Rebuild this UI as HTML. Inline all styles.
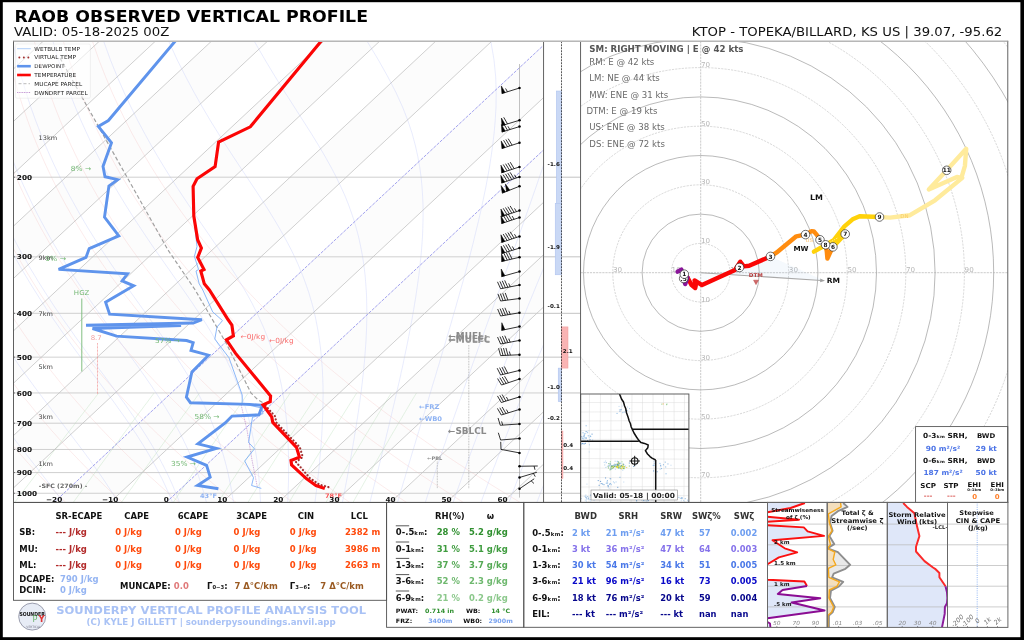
<!DOCTYPE html>
<html><head><meta charset="utf-8"><title>RAOB OBSERVED VERTICAL PROFILE</title>
<style>
html,body{margin:0;padding:0;background:#fff;}
body{width:1024px;height:640px;overflow:hidden;font-family:"DejaVu Sans","Liberation Sans",sans-serif;}
svg{display:block;font-family:"DejaVu Sans","Liberation Sans",sans-serif;will-change:transform;}
</style></head><body>
<svg width="1024" height="640" viewBox="0 0 1024 640">
<rect x="0" y="0" width="1024" height="640" fill="#000"/>
<rect x="2.8" y="2.2" width="1017.6" height="635" fill="#fff"/>
<text transform="translate(14.50,22.00) scale(1.06,1)" font-size="16.38" font-weight="bold" font-style="normal" fill="#000" >RAOB OBSERVED VERTICAL PROFILE</text>
<text transform="translate(14.00,36.20) scale(1.06,1)" font-size="12.57" font-weight="normal" font-style="normal" fill="#111" >VALID: 05-18-2025 00Z</text>
<text transform="translate(691.80,36.20) scale(1.06,1)" font-size="12.50" font-weight="normal" font-style="normal" fill="#111" >KTOP - TOPEKA/BILLARD, KS US | 39.07, -95.62</text>
<defs><clipPath id="skc"><rect x="13.5" y="41.25" width="530.1" height="461.15"/></clipPath></defs>
<g clip-path="url(#skc)">
<polygon points="-730.9,502.4 -674.9,502.4 -181.1,41.2 -237.2,41.2" fill="#fcfcfc"/>
<polygon points="-618.8,502.4 -562.7,502.4 -69.0,41.2 -125.0,41.2" fill="#fcfcfc"/>
<polygon points="-506.6,502.4 -450.6,502.4 43.2,41.2 -12.9,41.2" fill="#fcfcfc"/>
<polygon points="-394.5,502.4 -338.4,502.4 155.3,41.2 99.3,41.2" fill="#fcfcfc"/>
<polygon points="-282.4,502.4 -226.3,502.4 267.5,41.2 211.4,41.2" fill="#fcfcfc"/>
<polygon points="-170.2,502.4 -114.2,502.4 379.6,41.2 323.5,41.2" fill="#fcfcfc"/>
<polygon points="-58.1,502.4 -2.0,502.4 491.7,41.2 435.7,41.2" fill="#fcfcfc"/>
<polygon points="54.1,502.4 110.1,502.4 603.9,41.2 547.8,41.2" fill="#fcfcfc"/>
<polygon points="166.2,502.4 222.3,502.4 716.0,41.2 660.0,41.2" fill="#fcfcfc"/>
<polygon points="278.3,502.4 334.4,502.4 828.2,41.2 772.1,41.2" fill="#fcfcfc"/>
<polygon points="390.5,502.4 446.6,502.4 940.3,41.2 884.2,41.2" fill="#fcfcfc"/>
<polygon points="502.6,502.4 558.7,502.4 1052.4,41.2 996.4,41.2" fill="#fcfcfc"/>
<polyline points="-47.6,502.9 -49.2,501.0 -50.8,499.1 -52.4,497.2 -54.0,495.2 -55.6,493.3 -57.2,491.3 -58.8,489.3 -60.5,487.3 -62.1,485.3 -63.7,483.2 -65.4,481.1 -67.0,479.0 -68.7,476.9 -70.3,474.8 -72.0,472.6 -73.7,470.4 -75.3,468.2 -77.0,465.9 -78.7,463.7 -80.4,461.4 -82.1,459.0 -83.8,456.7 -85.5,454.3 -87.2,451.9 -89.0,449.5 -90.7,447.0 -92.4,444.5 -94.2,442.0 -95.9,439.4 -97.7,436.8 -99.4,434.1 -101.2,431.5 -103.0,428.8 -104.8,426.0 -106.5,423.2 -108.3,420.4 -110.1,417.5 -111.9,414.6 -113.7,411.7 -115.6,408.7 -117.4,405.6 -119.2,402.5 -121.0,399.4 -122.9,396.2 -124.7,393.0 -126.6,389.7 -128.4,386.3 -130.3,382.9 -132.1,379.4 -134.0,375.9 -135.9,372.3 -137.8,368.6 -139.6,364.9 -141.5,361.0 -143.4,357.1 -145.3,353.2 -147.2,349.1 -149.1,345.0 -151.0,340.8 -152.9,336.5 -154.8,332.0 -156.7,327.5 -158.6,322.9 -160.4,318.2 -162.3,313.3 -164.2,308.4 -166.1,303.2 -168.0,298.0 -169.9,292.6 -171.7,287.1 -173.6,281.4 -175.4,275.5 -177.2,269.5 -179.0,263.3 -180.8,256.8 -182.5,250.2 -184.3,243.3 -186.0,236.1 -187.6,228.7 -189.2,221.0 -190.8,213.0 -192.3,204.6 -193.7,195.9 -195.1,186.8 -196.3,177.2 -197.5,167.1 -198.5,156.5 -199.4,145.3 -200.1,133.4 -200.6,120.7 -200.9,107.1 -200.8,92.6 -200.4,76.9 -199.5,59.8 -198.0,41.1" fill="none" stroke="#f3b6b6" stroke-width="0.45" opacity="0.6"/>
<polyline points="9.2,502.9 7.5,501.0 5.7,499.1 4.0,497.2 2.2,495.2 0.5,493.3 -1.3,491.3 -3.1,489.3 -4.9,487.3 -6.7,485.3 -8.5,483.2 -10.3,481.1 -12.1,479.0 -13.9,476.9 -15.8,474.8 -17.6,472.6 -19.4,470.4 -21.3,468.2 -23.1,465.9 -25.0,463.7 -26.9,461.4 -28.8,459.0 -30.7,456.7 -32.6,454.3 -34.5,451.9 -36.4,449.5 -38.3,447.0 -40.2,444.5 -42.1,442.0 -44.1,439.4 -46.0,436.8 -48.0,434.1 -50.0,431.5 -51.9,428.8 -53.9,426.0 -55.9,423.2 -57.9,420.4 -59.9,417.5 -61.9,414.6 -64.0,411.7 -66.0,408.7 -68.0,405.6 -70.1,402.5 -72.1,399.4 -74.2,396.2 -76.3,393.0 -78.3,389.7 -80.4,386.3 -82.5,382.9 -84.6,379.4 -86.7,375.9 -88.9,372.3 -91.0,368.6 -93.1,364.9 -95.3,361.0 -97.4,357.1 -99.6,353.2 -101.7,349.1 -103.9,345.0 -106.1,340.8 -108.2,336.5 -110.4,332.0 -112.6,327.5 -114.8,322.9 -117.0,318.2 -119.2,313.3 -121.4,308.4 -123.6,303.2 -125.8,298.0 -128.0,292.6 -130.2,287.1 -132.4,281.4 -134.5,275.5 -136.7,269.5 -138.9,263.3 -141.0,256.8 -143.2,250.2 -145.3,243.3 -147.4,236.1 -149.5,228.7 -151.5,221.0 -153.5,213.0 -155.4,204.6 -157.3,195.9 -159.2,186.8 -160.9,177.2 -162.6,167.1 -164.2,156.5 -165.6,145.3 -166.9,133.4 -168.0,120.7 -168.9,107.1 -169.5,92.6 -169.8,76.9 -169.7,59.8 -169.0,41.1" fill="none" stroke="#f3b6b6" stroke-width="0.45" opacity="0.6"/>
<polyline points="66.1,502.9 64.2,501.0 62.3,499.1 60.4,497.2 58.5,495.2 56.5,493.3 54.6,491.3 52.7,489.3 50.7,487.3 48.7,485.3 46.8,483.2 44.8,481.1 42.8,479.0 40.8,476.9 38.8,474.8 36.8,472.6 34.8,470.4 32.8,468.2 30.7,465.9 28.7,463.7 26.6,461.4 24.6,459.0 22.5,456.7 20.4,454.3 18.3,451.9 16.2,449.5 14.1,447.0 12.0,444.5 9.9,442.0 7.8,439.4 5.6,436.8 3.4,434.1 1.3,431.5 -0.9,428.8 -3.1,426.0 -5.3,423.2 -7.5,420.4 -9.7,417.5 -11.9,414.6 -14.2,411.7 -16.4,408.7 -18.7,405.6 -20.9,402.5 -23.2,399.4 -25.5,396.2 -27.8,393.0 -30.1,389.7 -32.4,386.3 -34.8,382.9 -37.1,379.4 -39.5,375.9 -41.8,372.3 -44.2,368.6 -46.6,364.9 -49.0,361.0 -51.4,357.1 -53.8,353.2 -56.3,349.1 -58.7,345.0 -61.1,340.8 -63.6,336.5 -66.1,332.0 -68.5,327.5 -71.0,322.9 -73.5,318.2 -76.0,313.3 -78.5,308.4 -81.1,303.2 -83.6,298.0 -86.1,292.6 -88.6,287.1 -91.2,281.4 -93.7,275.5 -96.2,269.5 -98.8,263.3 -101.3,256.8 -103.8,250.2 -106.3,243.3 -108.8,236.1 -111.3,228.7 -113.8,221.0 -116.2,213.0 -118.6,204.6 -121.0,195.9 -123.3,186.8 -125.5,177.2 -127.7,167.1 -129.8,156.5 -131.8,145.3 -133.7,133.4 -135.4,120.7 -136.9,107.1 -138.2,92.6 -139.2,76.9 -139.8,59.8 -140.0,41.1" fill="none" stroke="#f3b6b6" stroke-width="0.45" opacity="0.6"/>
<polyline points="123.0,502.9 120.9,501.0 118.8,499.1 116.8,497.2 114.7,495.2 112.6,493.3 110.5,491.3 108.4,489.3 106.3,487.3 104.2,485.3 102.0,483.2 99.9,481.1 97.7,479.0 95.6,476.9 93.4,474.8 91.2,472.6 89.0,470.4 86.8,468.2 84.6,465.9 82.4,463.7 80.2,461.4 77.9,459.0 75.7,456.7 73.4,454.3 71.1,451.9 68.8,449.5 66.6,447.0 64.2,444.5 61.9,442.0 59.6,439.4 57.3,436.8 54.9,434.1 52.5,431.5 50.2,428.8 47.8,426.0 45.4,423.2 43.0,420.4 40.5,417.5 38.1,414.6 35.6,411.7 33.2,408.7 30.7,405.6 28.2,402.5 25.7,399.4 23.2,396.2 20.7,393.0 18.1,389.7 15.6,386.3 13.0,382.9 10.4,379.4 7.8,375.9 5.2,372.3 2.6,368.6 -0.1,364.9 -2.7,361.0 -5.4,357.1 -8.1,353.2 -10.8,349.1 -13.5,345.0 -16.2,340.8 -19.0,336.5 -21.7,332.0 -24.5,327.5 -27.3,322.9 -30.1,318.2 -32.9,313.3 -35.7,308.4 -38.5,303.2 -41.4,298.0 -44.2,292.6 -47.1,287.1 -50.0,281.4 -52.9,275.5 -55.7,269.5 -58.6,263.3 -61.5,256.8 -64.4,250.2 -67.3,243.3 -70.3,236.1 -73.1,228.7 -76.0,221.0 -78.9,213.0 -81.8,204.6 -84.6,195.9 -87.4,186.8 -90.1,177.2 -92.8,167.1 -95.5,156.5 -98.0,145.3 -100.5,133.4 -102.8,120.7 -104.9,107.1 -106.9,92.6 -108.6,76.9 -110.0,59.8 -110.9,41.1" fill="none" stroke="#f3b6b6" stroke-width="0.45" opacity="0.6"/>
<polyline points="179.8,502.9 177.6,501.0 175.4,499.1 173.2,497.2 170.9,495.2 168.7,493.3 166.4,491.3 164.1,489.3 161.9,487.3 159.6,485.3 157.3,483.2 155.0,481.1 152.7,479.0 150.3,476.9 148.0,474.8 145.6,472.6 143.3,470.4 140.9,468.2 138.5,465.9 136.1,463.7 133.7,461.4 131.3,459.0 128.8,456.7 126.4,454.3 123.9,451.9 121.5,449.5 119.0,447.0 116.5,444.5 114.0,442.0 111.4,439.4 108.9,436.8 106.3,434.1 103.8,431.5 101.2,428.8 98.6,426.0 96.0,423.2 93.4,420.4 90.7,417.5 88.1,414.6 85.4,411.7 82.7,408.7 80.1,405.6 77.3,402.5 74.6,399.4 71.9,396.2 69.1,393.0 66.3,389.7 63.5,386.3 60.7,382.9 57.9,379.4 55.1,375.9 52.2,372.3 49.3,368.6 46.4,364.9 43.5,361.0 40.6,357.1 37.6,353.2 34.7,349.1 31.7,345.0 28.7,340.8 25.7,336.5 22.6,332.0 19.6,327.5 16.5,322.9 13.4,318.2 10.3,313.3 7.2,308.4 4.0,303.2 0.8,298.0 -2.4,292.6 -5.6,287.1 -8.8,281.4 -12.0,275.5 -15.3,269.5 -18.5,263.3 -21.8,256.8 -25.1,250.2 -28.4,243.3 -31.7,236.1 -35.0,228.7 -38.3,221.0 -41.6,213.0 -44.9,204.6 -48.2,195.9 -51.5,186.8 -54.7,177.2 -57.9,167.1 -61.1,156.5 -64.2,145.3 -67.2,133.4 -70.2,120.7 -73.0,107.1 -75.6,92.6 -78.0,76.9 -80.1,59.8 -81.9,41.1" fill="none" stroke="#f3b6b6" stroke-width="0.45" opacity="0.6"/>
<polyline points="236.7,502.9 234.3,501.0 231.9,499.1 229.5,497.2 227.1,495.2 224.7,493.3 222.3,491.3 219.9,489.3 217.5,487.3 215.0,485.3 212.5,483.2 210.1,481.1 207.6,479.0 205.1,476.9 202.6,474.8 200.0,472.6 197.5,470.4 194.9,468.2 192.4,465.9 189.8,463.7 187.2,461.4 184.6,459.0 182.0,456.7 179.4,454.3 176.7,451.9 174.1,449.5 171.4,447.0 168.7,444.5 166.0,442.0 163.3,439.4 160.5,436.8 157.8,434.1 155.0,431.5 152.2,428.8 149.5,426.0 146.6,423.2 143.8,420.4 141.0,417.5 138.1,414.6 135.2,411.7 132.3,408.7 129.4,405.6 126.5,402.5 123.5,399.4 120.6,396.2 117.6,393.0 114.6,389.7 111.5,386.3 108.5,382.9 105.4,379.4 102.3,375.9 99.2,372.3 96.1,368.6 92.9,364.9 89.8,361.0 86.6,357.1 83.4,353.2 80.1,349.1 76.9,345.0 73.6,340.8 70.3,336.5 67.0,332.0 63.6,327.5 60.3,322.9 56.9,318.2 53.4,313.3 50.0,308.4 46.5,303.2 43.0,298.0 39.5,292.6 36.0,287.1 32.4,281.4 28.8,275.5 25.2,269.5 21.6,263.3 18.0,256.8 14.3,250.2 10.6,243.3 6.9,236.1 3.2,228.7 -0.6,221.0 -4.3,213.0 -8.1,204.6 -11.8,195.9 -15.6,186.8 -19.3,177.2 -23.1,167.1 -26.8,156.5 -30.4,145.3 -34.0,133.4 -37.6,120.7 -41.0,107.1 -44.3,92.6 -47.4,76.9 -50.3,59.8 -52.8,41.1" fill="none" stroke="#f3b6b6" stroke-width="0.45" opacity="0.6"/>
<polyline points="293.5,502.9 291.0,501.0 288.5,499.1 285.9,497.2 283.4,495.2 280.8,493.3 278.2,491.3 275.6,489.3 273.0,487.3 270.4,485.3 267.8,483.2 265.2,481.1 262.5,479.0 259.8,476.9 257.1,474.8 254.4,472.6 251.7,470.4 249.0,468.2 246.3,465.9 243.5,463.7 240.7,461.4 238.0,459.0 235.2,456.7 232.3,454.3 229.5,451.9 226.7,449.5 223.8,447.0 220.9,444.5 218.0,442.0 215.1,439.4 212.2,436.8 209.2,434.1 206.3,431.5 203.3,428.8 200.3,426.0 197.3,423.2 194.2,420.4 191.2,417.5 188.1,414.6 185.0,411.7 181.9,408.7 178.8,405.6 175.6,402.5 172.4,399.4 169.2,396.2 166.0,393.0 162.8,389.7 159.5,386.3 156.2,382.9 152.9,379.4 149.6,375.9 146.2,372.3 142.9,368.6 139.5,364.9 136.0,361.0 132.6,357.1 129.1,353.2 125.6,349.1 122.1,345.0 118.5,340.8 114.9,336.5 111.3,332.0 107.7,327.5 104.0,322.9 100.3,318.2 96.6,313.3 92.8,308.4 89.1,303.2 85.2,298.0 81.4,292.6 77.5,287.1 73.6,281.4 69.7,275.5 65.7,269.5 61.7,263.3 57.7,256.8 53.7,250.2 49.6,243.3 45.5,236.1 41.3,228.7 37.2,221.0 33.0,213.0 28.8,204.6 24.6,195.9 20.3,186.8 16.1,177.2 11.8,167.1 7.6,156.5 3.4,145.3 -0.8,133.4 -5.0,120.7 -9.0,107.1 -13.0,92.6 -16.8,76.9 -20.4,59.8 -23.8,41.1" fill="none" stroke="#f3b6b6" stroke-width="0.45" opacity="0.6"/>
<polyline points="350.4,502.9 347.7,501.0 345.0,499.1 342.3,497.2 339.6,495.2 336.9,493.3 334.1,491.3 331.4,489.3 328.6,487.3 325.8,485.3 323.0,483.2 320.2,481.1 317.4,479.0 314.6,476.9 311.7,474.8 308.9,472.6 306.0,470.4 303.1,468.2 300.2,465.9 297.2,463.7 294.3,461.4 291.3,459.0 288.3,456.7 285.3,454.3 282.3,451.9 279.3,449.5 276.2,447.0 273.2,444.5 270.1,442.0 267.0,439.4 263.8,436.8 260.7,434.1 257.5,431.5 254.3,428.8 251.1,426.0 247.9,423.2 244.7,420.4 241.4,417.5 238.1,414.6 234.8,411.7 231.5,408.7 228.1,405.6 224.7,402.5 221.3,399.4 217.9,396.2 214.5,393.0 211.0,389.7 207.5,386.3 204.0,382.9 200.4,379.4 196.9,375.9 193.3,372.3 189.6,368.6 186.0,364.9 182.3,361.0 178.6,357.1 174.8,353.2 171.1,349.1 167.3,345.0 163.4,340.8 159.6,336.5 155.7,332.0 151.7,327.5 147.8,322.9 143.8,318.2 139.7,313.3 135.7,308.4 131.6,303.2 127.4,298.0 123.3,292.6 119.1,287.1 114.8,281.4 110.5,275.5 106.2,269.5 101.9,263.3 97.5,256.8 93.0,250.2 88.5,243.3 84.0,236.1 79.5,228.7 74.9,221.0 70.3,213.0 65.6,204.6 60.9,195.9 56.2,186.8 51.5,177.2 46.7,167.1 41.9,156.5 37.2,145.3 32.4,133.4 27.7,120.7 23.0,107.1 18.3,92.6 13.8,76.9 9.4,59.8 5.3,41.1" fill="none" stroke="#f3b6b6" stroke-width="0.45" opacity="0.6"/>
<polyline points="407.2,502.9 404.4,501.0 401.6,499.1 398.7,497.2 395.8,495.2 393.0,493.3 390.1,491.3 387.1,489.3 384.2,487.3 381.3,485.3 378.3,483.2 375.3,481.1 372.3,479.0 369.3,476.9 366.3,474.8 363.3,472.6 360.2,470.4 357.1,468.2 354.0,465.9 350.9,463.7 347.8,461.4 344.7,459.0 341.5,456.7 338.3,454.3 335.1,451.9 331.9,449.5 328.6,447.0 325.4,444.5 322.1,442.0 318.8,439.4 315.5,436.8 312.1,434.1 308.8,431.5 305.4,428.8 302.0,426.0 298.6,423.2 295.1,420.4 291.6,417.5 288.1,414.6 284.6,411.7 281.1,408.7 277.5,405.6 273.9,402.5 270.3,399.4 266.6,396.2 262.9,393.0 259.2,389.7 255.5,386.3 251.7,382.9 247.9,379.4 244.1,375.9 240.3,372.3 236.4,368.6 232.5,364.9 228.5,361.0 224.6,357.1 220.6,353.2 216.5,349.1 212.5,345.0 208.3,340.8 204.2,336.5 200.0,332.0 195.8,327.5 191.5,322.9 187.2,318.2 182.9,313.3 178.5,308.4 174.1,303.2 169.7,298.0 165.2,292.6 160.6,287.1 156.0,281.4 151.4,275.5 146.7,269.5 142.0,263.3 137.2,256.8 132.4,250.2 127.5,243.3 122.6,236.1 117.6,228.7 112.6,221.0 107.6,213.0 102.5,204.6 97.3,195.9 92.1,186.8 86.9,177.2 81.6,167.1 76.3,156.5 71.0,145.3 65.6,133.4 60.3,120.7 54.9,107.1 49.6,92.6 44.4,76.9 39.3,59.8 34.3,41.1" fill="none" stroke="#f3b6b6" stroke-width="0.45" opacity="0.6"/>
<polyline points="464.1,502.9 461.1,501.0 458.1,499.1 455.1,497.2 452.1,495.2 449.0,493.3 446.0,491.3 442.9,489.3 439.8,487.3 436.7,485.3 433.6,483.2 430.4,481.1 427.3,479.0 424.1,476.9 420.9,474.8 417.7,472.6 414.4,470.4 411.2,468.2 407.9,465.9 404.6,463.7 401.3,461.4 398.0,459.0 394.6,456.7 391.3,454.3 387.9,451.9 384.5,449.5 381.1,447.0 377.6,444.5 374.1,442.0 370.6,439.4 367.1,436.8 363.6,434.1 360.0,431.5 356.4,428.8 352.8,426.0 349.2,423.2 345.5,420.4 341.8,417.5 338.1,414.6 334.4,411.7 330.6,408.7 326.8,405.6 323.0,402.5 319.2,399.4 315.3,396.2 311.4,393.0 307.5,389.7 303.5,386.3 299.5,382.9 295.5,379.4 291.4,375.9 287.3,372.3 283.2,368.6 279.0,364.9 274.8,361.0 270.6,357.1 266.3,353.2 262.0,349.1 257.6,345.0 253.3,340.8 248.8,336.5 244.4,332.0 239.9,327.5 235.3,322.9 230.7,318.2 226.1,313.3 221.4,308.4 216.6,303.2 211.9,298.0 207.0,292.6 202.1,287.1 197.2,281.4 192.2,275.5 187.2,269.5 182.1,263.3 177.0,256.8 171.8,250.2 166.5,243.3 161.2,236.1 155.8,228.7 150.4,221.0 144.9,213.0 139.3,204.6 133.7,195.9 128.0,186.8 122.3,177.2 116.5,167.1 110.7,156.5 104.8,145.3 98.8,133.4 92.9,120.7 86.9,107.1 80.9,92.6 75.0,76.9 69.1,59.8 63.3,41.1" fill="none" stroke="#f3b6b6" stroke-width="0.45" opacity="0.6"/>
<polyline points="521.0,502.9 517.8,501.0 514.7,499.1 511.5,497.2 508.3,495.2 505.1,493.3 501.9,491.3 498.6,489.3 495.4,487.3 492.1,485.3 488.8,483.2 485.5,481.1 482.2,479.0 478.8,476.9 475.5,474.8 472.1,472.6 468.7,470.4 465.2,468.2 461.8,465.9 458.3,463.7 454.8,461.4 451.3,459.0 447.8,456.7 444.3,454.3 440.7,451.9 437.1,449.5 433.5,447.0 429.8,444.5 426.2,442.0 422.5,439.4 418.8,436.8 415.0,434.1 411.3,431.5 407.5,428.8 403.7,426.0 399.8,423.2 396.0,420.4 392.1,417.5 388.1,414.6 384.2,411.7 380.2,408.7 376.2,405.6 372.2,402.5 368.1,399.4 364.0,396.2 359.8,393.0 355.7,389.7 351.5,386.3 347.2,382.9 343.0,379.4 338.7,375.9 334.3,372.3 329.9,368.6 325.5,364.9 321.1,361.0 316.6,357.1 312.0,353.2 307.5,349.1 302.8,345.0 298.2,340.8 293.5,336.5 288.7,332.0 283.9,327.5 279.1,322.9 274.2,318.2 269.2,313.3 264.2,308.4 259.2,303.2 254.1,298.0 248.9,292.6 243.7,287.1 238.4,281.4 233.1,275.5 227.7,269.5 222.2,263.3 216.7,256.8 211.1,250.2 205.5,243.3 199.8,236.1 194.0,228.7 188.1,221.0 182.2,213.0 176.2,204.6 170.1,195.9 163.9,186.8 157.7,177.2 151.4,167.1 145.0,156.5 138.6,145.3 132.0,133.4 125.5,120.7 118.9,107.1 112.2,92.6 105.6,76.9 98.9,59.8 92.4,41.1" fill="none" stroke="#f3b6b6" stroke-width="0.45" opacity="0.6"/>
<polyline points="-48.1,502.9 -55.6,493.3 -57.1,491.3 -58.7,489.3 -60.2,487.3 -61.8,485.3 -63.4,483.2 -64.9,481.1 -66.5,479.0 -68.1,476.9 -69.7,474.8 -71.3,472.6 -73.0,470.4 -74.6,468.2 -76.2,465.9 -77.9,463.7 -79.5,461.4 -81.2,459.0 -82.9,456.7 -84.5,454.3 -86.2,451.9 -87.9,449.5 -89.6,447.0 -91.3,444.5 -93.1,442.0 -94.8,439.4 -96.5,436.8 -98.3,434.1 -100.0,431.5 -101.8,428.8 -103.5,426.0 -105.3,423.2 -107.1,420.4 -108.9,417.5 -110.7,414.6 -112.5,411.7 -114.3,408.7 -116.1,405.6 -117.9,402.5 -119.7,399.4 -121.5,396.2 -123.4,393.0 -125.2,389.7 -127.1,386.3 -128.9,382.9 -130.8,379.4 -132.7,375.9 -134.5,372.3 -136.4,368.6 -138.3,364.9 -140.2,361.0 -142.0,357.1 -143.9,353.2 -145.8,349.1 -147.7,345.0 -149.6,340.8 -151.5,336.5 -153.4,332.0 -155.3,327.5 -157.2,322.9 -159.1,318.2 -161.0,313.3 -162.9,308.4 -164.8,303.2 -166.6,298.0 -168.5,292.6 -170.4,287.1 -172.2,281.4 -174.1,275.5 -175.9,269.5 -177.7,263.3 -179.5,256.8 -181.2,250.2 -183.0,243.3 -184.7,236.1 -186.3,228.7 -187.9,221.0 -189.5,213.0 -191.0,204.6 -192.4,195.9 -193.8,186.8 -195.1,177.2 -196.2,167.1 -197.3,156.5 -198.2,145.3 -198.9,133.4 -199.4,120.7 -199.6,107.1 -199.6,92.6 -199.2,76.9 -198.3,59.8 -196.9,41.1" fill="none" stroke="#c2cbf8" stroke-width="0.45" opacity="0.8"/>
<polyline points="8.1,502.9 0.5,493.3 -1.1,491.3 -2.7,489.3 -4.3,487.3 -5.9,485.3 -7.6,483.2 -9.2,481.1 -10.9,479.0 -12.5,476.9 -14.2,474.8 -15.9,472.6 -17.7,470.4 -19.4,468.2 -21.1,465.9 -22.9,463.7 -24.7,461.4 -26.4,459.0 -28.2,456.7 -30.0,454.3 -31.9,451.9 -33.7,449.5 -35.6,447.0 -37.4,444.5 -39.3,442.0 -41.2,439.4 -43.1,436.8 -45.0,434.1 -46.9,431.5 -48.8,428.8 -50.8,426.0 -52.7,423.2 -54.7,420.4 -56.7,417.5 -58.7,414.6 -60.7,411.7 -62.7,408.7 -64.7,405.6 -66.7,402.5 -68.8,399.4 -70.8,396.2 -72.9,393.0 -75.0,389.7 -77.0,386.3 -79.1,382.9 -81.2,379.4 -83.3,375.9 -85.5,372.3 -87.6,368.6 -89.7,364.9 -91.9,361.0 -94.0,357.1 -96.2,353.2 -98.4,349.1 -100.5,345.0 -102.7,340.8 -104.9,336.5 -107.1,332.0 -109.3,327.5 -111.5,322.9 -113.7,318.2 -115.9,313.3 -118.1,308.4 -120.3,303.2 -122.6,298.0 -124.8,292.6 -127.0,287.1 -129.2,281.4 -131.4,275.5 -133.6,269.5 -135.8,263.3 -137.9,256.8 -140.1,250.2 -142.2,243.3 -144.4,236.1 -146.5,228.7 -148.5,221.0 -150.5,213.0 -152.5,204.6 -154.4,195.9 -156.3,186.8 -158.1,177.2 -159.8,167.1 -161.4,156.5 -162.8,145.3 -164.2,133.4 -165.3,120.7 -166.2,107.1 -166.9,92.6 -167.2,76.9 -167.1,59.8 -166.5,41.1" fill="none" stroke="#c2cbf8" stroke-width="0.45" opacity="0.8"/>
<polyline points="63.7,502.9 56.5,493.3 55.0,491.3 53.5,489.3 52.0,487.3 50.4,485.3 48.8,483.2 47.2,481.1 45.6,479.0 43.9,476.9 42.3,474.8 40.6,472.6 38.8,470.4 37.1,468.2 35.4,465.9 33.6,463.7 31.8,461.4 30.0,459.0 28.1,456.7 26.3,454.3 24.4,451.9 22.5,449.5 20.5,447.0 18.6,444.5 16.6,442.0 14.7,439.4 12.7,436.8 10.6,434.1 8.6,431.5 6.5,428.8 4.4,426.0 2.3,423.2 0.2,420.4 -1.9,417.5 -4.1,414.6 -6.2,411.7 -8.4,408.7 -10.6,405.6 -12.9,402.5 -15.1,399.4 -17.4,396.2 -19.6,393.0 -21.9,389.7 -24.2,386.3 -26.5,382.9 -28.9,379.4 -31.2,375.9 -33.6,372.3 -36.0,368.6 -38.4,364.9 -40.8,361.0 -43.2,357.1 -45.7,353.2 -48.1,349.1 -50.6,345.0 -53.1,340.8 -55.5,336.5 -58.0,332.0 -60.6,327.5 -63.1,322.9 -65.6,318.2 -68.2,313.3 -70.7,308.4 -73.3,303.2 -75.8,298.0 -78.4,292.6 -81.0,287.1 -83.6,281.4 -86.2,275.5 -88.8,269.5 -91.3,263.3 -93.9,256.8 -96.5,250.2 -99.1,243.3 -101.7,236.1 -104.2,228.7 -106.7,221.0 -109.2,213.0 -111.7,204.6 -114.1,195.9 -116.5,186.8 -118.9,177.2 -121.1,167.1 -123.3,156.5 -125.4,145.3 -127.4,133.4 -129.2,120.7 -130.8,107.1 -132.2,92.6 -133.3,76.9 -134.1,59.8 -134.4,41.1" fill="none" stroke="#c2cbf8" stroke-width="0.45" opacity="0.8"/>
<polyline points="118.5,502.9 112.6,493.3 111.3,491.3 110.1,489.3 108.7,487.3 107.4,485.3 106.0,483.2 104.6,481.1 103.2,479.0 101.8,476.9 100.3,474.8 98.8,472.6 97.2,470.4 95.6,468.2 94.0,465.9 92.4,463.7 90.8,461.4 89.1,459.0 87.3,456.7 85.6,454.3 83.8,451.9 82.0,449.5 80.1,447.0 78.3,444.5 76.3,442.0 74.4,439.4 72.4,436.8 70.4,434.1 68.4,431.5 66.3,428.8 64.2,426.0 62.1,423.2 59.9,420.4 57.7,417.5 55.5,414.6 53.2,411.7 50.9,408.7 48.6,405.6 46.3,402.5 43.9,399.4 41.5,396.2 39.1,393.0 36.6,389.7 34.1,386.3 31.6,382.9 29.1,379.4 26.5,375.9 23.9,372.3 21.3,368.6 18.7,364.9 16.0,361.0 13.3,357.1 10.6,353.2 7.9,349.1 5.1,345.0 2.3,340.8 -0.5,336.5 -3.3,332.0 -6.2,327.5 -9.0,322.9 -11.9,318.2 -14.8,313.3 -17.7,308.4 -20.7,303.2 -23.6,298.0 -26.6,292.6 -29.6,287.1 -32.6,281.4 -35.6,275.5 -38.6,269.5 -41.7,263.3 -44.7,256.8 -47.8,250.2 -50.8,243.3 -53.9,236.1 -56.9,228.7 -60.0,221.0 -63.0,213.0 -66.1,204.6 -69.1,195.9 -72.1,186.8 -75.0,177.2 -77.9,167.1 -80.8,156.5 -83.6,145.3 -86.2,133.4 -88.8,120.7 -91.2,107.1 -93.4,92.6 -95.4,76.9 -97.1,59.8 -98.4,41.1" fill="none" stroke="#c2cbf8" stroke-width="0.45" opacity="0.8"/>
<polyline points="172.7,502.9 168.7,493.3 167.8,491.3 166.9,489.3 166.0,487.3 165.1,485.3 164.1,483.2 163.1,481.1 162.1,479.0 161.0,476.9 159.9,474.8 158.8,472.6 157.7,470.4 156.5,468.2 155.3,465.9 154.0,463.7 152.8,461.4 151.4,459.0 150.1,456.7 148.7,454.3 147.3,451.9 145.8,449.5 144.3,447.0 142.8,444.5 141.2,442.0 139.5,439.4 137.9,436.8 136.2,434.1 134.4,431.5 132.6,428.8 130.7,426.0 128.8,423.2 126.9,420.4 124.9,417.5 122.8,414.6 120.7,411.7 118.6,408.7 116.4,405.6 114.2,402.5 111.9,399.4 109.5,396.2 107.1,393.0 104.7,389.7 102.2,386.3 99.6,382.9 97.1,379.4 94.4,375.9 91.7,372.3 89.0,368.6 86.2,364.9 83.4,361.0 80.5,357.1 77.6,353.2 74.6,349.1 71.6,345.0 68.6,340.8 65.5,336.5 62.3,332.0 59.2,327.5 56.0,322.9 52.7,318.2 49.4,313.3 46.1,308.4 42.8,303.2 39.4,298.0 36.0,292.6 32.5,287.1 29.0,281.4 25.5,275.5 22.0,269.5 18.4,263.3 14.8,256.8 11.2,250.2 7.6,243.3 3.9,236.1 0.2,228.7 -3.4,221.0 -7.1,213.0 -10.8,204.6 -14.6,195.9 -18.3,186.8 -21.9,177.2 -25.6,167.1 -29.3,156.5 -32.9,145.3 -36.4,133.4 -39.9,120.7 -43.3,107.1 -46.5,92.6 -49.5,76.9 -52.3,59.8 -54.8,41.1" fill="none" stroke="#c2cbf8" stroke-width="0.45" opacity="0.8"/>
<polyline points="179.7,502.9 176.0,493.3 175.2,491.3 174.3,489.3 173.5,487.3 172.6,485.3 171.7,483.2 170.7,481.1 169.8,479.0 168.8,476.9 167.8,474.8 166.7,472.6 165.6,470.4 164.5,468.2 163.4,465.9 162.2,463.7 161.0,461.4 159.8,459.0 158.5,456.7 157.2,454.3 155.8,451.9 154.4,449.5 153.0,447.0 151.5,444.5 150.0,442.0 148.4,439.4 146.8,436.8 145.1,434.1 143.4,431.5 141.7,428.8 139.9,426.0 138.1,423.2 136.2,420.4 134.2,417.5 132.2,414.6 130.2,411.7 128.1,408.7 126.0,405.6 123.8,402.5 121.5,399.4 119.2,396.2 116.8,393.0 114.4,389.7 112.0,386.3 109.4,382.9 106.9,379.4 104.3,375.9 101.6,372.3 98.8,368.6 96.1,364.9 93.2,361.0 90.4,357.1 87.4,353.2 84.4,349.1 81.4,345.0 78.3,340.8 75.2,336.5 72.1,332.0 68.9,327.5 65.6,322.9 62.3,318.2 59.0,313.3 55.6,308.4 52.2,303.2 48.8,298.0 45.3,292.6 41.8,287.1 38.2,281.4 34.7,275.5 31.0,269.5 27.4,263.3 23.7,256.8 20.0,250.2 16.3,243.3 12.6,236.1 8.8,228.7 5.0,221.0 1.2,213.0 -2.6,204.6 -6.4,195.9 -10.2,186.8 -14.0,177.2 -17.8,167.1 -21.5,156.5 -25.3,145.3 -29.0,133.4 -32.6,120.7 -36.1,107.1 -39.5,92.6 -42.7,76.9 -45.6,59.8 -48.3,41.1" fill="none" stroke="#c2cbf8" stroke-width="0.45" opacity="0.8"/>
<polyline points="206.6,502.9 204.0,493.3 203.4,491.3 202.8,489.3 202.2,487.3 201.6,485.3 200.9,483.2 200.2,481.1 199.5,479.0 198.8,476.9 198.1,474.8 197.3,472.6 196.5,470.4 195.6,468.2 194.8,465.9 193.9,463.7 193.0,461.4 192.0,459.0 191.0,456.7 190.0,454.3 189.0,451.9 187.9,449.5 186.7,447.0 185.6,444.5 184.3,442.0 183.1,439.4 181.8,436.8 180.5,434.1 179.1,431.5 177.6,428.8 176.1,426.0 174.6,423.2 173.0,420.4 171.4,417.5 169.7,414.6 167.9,411.7 166.1,408.7 164.2,405.6 162.3,402.5 160.3,399.4 158.2,396.2 156.1,393.0 153.9,389.7 151.7,386.3 149.3,382.9 146.9,379.4 144.5,375.9 141.9,372.3 139.3,368.6 136.7,364.9 133.9,361.0 131.1,357.1 128.2,353.2 125.3,349.1 122.2,345.0 119.2,340.8 116.0,336.5 112.8,332.0 109.5,327.5 106.1,322.9 102.7,318.2 99.2,313.3 95.7,308.4 92.1,303.2 88.5,298.0 84.8,292.6 81.0,287.1 77.2,281.4 73.4,275.5 69.5,269.5 65.5,263.3 61.5,256.8 57.5,250.2 53.4,243.3 49.3,236.1 45.2,228.7 41.0,221.0 36.8,213.0 32.6,204.6 28.4,195.9 24.1,186.8 19.8,177.2 15.5,167.1 11.3,156.5 7.0,145.3 2.8,133.4 -1.4,120.7 -5.5,107.1 -9.6,92.6 -13.4,76.9 -17.1,59.8 -20.6,41.1" fill="none" stroke="#c2cbf8" stroke-width="0.45" opacity="0.8"/>
<polyline points="233.6,502.9 232.0,493.3 231.7,491.3 231.3,489.3 231.0,487.3 230.6,485.3 230.2,483.2 229.7,481.1 229.3,479.0 228.8,476.9 228.4,474.8 227.9,472.6 227.4,470.4 226.8,468.2 226.3,465.9 225.7,463.7 225.1,461.4 224.4,459.0 223.8,456.7 223.1,454.3 222.4,451.9 221.6,449.5 220.8,447.0 220.0,444.5 219.2,442.0 218.3,439.4 217.4,436.8 216.4,434.1 215.4,431.5 214.4,428.8 213.3,426.0 212.2,423.2 211.0,420.4 209.8,417.5 208.5,414.6 207.1,411.7 205.8,408.7 204.3,405.6 202.8,402.5 201.2,399.4 199.6,396.2 197.8,393.0 196.1,389.7 194.2,386.3 192.3,382.9 190.3,379.4 188.2,375.9 186.0,372.3 183.7,368.6 181.4,364.9 178.9,361.0 176.4,357.1 173.8,353.2 171.0,349.1 168.2,345.0 165.3,340.8 162.3,336.5 159.2,332.0 156.0,327.5 152.7,322.9 149.3,318.2 145.9,313.3 142.3,308.4 138.6,303.2 134.9,298.0 131.0,292.6 127.1,287.1 123.1,281.4 119.0,275.5 114.8,269.5 110.6,263.3 106.3,256.8 101.9,250.2 97.5,243.3 93.0,236.1 88.4,228.7 83.8,221.0 79.2,213.0 74.5,204.6 69.7,195.9 64.9,186.8 60.1,177.2 55.2,167.1 50.3,156.5 45.4,145.3 40.6,133.4 35.7,120.7 30.8,107.1 26.1,92.6 21.4,76.9 16.8,59.8 12.5,41.1" fill="none" stroke="#c2cbf8" stroke-width="0.45" opacity="0.8"/>
<polyline points="260.6,502.9 260.1,493.3 259.9,491.3 259.8,489.3 259.7,487.3 259.5,485.3 259.3,483.2 259.2,481.1 259.0,479.0 258.8,476.9 258.6,474.8 258.4,472.6 258.1,470.4 257.9,468.2 257.6,465.9 257.3,463.7 257.0,461.4 256.7,459.0 256.4,456.7 256.0,454.3 255.6,451.9 255.2,449.5 254.8,447.0 254.4,444.5 253.9,442.0 253.4,439.4 252.9,436.8 252.3,434.1 251.8,431.5 251.2,428.8 250.5,426.0 249.8,423.2 249.1,420.4 248.4,417.5 247.6,414.6 246.7,411.7 245.8,408.7 244.9,405.6 243.9,402.5 242.9,399.4 241.8,396.2 240.6,393.0 239.4,389.7 238.1,386.3 236.8,382.9 235.4,379.4 233.9,375.9 232.3,372.3 230.6,368.6 228.8,364.9 227.0,361.0 225.0,357.1 223.0,353.2 220.8,349.1 218.5,345.0 216.1,340.8 213.6,336.5 211.0,332.0 208.2,327.5 205.4,322.9 202.3,318.2 199.2,313.3 195.9,308.4 192.5,303.2 188.9,298.0 185.2,292.6 181.3,287.1 177.3,281.4 173.2,275.5 169.0,269.5 164.6,263.3 160.1,256.8 155.4,250.2 150.7,243.3 145.8,236.1 140.9,228.7 135.8,221.0 130.7,213.0 125.4,204.6 120.1,195.9 114.7,186.8 109.2,177.2 103.7,167.1 98.1,156.5 92.4,145.3 86.8,133.4 81.0,120.7 75.3,107.1 69.6,92.6 63.9,76.9 58.4,59.8 52.9,41.1" fill="none" stroke="#c2cbf8" stroke-width="0.45" opacity="0.8"/>
<polyline points="287.7,502.9 288.1,493.3 288.2,491.3 288.2,489.3 288.3,487.3 288.4,485.3 288.4,483.2 288.5,481.1 288.5,479.0 288.5,476.9 288.6,474.8 288.6,472.6 288.6,470.4 288.6,468.2 288.6,465.9 288.6,463.7 288.6,461.4 288.5,459.0 288.5,456.7 288.5,454.3 288.4,451.9 288.3,449.5 288.2,447.0 288.1,444.5 288.0,442.0 287.9,439.4 287.7,436.8 287.6,434.1 287.4,431.5 287.2,428.8 287.0,426.0 286.7,423.2 286.5,420.4 286.2,417.5 285.9,414.6 285.5,411.7 285.2,408.7 284.8,405.6 284.3,402.5 283.9,399.4 283.3,396.2 282.8,393.0 282.2,389.7 281.6,386.3 280.9,382.9 280.1,379.4 279.3,375.9 278.5,372.3 277.5,368.6 276.5,364.9 275.5,361.0 274.3,357.1 273.1,353.2 271.8,349.1 270.3,345.0 268.8,340.8 267.2,336.5 265.4,332.0 263.6,327.5 261.5,322.9 259.4,318.2 257.1,313.3 254.6,308.4 252.0,303.2 249.2,298.0 246.2,292.6 243.0,287.1 239.6,281.4 236.0,275.5 232.2,269.5 228.2,263.3 223.9,256.8 219.5,250.2 214.8,243.3 209.9,236.1 204.8,228.7 199.5,221.0 194.1,213.0 188.4,204.6 182.6,195.9 176.6,186.8 170.4,177.2 164.1,167.1 157.7,156.5 151.2,145.3 144.6,133.4 137.8,120.7 131.0,107.1 124.2,92.6 117.3,76.9 110.4,59.8 103.6,41.1" fill="none" stroke="#c2cbf8" stroke-width="0.45" opacity="0.8"/>
<polyline points="314.9,502.9 316.1,493.3 316.4,491.3 316.6,489.3 316.9,487.3 317.1,485.3 317.3,483.2 317.6,481.1 317.8,479.0 318.0,476.9 318.3,474.8 318.5,472.6 318.7,470.4 319.0,468.2 319.2,465.9 319.4,463.7 319.6,461.4 319.8,459.0 320.1,456.7 320.3,454.3 320.5,451.9 320.7,449.5 320.9,447.0 321.1,444.5 321.3,442.0 321.4,439.4 321.6,436.8 321.8,434.1 321.9,431.5 322.1,428.8 322.2,426.0 322.4,423.2 322.5,420.4 322.6,417.5 322.7,414.6 322.8,411.7 322.9,408.7 323.0,405.6 323.0,402.5 323.0,399.4 323.1,396.2 323.1,393.0 323.0,389.7 323.0,386.3 322.9,382.9 322.8,379.4 322.6,375.9 322.5,372.3 322.3,368.6 322.0,364.9 321.7,361.0 321.4,357.1 321.0,353.2 320.6,349.1 320.1,345.0 319.5,340.8 318.9,336.5 318.2,332.0 317.4,327.5 316.5,322.9 315.6,318.2 314.5,313.3 313.3,308.4 311.9,303.2 310.4,298.0 308.8,292.6 306.9,287.1 304.9,281.4 302.7,275.5 300.2,269.5 297.6,263.3 294.6,256.8 291.4,250.2 287.8,243.3 283.9,236.1 279.7,228.7 275.2,221.0 270.3,213.0 265.0,204.6 259.3,195.9 253.3,186.8 246.9,177.2 240.2,167.1 233.2,156.5 225.9,145.3 218.3,133.4 210.4,120.7 202.4,107.1 194.2,92.6 185.8,76.9 177.2,59.8 168.6,41.1" fill="none" stroke="#c2cbf8" stroke-width="0.45" opacity="0.8"/>
<polyline points="342.3,502.9 344.2,493.3 344.6,491.3 344.9,489.3 345.3,487.3 345.7,485.3 346.1,483.2 346.5,481.1 346.9,479.0 347.3,476.9 347.7,474.8 348.1,472.6 348.5,470.4 348.9,468.2 349.3,465.9 349.7,463.7 350.1,461.4 350.6,459.0 351.0,456.7 351.4,454.3 351.8,451.9 352.3,449.5 352.7,447.0 353.1,444.5 353.5,442.0 354.0,439.4 354.4,436.8 354.8,434.1 355.3,431.5 355.7,428.8 356.2,426.0 356.6,423.2 357.0,420.4 357.5,417.5 357.9,414.6 358.4,411.7 358.8,408.7 359.2,405.6 359.7,402.5 360.1,399.4 360.5,396.2 361.0,393.0 361.4,389.7 361.8,386.3 362.2,382.9 362.6,379.4 363.0,375.9 363.4,372.3 363.8,368.6 364.1,364.9 364.5,361.0 364.8,357.1 365.1,353.2 365.4,349.1 365.7,345.0 366.0,340.8 366.2,336.5 366.4,332.0 366.6,327.5 366.7,322.9 366.8,318.2 366.8,313.3 366.8,308.4 366.7,303.2 366.6,298.0 366.4,292.6 366.0,287.1 365.6,281.4 365.1,275.5 364.4,269.5 363.6,263.3 362.6,256.8 361.4,250.2 360.0,243.3 358.4,236.1 356.4,228.7 354.2,221.0 351.5,213.0 348.5,204.6 345.0,195.9 340.9,186.8 336.3,177.2 331.0,167.1 325.1,156.5 318.5,145.3 311.2,133.4 303.1,120.7 294.4,107.1 285.1,92.6 275.3,76.9 265.0,59.8 254.2,41.1" fill="none" stroke="#c2cbf8" stroke-width="0.45" opacity="0.8"/>
<polyline points="369.8,502.9 372.2,493.3 372.7,491.3 373.2,489.3 373.7,487.3 374.2,485.3 374.7,483.2 375.2,481.1 375.8,479.0 376.3,476.9 376.8,474.8 377.4,472.6 377.9,470.4 378.5,468.2 379.0,465.9 379.6,463.7 380.2,461.4 380.7,459.0 381.3,456.7 381.9,454.3 382.5,451.9 383.1,449.5 383.7,447.0 384.3,444.5 384.9,442.0 385.6,439.4 386.2,436.8 386.8,434.1 387.5,431.5 388.1,428.8 388.8,426.0 389.5,423.2 390.1,420.4 390.8,417.5 391.5,414.6 392.2,411.7 392.9,408.7 393.6,405.6 394.4,402.5 395.1,399.4 395.8,396.2 396.6,393.0 397.3,389.7 398.1,386.3 398.9,382.9 399.7,379.4 400.5,375.9 401.2,372.3 402.1,368.6 402.9,364.9 403.7,361.0 404.5,357.1 405.3,353.2 406.2,349.1 407.0,345.0 407.9,340.8 408.7,336.5 409.6,332.0 410.4,327.5 411.3,322.9 412.2,318.2 413.0,313.3 413.9,308.4 414.7,303.2 415.6,298.0 416.4,292.6 417.2,287.1 418.0,281.4 418.8,275.5 419.5,269.5 420.2,263.3 420.9,256.8 421.5,250.2 422.0,243.3 422.5,236.1 422.8,228.7 423.0,221.0 423.1,213.0 423.0,204.6 422.6,195.9 422.0,186.8 421.1,177.2 419.7,167.1 417.8,156.5 415.3,145.3 412.1,133.4 407.9,120.7 402.6,107.1 396.0,92.6 387.9,76.9 378.3,59.8 367.0,41.1" fill="none" stroke="#c2cbf8" stroke-width="0.45" opacity="0.8"/>
<polyline points="397.4,502.9 400.2,493.3 400.8,491.3 401.4,489.3 402.0,487.3 402.6,485.3 403.2,483.2 403.8,481.1 404.5,479.0 405.1,476.9 405.7,474.8 406.4,472.6 407.0,470.4 407.7,468.2 408.3,465.9 409.0,463.7 409.7,461.4 410.4,459.0 411.1,456.7 411.8,454.3 412.5,451.9 413.3,449.5 414.0,447.0 414.8,444.5 415.5,442.0 416.3,439.4 417.1,436.8 417.9,434.1 418.7,431.5 419.5,428.8 420.3,426.0 421.2,423.2 422.0,420.4 422.9,417.5 423.8,414.6 424.7,411.7 425.6,408.7 426.5,405.6 427.4,402.5 428.4,399.4 429.3,396.2 430.3,393.0 431.3,389.7 432.3,386.3 433.3,382.9 434.4,379.4 435.5,375.9 436.5,372.3 437.6,368.6 438.8,364.9 439.9,361.0 441.1,357.1 442.2,353.2 443.4,349.1 444.7,345.0 445.9,340.8 447.2,336.5 448.5,332.0 449.8,327.5 451.2,322.9 452.5,318.2 453.9,313.3 455.4,308.4 456.8,303.2 458.3,298.0 459.8,292.6 461.4,287.1 463.0,281.4 464.6,275.5 466.2,269.5 467.9,263.3 469.6,256.8 471.3,250.2 473.1,243.3 474.8,236.1 476.6,228.7 478.5,221.0 480.3,213.0 482.2,204.6 484.0,195.9 485.9,186.8 487.7,177.2 489.5,167.1 491.1,156.5 492.7,145.3 494.1,133.4 495.2,120.7 496.0,107.1 496.2,92.6 495.7,76.9 494.0,59.8 490.8,41.1" fill="none" stroke="#c2cbf8" stroke-width="0.45" opacity="0.8"/>
<polyline points="425.2,502.9 428.3,493.3 428.9,491.3 429.6,489.3 430.2,487.3 430.9,485.3 431.6,483.2 432.3,481.1 433.0,479.0 433.7,476.9 434.4,474.8 435.1,472.6 435.9,470.4 436.6,468.2 437.3,465.9 438.1,463.7 438.9,461.4 439.7,459.0 440.5,456.7 441.3,454.3 442.1,451.9 442.9,449.5 443.7,447.0 444.6,444.5 445.5,442.0 446.3,439.4 447.2,436.8 448.1,434.1 449.1,431.5 450.0,428.8 450.9,426.0 451.9,423.2 452.9,420.4 453.9,417.5 454.9,414.6 455.9,411.7 457.0,408.7 458.0,405.6 459.1,402.5 460.2,399.4 461.3,396.2 462.5,393.0 463.6,389.7 464.8,386.3 466.0,382.9 467.2,379.4 468.5,375.9 469.8,372.3 471.1,368.6 472.4,364.9 473.8,361.0 475.2,357.1 476.6,353.2 478.0,349.1 479.5,345.0 481.0,340.8 482.6,336.5 484.2,332.0 485.8,327.5 487.5,322.9 489.2,318.2 490.9,313.3 492.7,308.4 494.5,303.2 496.4,298.0 498.4,292.6 500.4,287.1 502.4,281.4 504.6,275.5 506.7,269.5 509.0,263.3 511.3,256.8 513.7,250.2 516.2,243.3 518.7,236.1 521.4,228.7 524.1,221.0 526.9,213.0 529.9,204.6 532.9,195.9 536.1,186.8 539.4,177.2 542.9,167.1 546.4,156.5 550.2,145.3 554.0,133.4 558.1,120.7 562.3,107.1 566.6,92.6 571.1,76.9 575.6,59.8 580.2,41.1" fill="none" stroke="#c2cbf8" stroke-width="0.45" opacity="0.8"/>
<polyline points="453.0,502.9 456.3,493.3 457.0,491.3 457.7,489.3 458.4,487.3 459.1,485.3 459.9,483.2 460.6,481.1 461.4,479.0 462.1,476.9 462.9,474.8 463.7,472.6 464.5,470.4 465.3,468.2 466.1,465.9 466.9,463.7 467.7,461.4 468.6,459.0 469.4,456.7 470.3,454.3 471.2,451.9 472.1,449.5 473.0,447.0 473.9,444.5 474.9,442.0 475.8,439.4 476.8,436.8 477.8,434.1 478.8,431.5 479.8,428.8 480.8,426.0 481.9,423.2 482.9,420.4 484.0,417.5 485.1,414.6 486.2,411.7 487.4,408.7 488.5,405.6 489.7,402.5 490.9,399.4 492.2,396.2 493.4,393.0 494.7,389.7 496.0,386.3 497.3,382.9 498.7,379.4 500.0,375.9 501.5,372.3 502.9,368.6 504.4,364.9 505.9,361.0 507.4,357.1 509.0,353.2 510.6,349.1 512.2,345.0 513.9,340.8 515.7,336.5 517.4,332.0 519.3,327.5 521.1,322.9 523.0,318.2 525.0,313.3 527.0,308.4 529.1,303.2 531.3,298.0 533.5,292.6 535.7,287.1 538.1,281.4 540.5,275.5 543.0,269.5 545.6,263.3 548.3,256.8 551.1,250.2 554.0,243.3 557.0,236.1 560.1,228.7 563.4,221.0 566.8,213.0 570.3,204.6 574.0,195.9 577.9,186.8 582.0,177.2 586.3,167.1 590.8,156.5 595.6,145.3 600.7,133.4 606.1,120.7 611.9,107.1 618.1,92.6 624.8,76.9 632.0,59.8 639.8,41.1" fill="none" stroke="#c2cbf8" stroke-width="0.45" opacity="0.8"/>
<polyline points="480.8,502.9 484.3,493.3 485.1,491.3 485.8,489.3 486.6,487.3 487.3,485.3 488.1,483.2 488.9,481.1 489.6,479.0 490.4,476.9 491.3,474.8 492.1,472.6 492.9,470.4 493.7,468.2 494.6,465.9 495.5,463.7 496.3,461.4 497.2,459.0 498.1,456.7 499.0,454.3 500.0,451.9 500.9,449.5 501.9,447.0 502.8,444.5 503.8,442.0 504.8,439.4 505.9,436.8 506.9,434.1 507.9,431.5 509.0,428.8 510.1,426.0 511.2,423.2 512.3,420.4 513.5,417.5 514.6,414.6 515.8,411.7 517.0,408.7 518.2,405.6 519.5,402.5 520.8,399.4 522.1,396.2 523.4,393.0 524.7,389.7 526.1,386.3 527.5,382.9 529.0,379.4 530.4,375.9 531.9,372.3 533.4,368.6 535.0,364.9 536.6,361.0 538.2,357.1 539.9,353.2 541.6,349.1 543.4,345.0 545.2,340.8 547.0,336.5 548.9,332.0 550.9,327.5 552.9,322.9 554.9,318.2 557.0,313.3 559.2,308.4 561.4,303.2 563.7,298.0 566.1,292.6 568.5,287.1 571.1,281.4 573.7,275.5 576.4,269.5 579.2,263.3 582.1,256.8 585.1,250.2 588.2,243.3 591.5,236.1 594.9,228.7 598.4,221.0 602.1,213.0 606.0,204.6 610.1,195.9 614.4,186.8 618.9,177.2 623.7,167.1 628.7,156.5 634.1,145.3 639.8,133.4 645.9,120.7 652.5,107.1 659.6,92.6 667.2,76.9 675.7,59.8 684.9,41.1" fill="none" stroke="#c2cbf8" stroke-width="0.45" opacity="0.8"/>
<polyline points="508.8,502.9 512.4,493.3 513.1,491.3 513.9,489.3 514.7,487.3 515.4,485.3 516.2,483.2 517.0,481.1 517.8,479.0 518.7,476.9 519.5,474.8 520.3,472.6 521.2,470.4 522.1,468.2 522.9,465.9 523.8,463.7 524.7,461.4 525.6,459.0 526.6,456.7 527.5,454.3 528.5,451.9 529.4,449.5 530.4,447.0 531.4,444.5 532.4,442.0 533.5,439.4 534.5,436.8 535.6,434.1 536.7,431.5 537.8,428.8 538.9,426.0 540.0,423.2 541.2,420.4 542.4,417.5 543.6,414.6 544.8,411.7 546.1,408.7 547.3,405.6 548.6,402.5 549.9,399.4 551.3,396.2 552.6,393.0 554.0,389.7 555.5,386.3 556.9,382.9 558.4,379.4 559.9,375.9 561.5,372.3 563.0,368.6 564.7,364.9 566.3,361.0 568.0,357.1 569.7,353.2 571.5,349.1 573.3,345.0 575.2,340.8 577.1,336.5 579.1,332.0 581.1,327.5 583.2,322.9 585.3,318.2 587.5,313.3 589.7,308.4 592.0,303.2 594.4,298.0 596.9,292.6 599.5,287.1 602.1,281.4 604.8,275.5 607.6,269.5 610.5,263.3 613.6,256.8 616.7,250.2 620.0,243.3 623.4,236.1 627.0,228.7 630.7,221.0 634.6,213.0 638.6,204.6 642.9,195.9 647.4,186.8 652.1,177.2 657.2,167.1 662.5,156.5 668.1,145.3 674.2,133.4 680.7,120.7 687.6,107.1 695.2,92.6 703.4,76.9 712.3,59.8 722.3,41.1" fill="none" stroke="#c2cbf8" stroke-width="0.45" opacity="0.8"/>
<polyline points="536.7,502.9 540.4,493.3 541.2,491.3 541.9,489.3 542.7,487.3 543.5,485.3 544.3,483.2 545.1,481.1 546.0,479.0 546.8,476.9 547.6,474.8 548.5,472.6 549.3,470.4 550.2,468.2 551.1,465.9 552.0,463.7 552.9,461.4 553.9,459.0 554.8,456.7 555.8,454.3 556.7,451.9 557.7,449.5 558.7,447.0 559.8,444.5 560.8,442.0 561.8,439.4 562.9,436.8 564.0,434.1 565.1,431.5 566.2,428.8 567.3,426.0 568.5,423.2 569.7,420.4 570.9,417.5 572.1,414.6 573.3,411.7 574.6,408.7 575.9,405.6 577.2,402.5 578.6,399.4 579.9,396.2 581.3,393.0 582.7,389.7 584.2,386.3 585.7,382.9 587.2,379.4 588.7,375.9 590.3,372.3 591.9,368.6 593.5,364.9 595.2,361.0 596.9,357.1 598.7,353.2 600.5,349.1 602.4,345.0 604.3,340.8 606.2,336.5 608.2,332.0 610.3,327.5 612.4,322.9 614.6,318.2 616.8,313.3 619.1,308.4 621.4,303.2 623.9,298.0 626.4,292.6 629.0,287.1 631.7,281.4 634.5,275.5 637.3,269.5 640.3,263.3 643.4,256.8 646.6,250.2 650.0,243.3 653.5,236.1 657.1,228.7 660.9,221.0 664.9,213.0 669.1,204.6 673.4,195.9 678.0,186.8 682.9,177.2 688.0,167.1 693.5,156.5 699.3,145.3 705.5,133.4 712.2,120.7 719.3,107.1 727.1,92.6 735.5,76.9 744.8,59.8 755.1,41.1" fill="none" stroke="#c2cbf8" stroke-width="0.45" opacity="0.8"/>
<polyline points="14.3,502.9 15.7,501.0 17.2,499.1 18.6,497.2 20.1,495.2 21.6,493.3 23.1,491.3 24.6,489.3 26.2,487.3 27.7,485.3 29.3,483.2 30.9,481.1 32.5,479.0 34.1,476.9 35.7,474.8 37.4,472.6 39.1,470.4 40.8,468.2 42.5,465.9 44.2,463.7 46.0,461.4 47.8,459.0 49.6,456.7 51.4,454.3 53.2,451.9 55.1,449.5 57.0,447.0 58.9,444.5 60.9,442.0 62.9,439.4 64.9,436.8 66.9,434.1 69.0,431.5 71.0,428.8 73.2,426.0 75.3,423.2 77.5,420.4 79.7,417.5 82.0,414.6 84.2,411.7 86.6,408.7 88.9,405.6 91.3,402.5 93.8,399.4 96.2,396.2 98.7,393.0" fill="none" stroke="#b5dcb5" stroke-width="0.45" opacity="0.8"/>
<polyline points="72.9,502.9 74.3,501.0 75.7,499.1 77.1,497.2 78.5,495.2 79.9,493.3 81.4,491.3 82.8,489.3 84.3,487.3 85.8,485.3 87.3,483.2 88.8,481.1 90.4,479.0 91.9,476.9 93.5,474.8 95.1,472.6 96.7,470.4 98.3,468.2 100.0,465.9 101.6,463.7 103.3,461.4 105.0,459.0 106.8,456.7 108.5,454.3 110.3,451.9 112.1,449.5 113.9,447.0 115.8,444.5 117.7,442.0 119.6,439.4 121.5,436.8 123.4,434.1 125.4,431.5 127.4,428.8 129.5,426.0 131.5,423.2 133.6,420.4 135.8,417.5 137.9,414.6 140.1,411.7 142.4,408.7 144.6,405.6 147.0,402.5 149.3,399.4 151.7,396.2 154.1,393.0" fill="none" stroke="#b5dcb5" stroke-width="0.45" opacity="0.8"/>
<polyline points="121.1,502.9 122.4,501.0 123.8,499.1 125.1,497.2 126.5,495.2 127.8,493.3 129.2,491.3 130.6,489.3 132.1,487.3 133.5,485.3 135.0,483.2 136.4,481.1 137.9,479.0 139.4,476.9 140.9,474.8 142.5,472.6 144.0,470.4 145.6,468.2 147.2,465.9 148.8,463.7 150.4,461.4 152.1,459.0 153.8,456.7 155.5,454.3 157.2,451.9 158.9,449.5 160.7,447.0 162.5,444.5 164.3,442.0 166.1,439.4 168.0,436.8 169.9,434.1 171.8,431.5 173.7,428.8 175.7,426.0 177.7,423.2 179.7,420.4 181.8,417.5 183.9,414.6 186.0,411.7 188.2,408.7 190.4,405.6 192.6,402.5 194.9,399.4 197.2,396.2 199.5,393.0" fill="none" stroke="#b5dcb5" stroke-width="0.45" opacity="0.8"/>
<polyline points="172.9,502.9 174.2,501.0 175.5,499.1 176.8,497.2 178.1,495.2 179.4,493.3 180.7,491.3 182.1,489.3 183.4,487.3 184.8,485.3 186.2,483.2 187.6,481.1 189.1,479.0 190.5,476.9 192.0,474.8 193.4,472.6 194.9,470.4 196.4,468.2 198.0,465.9 199.5,463.7 201.1,461.4 202.7,459.0 204.3,456.7 205.9,454.3 207.5,451.9 209.2,449.5 210.9,447.0 212.6,444.5 214.4,442.0 216.1,439.4 217.9,436.8 219.7,434.1 221.6,431.5 223.4,428.8 225.3,426.0 227.3,423.2 229.2,420.4 231.2,417.5 233.2,414.6 235.3,411.7 237.3,408.7 239.5,405.6 241.6,402.5 243.8,399.4 246.0,396.2 248.3,393.0" fill="none" stroke="#b5dcb5" stroke-width="0.45" opacity="0.8"/>
<polyline points="217.7,502.9 218.9,501.0 220.1,499.1 221.4,497.2 222.6,495.2 223.9,493.3 225.2,491.3 226.5,489.3 227.8,487.3 229.1,485.3 230.4,483.2 231.8,481.1 233.2,479.0 234.6,476.9 236.0,474.8 237.4,472.6 238.8,470.4 240.3,468.2 241.7,465.9 243.2,463.7 244.7,461.4 246.3,459.0 247.8,456.7 249.4,454.3 251.0,451.9 252.6,449.5 254.2,447.0 255.9,444.5 257.5,442.0 259.2,439.4 261.0,436.8 262.7,434.1 264.5,431.5 266.3,428.8 268.1,426.0 270.0,423.2 271.9,420.4 273.8,417.5 275.7,414.6 277.7,411.7 279.7,408.7 281.7,405.6 283.8,402.5 285.9,399.4 288.1,396.2 290.2,393.0" fill="none" stroke="#b5dcb5" stroke-width="0.45" opacity="0.8"/>
<polyline points="247.6,502.9 248.8,501.0 250.0,499.1 251.2,497.2 252.4,495.2 253.6,493.3 254.9,491.3 256.1,489.3 257.4,487.3 258.7,485.3 260.0,483.2 261.3,481.1 262.7,479.0 264.0,476.9 265.4,474.8 266.8,472.6 268.2,470.4 269.6,468.2 271.0,465.9 272.5,463.7 273.9,461.4 275.4,459.0 276.9,456.7 278.4,454.3 280.0,451.9 281.6,449.5 283.1,447.0 284.8,444.5 286.4,442.0 288.0,439.4 289.7,436.8 291.4,434.1 293.2,431.5 294.9,428.8 296.7,426.0 298.5,423.2 300.3,420.4 302.2,417.5 304.1,414.6 306.0,411.7 308.0,408.7 310.0,405.6 312.0,402.5 314.1,399.4 316.1,396.2 318.3,393.0" fill="none" stroke="#b5dcb5" stroke-width="0.45" opacity="0.8"/>
<polyline points="288.7,502.9 289.9,501.0 291.0,499.1 292.2,497.2 293.3,495.2 294.5,493.3 295.7,491.3 296.9,489.3 298.1,487.3 299.4,485.3 300.6,483.2 301.9,481.1 303.2,479.0 304.5,476.9 305.8,474.8 307.1,472.6 308.5,470.4 309.8,468.2 311.2,465.9 312.6,463.7 314.0,461.4 315.4,459.0 316.9,456.7 318.4,454.3 319.8,451.9 321.3,449.5 322.9,447.0 324.4,444.5 326.0,442.0 327.6,439.4 329.2,436.8 330.9,434.1 332.5,431.5 334.2,428.8 335.9,426.0 337.7,423.2 339.4,420.4 341.2,417.5 343.1,414.6 344.9,411.7 346.8,408.7 348.7,405.6 350.7,402.5 352.7,399.4 354.7,396.2 356.7,393.0" fill="none" stroke="#b5dcb5" stroke-width="0.45" opacity="0.8"/>
<polyline points="325.7,502.9 326.8,501.0 327.9,499.1 329.0,497.2 330.1,495.2 331.3,493.3 332.4,491.3 333.6,489.3 334.8,487.3 336.0,485.3 337.2,483.2 338.4,481.1 339.6,479.0 340.9,476.9 342.1,474.8 343.4,472.6 344.7,470.4 346.0,468.2 347.3,465.9 348.7,463.7 350.0,461.4 351.4,459.0 352.8,456.7 354.2,454.3 355.7,451.9 357.1,449.5 358.6,447.0 360.1,444.5 361.6,442.0 363.1,439.4 364.7,436.8 366.3,434.1 367.9,431.5 369.5,428.8 371.2,426.0 372.8,423.2 374.5,420.4 376.3,417.5 378.0,414.6 379.8,411.7 381.7,408.7 383.5,405.6 385.4,402.5 387.3,399.4 389.3,396.2 391.3,393.0" fill="none" stroke="#b5dcb5" stroke-width="0.45" opacity="0.8"/>
<polyline points="352.7,502.9 353.8,501.0 354.9,499.1 355.9,497.2 357.0,495.2 358.1,493.3 359.2,491.3 360.4,489.3 361.5,487.3 362.7,485.3 363.8,483.2 365.0,481.1 366.2,479.0 367.4,476.9 368.7,474.8 369.9,472.6 371.2,470.4 372.4,468.2 373.7,465.9 375.0,463.7 376.3,461.4 377.7,459.0 379.0,456.7 380.4,454.3 381.8,451.9 383.2,449.5 384.7,447.0 386.1,444.5 387.6,442.0 389.1,439.4 390.6,436.8 392.1,434.1 393.7,431.5 395.3,428.8 396.9,426.0 398.5,423.2 400.2,420.4 401.9,417.5 403.6,414.6 405.3,411.7 407.1,408.7 408.9,405.6 410.7,402.5 412.6,399.4 414.5,396.2 416.5,393.0" fill="none" stroke="#b5dcb5" stroke-width="0.45" opacity="0.8"/>
<line x1="-786.99" y1="502.40" x2="-293.24" y2="41.25" stroke="#b0b0b0" stroke-width="0.6" />
<line x1="-730.92" y1="502.40" x2="-237.17" y2="41.25" stroke="#b0b0b0" stroke-width="0.6" />
<line x1="-674.85" y1="502.40" x2="-181.10" y2="41.25" stroke="#b0b0b0" stroke-width="0.6" />
<line x1="-618.78" y1="502.40" x2="-125.03" y2="41.25" stroke="#b0b0b0" stroke-width="0.6" />
<line x1="-562.71" y1="502.40" x2="-68.96" y2="41.25" stroke="#b0b0b0" stroke-width="0.6" />
<line x1="-506.64" y1="502.40" x2="-12.89" y2="41.25" stroke="#b0b0b0" stroke-width="0.6" />
<line x1="-450.57" y1="502.40" x2="43.18" y2="41.25" stroke="#b0b0b0" stroke-width="0.6" />
<line x1="-394.50" y1="502.40" x2="99.25" y2="41.25" stroke="#b0b0b0" stroke-width="0.6" />
<line x1="-338.43" y1="502.40" x2="155.32" y2="41.25" stroke="#b0b0b0" stroke-width="0.6" />
<line x1="-282.36" y1="502.40" x2="211.39" y2="41.25" stroke="#b0b0b0" stroke-width="0.6" />
<line x1="-226.29" y1="502.40" x2="267.46" y2="41.25" stroke="#b0b0b0" stroke-width="0.6" />
<line x1="-170.22" y1="502.40" x2="323.53" y2="41.25" stroke="#b0b0b0" stroke-width="0.6" />
<line x1="-114.15" y1="502.40" x2="379.60" y2="41.25" stroke="#b0b0b0" stroke-width="0.6" />
<line x1="-58.08" y1="502.40" x2="435.67" y2="41.25" stroke="#b0b0b0" stroke-width="0.6" />
<line x1="-2.01" y1="502.40" x2="491.74" y2="41.25" stroke="#b0b0b0" stroke-width="0.6" />
<line x1="54.06" y1="502.40" x2="547.81" y2="41.25" stroke="#7b7be6" stroke-width="0.7" stroke-dasharray="3.2,1.2"/>
<line x1="110.13" y1="502.40" x2="603.88" y2="41.25" stroke="#b0b0b0" stroke-width="0.6" />
<line x1="166.20" y1="502.40" x2="659.95" y2="41.25" stroke="#7b7be6" stroke-width="0.7" stroke-dasharray="3.2,1.2"/>
<line x1="222.27" y1="502.40" x2="716.02" y2="41.25" stroke="#b0b0b0" stroke-width="0.6" />
<line x1="278.34" y1="502.40" x2="772.09" y2="41.25" stroke="#b0b0b0" stroke-width="0.6" />
<line x1="334.41" y1="502.40" x2="828.16" y2="41.25" stroke="#b0b0b0" stroke-width="0.6" />
<line x1="390.48" y1="502.40" x2="884.23" y2="41.25" stroke="#b0b0b0" stroke-width="0.6" />
<line x1="446.55" y1="502.40" x2="940.30" y2="41.25" stroke="#b0b0b0" stroke-width="0.6" />
<line x1="502.62" y1="502.40" x2="996.37" y2="41.25" stroke="#b0b0b0" stroke-width="0.6" />
<line x1="558.69" y1="502.40" x2="1052.44" y2="41.25" stroke="#b0b0b0" stroke-width="0.6" />
<line x1="614.76" y1="502.40" x2="1108.51" y2="41.25" stroke="#b0b0b0" stroke-width="0.6" />
<line x1="13.50" y1="177.19" x2="543.60" y2="177.19" stroke="#c4c4c4" stroke-width="0.8" />
<line x1="13.50" y1="256.82" x2="543.60" y2="256.82" stroke="#c4c4c4" stroke-width="0.8" />
<line x1="13.50" y1="313.32" x2="543.60" y2="313.32" stroke="#c4c4c4" stroke-width="0.8" />
<line x1="13.50" y1="357.15" x2="543.60" y2="357.15" stroke="#c4c4c4" stroke-width="0.8" />
<line x1="13.50" y1="392.96" x2="543.60" y2="392.96" stroke="#c4c4c4" stroke-width="0.8" />
<line x1="13.50" y1="423.23" x2="543.60" y2="423.23" stroke="#c4c4c4" stroke-width="0.8" />
<line x1="13.50" y1="449.46" x2="543.60" y2="449.46" stroke="#c4c4c4" stroke-width="0.8" />
<line x1="13.50" y1="472.59" x2="543.60" y2="472.59" stroke="#c4c4c4" stroke-width="0.8" />
<line x1="13.50" y1="493.28" x2="543.60" y2="493.28" stroke="#c4c4c4" stroke-width="0.8" />
<polyline points="60.0,58.0 89.2,110.0 168.0,250.0 195.2,290.0 225.8,342.5 250.9,392.8 257.5,399.4 266.3,404.9" fill="none" stroke="#a0a0a0" stroke-width="1.2" stroke-dasharray="4,2.3"/>
<polyline points="240.8,403.4 247.0,430.0 252.0,460.0 257.4,487.4" fill="none" stroke="#9a4fb5" stroke-width="0.5" stroke-dasharray="1,0.8"/>
<polyline points="193.0,200.0 193.6,216.0 197.0,246.6 194.4,256.4 198.6,269.5 196.0,271.0 199.2,283.8 202.8,290.0 212.7,311.9 222.5,320.6 217.0,327.0 214.8,339.0 229.0,357.8 242.2,395.0 242.2,403.8 261.9,408.0 263.0,413.6 254.2,416.9 252.5,417.1 248.6,442.5 254.5,448.8 244.7,461.0 253.5,477.7 251.6,485.5 261.3,488.4" fill="none" stroke="#7fb0f7" stroke-width="0.9" />
<polyline points="175.3,41.0 108.4,120.5 98.3,126.4 111.5,142.8 103.0,166.4 105.0,176.7 117.7,179.6 108.9,186.1 104.5,217.2 118.8,235.8 89.2,248.6 86.0,257.4 58.6,269.4 127.5,273.8 122.1,280.8 133.7,285.8 105.6,302.2 109.6,314.2 201.9,319.7 193.2,323.0 86.0,325.2 181.1,325.6 92.5,328.5 116.6,336.1 186.6,340.5 193.2,342.7 191.0,350.4 208.5,355.2 191.9,372.0 186.4,397.2 190.4,402.7 249.6,404.4 262.3,405.4 259.0,414.8 232.0,416.1 225.2,423.0 197.9,443.9 216.4,448.4 187.1,457.1 206.6,465.4 210.2,477.1 197.5,485.5 218.4,488.8" fill="none" stroke="#5f94ec" stroke-width="2.9" stroke-linejoin="miter" stroke-linecap="butt"/>
<polyline points="265.5,405.6 275.2,416.5 276.3,422.5 299.8,447.2 302.8,457.0 296.0,462.0 309.8,478.0 319.5,484.6 329.3,487.4" fill="none" stroke="#a03030" stroke-width="2.2" stroke-dasharray="0.1,3.4" stroke-linecap="round"/>
<polyline points="321.3,41.0 250.3,126.8 218.6,142.0 215.1,166.6 197.0,178.8 193.1,186.4 193.8,216.0 197.7,240.0 201.4,248.1 197.7,257.5 204.0,269.5 200.8,271.0 204.3,283.8 209.4,290.0 228.0,319.5 231.9,325.0 233.4,336.0 226.4,339.9 235.6,353.4 270.6,396.1 270.2,401.6 263.0,404.9 271.7,416.9 272.8,422.4 296.5,447.4 299.4,457.1 291.0,460.5 291.6,465.0 306.3,478.6 316.0,485.5 324.8,488.4" fill="none" stroke="#fb0505" stroke-width="3.15" stroke-linejoin="miter" stroke-miterlimit="3"/>
<line x1="81.80" y1="298.50" x2="81.80" y2="371.50" stroke="#74b874" stroke-width="0.9" />
<text transform="translate(81.60,295.40) scale(1.06,1)" font-size="6.60" text-anchor="middle" font-weight="normal" font-style="normal" fill="#74b874" >HGZ</text>
<line x1="97.50" y1="343.00" x2="97.50" y2="394.00" stroke="#f08a8a" stroke-width="0.8" stroke-dasharray="0.8,0.6"/>
<text transform="translate(96.20,340.30) scale(1.06,1)" font-size="6.60" text-anchor="middle" font-weight="normal" font-style="normal" fill="#f4a0a0" >8.7</text>
<text transform="translate(81.00,171.00) scale(1.06,1)" font-size="7.00" text-anchor="middle" font-weight="normal" font-style="normal" fill="#74b874" >8% →</text>
<text transform="translate(55.70,260.90) scale(1.06,1)" font-size="7.20" text-anchor="middle" font-weight="normal" font-style="normal" fill="#74b874" >9% →</text>
<text transform="translate(167.50,343.40) scale(1.06,1)" font-size="7.00" text-anchor="middle" font-weight="normal" font-style="normal" fill="#74b874" >57% →</text>
<text transform="translate(207.00,418.60) scale(1.06,1)" font-size="7.00" text-anchor="middle" font-weight="normal" font-style="normal" fill="#74b874" >58% →</text>
<text transform="translate(183.50,465.60) scale(1.06,1)" font-size="7.00" text-anchor="middle" font-weight="normal" font-style="normal" fill="#74b874" >35% →</text>
<text transform="translate(38.60,140.40) scale(1.06,1)" font-size="6.20" text-anchor="start" font-weight="normal" font-style="normal" fill="#444" >13km</text>
<text transform="translate(38.60,260.40) scale(1.06,1)" font-size="6.20" text-anchor="start" font-weight="normal" font-style="normal" fill="#444" >9km</text>
<text transform="translate(38.60,316.40) scale(1.06,1)" font-size="6.20" text-anchor="start" font-weight="normal" font-style="normal" fill="#444" >7km</text>
<text transform="translate(38.60,368.80) scale(1.06,1)" font-size="6.20" text-anchor="start" font-weight="normal" font-style="normal" fill="#444" >5km</text>
<text transform="translate(38.60,418.80) scale(1.06,1)" font-size="6.20" text-anchor="start" font-weight="normal" font-style="normal" fill="#444" >3km</text>
<text transform="translate(38.60,465.80) scale(1.06,1)" font-size="6.20" text-anchor="start" font-weight="normal" font-style="normal" fill="#444" >1km</text>
<text transform="translate(38.80,487.80) scale(1.06,1)" font-size="5.96" font-weight="bold" font-style="normal" fill="#666" >-SFC (270m) -</text>
<text transform="translate(240.50,338.60) scale(1.06,1)" font-size="7.00" text-anchor="start" font-weight="normal" font-style="normal" fill="#fa6e6e" >←0J/kg</text>
<text transform="translate(269.00,343.40) scale(1.06,1)" font-size="7.00" text-anchor="start" font-weight="normal" font-style="normal" fill="#fa6e6e" >←0J/kg</text>
<text transform="translate(200.00,497.60) scale(1.06,1)" font-size="6.20" text-anchor="start" font-weight="bold" font-style="normal" fill="#8fb3f3" >43°F</text>
<text transform="translate(325.00,497.60) scale(1.06,1)" font-size="6.20" text-anchor="start" font-weight="bold" font-style="normal" fill="#fa5a5a" >78°F</text>
<text transform="translate(448.40,339.40) scale(1.06,1)" font-size="8.40" text-anchor="start" font-weight="bold" font-style="normal" fill="#8a8a8a" >←MUEL</text>
<text transform="translate(448.40,343.00) scale(1.06,1)" font-size="8.40" text-anchor="start" font-weight="bold" font-style="normal" fill="#8a8a8a" opacity="0.8">←MULFC</text>
<text transform="translate(448.40,342.40) scale(1.06,1)" font-size="8.40" text-anchor="start" font-weight="bold" font-style="normal" fill="#8a8a8a" opacity="0.8">←MULCL</text>
<line x1="468.80" y1="345.00" x2="468.80" y2="488.80" stroke="#999" stroke-width="0.7" stroke-dasharray="0.8,0.8"/>
<text transform="translate(419.00,409.40) scale(1.06,1)" font-size="6.40" text-anchor="start" font-weight="bold" font-style="normal" fill="#8fb3f3" >←FRZ</text>
<text transform="translate(419.00,421.40) scale(1.06,1)" font-size="6.40" text-anchor="start" font-weight="bold" font-style="normal" fill="#8fb3f3" >←WB0</text>
<text transform="translate(448.00,433.90) scale(1.06,1)" font-size="8.40" text-anchor="start" font-weight="bold" font-style="normal" fill="#8a8a8a" >←SBLCL</text>
<text transform="translate(427.20,460.40) scale(1.06,1)" font-size="4.80" text-anchor="start" font-weight="bold" font-style="normal" fill="#8a8a8a" >←PBL</text>
<line x1="437.30" y1="461.70" x2="437.30" y2="488.80" stroke="#999" stroke-width="0.7" stroke-dasharray="0.8,0.8"/>
<text transform="translate(16.80,179.79) scale(1.06,1)" font-size="6.90" text-anchor="start" font-weight="bold" font-style="normal" fill="#111" >200</text>
<line x1="13.50" y1="177.19" x2="15.00" y2="177.19" stroke="#333" stroke-width="0.6" />
<text transform="translate(16.80,259.42) scale(1.06,1)" font-size="6.90" text-anchor="start" font-weight="bold" font-style="normal" fill="#111" >300</text>
<line x1="13.50" y1="256.82" x2="15.00" y2="256.82" stroke="#333" stroke-width="0.6" />
<text transform="translate(16.80,315.92) scale(1.06,1)" font-size="6.90" text-anchor="start" font-weight="bold" font-style="normal" fill="#111" >400</text>
<line x1="13.50" y1="313.32" x2="15.00" y2="313.32" stroke="#333" stroke-width="0.6" />
<text transform="translate(16.80,359.75) scale(1.06,1)" font-size="6.90" text-anchor="start" font-weight="bold" font-style="normal" fill="#111" >500</text>
<line x1="13.50" y1="357.15" x2="15.00" y2="357.15" stroke="#333" stroke-width="0.6" />
<text transform="translate(16.80,395.56) scale(1.06,1)" font-size="6.90" text-anchor="start" font-weight="bold" font-style="normal" fill="#111" >600</text>
<line x1="13.50" y1="392.96" x2="15.00" y2="392.96" stroke="#333" stroke-width="0.6" />
<text transform="translate(16.80,425.83) scale(1.06,1)" font-size="6.90" text-anchor="start" font-weight="bold" font-style="normal" fill="#111" >700</text>
<line x1="13.50" y1="423.23" x2="15.00" y2="423.23" stroke="#333" stroke-width="0.6" />
<text transform="translate(16.80,452.06) scale(1.06,1)" font-size="6.90" text-anchor="start" font-weight="bold" font-style="normal" fill="#111" >800</text>
<line x1="13.50" y1="449.46" x2="15.00" y2="449.46" stroke="#333" stroke-width="0.6" />
<text transform="translate(16.80,475.19) scale(1.06,1)" font-size="6.90" text-anchor="start" font-weight="bold" font-style="normal" fill="#111" >900</text>
<line x1="13.50" y1="472.59" x2="15.00" y2="472.59" stroke="#333" stroke-width="0.6" />
<text transform="translate(16.80,495.88) scale(1.06,1)" font-size="6.90" text-anchor="start" font-weight="bold" font-style="normal" fill="#111" >1000</text>
<line x1="13.50" y1="493.28" x2="15.00" y2="493.28" stroke="#333" stroke-width="0.6" />
<text transform="translate(54.06,501.60) scale(1.06,1)" font-size="6.90" text-anchor="middle" font-weight="bold" font-style="normal" fill="#111" >−20</text>
<text transform="translate(110.13,501.60) scale(1.06,1)" font-size="6.90" text-anchor="middle" font-weight="bold" font-style="normal" fill="#111" >−10</text>
<text transform="translate(166.20,501.60) scale(1.06,1)" font-size="6.90" text-anchor="middle" font-weight="bold" font-style="normal" fill="#111" >0</text>
<text transform="translate(222.27,501.60) scale(1.06,1)" font-size="6.90" text-anchor="middle" font-weight="bold" font-style="normal" fill="#111" >10</text>
<text transform="translate(278.34,501.60) scale(1.06,1)" font-size="6.90" text-anchor="middle" font-weight="bold" font-style="normal" fill="#111" >20</text>
<text transform="translate(334.41,501.60) scale(1.06,1)" font-size="6.90" text-anchor="middle" font-weight="bold" font-style="normal" fill="#111" >30</text>
<text transform="translate(390.48,501.60) scale(1.06,1)" font-size="6.90" text-anchor="middle" font-weight="bold" font-style="normal" fill="#111" >40</text>
<text transform="translate(446.55,501.60) scale(1.06,1)" font-size="6.90" text-anchor="middle" font-weight="bold" font-style="normal" fill="#111" >50</text>
<text transform="translate(502.62,501.60) scale(1.06,1)" font-size="6.90" text-anchor="middle" font-weight="bold" font-style="normal" fill="#111" >60</text>
<line x1="519.50" y1="64.00" x2="519.50" y2="497.60" stroke="#999" stroke-width="0.6" />
<circle cx="519.5" cy="88.00" r="1.25" fill="#000"/><line x1="519.50" y1="88.00" x2="501.90" y2="93.50" stroke="#000" stroke-width="0.8" /><polygon points="501.9,93.5 501.3,85.9 505.1,92.5" fill="#000" stroke="#000" stroke-width="0.5"/><line x1="507.48" y1="91.76" x2="505.57" y2="88.48" stroke="#000" stroke-width="0.8" />
<circle cx="519.5" cy="120.25" r="1.25" fill="#000"/><line x1="519.50" y1="120.25" x2="501.90" y2="125.60" stroke="#000" stroke-width="0.8" /><polygon points="501.9,125.6 501.4,118.0 505.2,124.6" fill="#000" stroke="#000" stroke-width="0.5"/><line x1="507.50" y1="123.90" x2="503.72" y2="117.31" stroke="#000" stroke-width="0.8" />
<circle cx="519.5" cy="126.60" r="1.25" fill="#000"/><line x1="519.50" y1="126.60" x2="501.90" y2="132.00" stroke="#000" stroke-width="0.8" /><polygon points="501.9,132.0 501.4,124.4 505.2,131.0" fill="#000" stroke="#000" stroke-width="0.5"/><line x1="507.49" y1="130.28" x2="503.70" y2="123.71" stroke="#000" stroke-width="0.8" /><line x1="509.83" y1="129.57" x2="507.94" y2="126.28" stroke="#000" stroke-width="0.8" />
<circle cx="519.5" cy="142.75" r="1.25" fill="#000"/><line x1="519.50" y1="142.75" x2="501.90" y2="148.50" stroke="#000" stroke-width="0.8" /><polygon points="501.9,148.5 501.2,140.9 505.1,147.4" fill="#000" stroke="#000" stroke-width="0.5"/><line x1="507.46" y1="146.68" x2="503.55" y2="140.18" stroke="#000" stroke-width="0.8" /><line x1="509.79" y1="145.92" x2="505.88" y2="139.42" stroke="#000" stroke-width="0.8" /><line x1="512.12" y1="145.16" x2="508.20" y2="138.66" stroke="#000" stroke-width="0.8" />
<circle cx="519.5" cy="166.90" r="1.25" fill="#000"/><line x1="519.50" y1="166.90" x2="501.60" y2="172.80" stroke="#000" stroke-width="0.8" /><polygon points="501.6,172.8 500.9,165.2 504.8,171.7" fill="#000" stroke="#000" stroke-width="0.5"/><line x1="507.16" y1="170.97" x2="503.22" y2="164.47" stroke="#000" stroke-width="0.8" /><line x1="509.48" y1="170.20" x2="505.55" y2="163.71" stroke="#000" stroke-width="0.8" /><line x1="511.81" y1="169.43" x2="507.88" y2="162.94" stroke="#000" stroke-width="0.8" /><line x1="514.14" y1="168.67" x2="510.21" y2="162.17" stroke="#000" stroke-width="0.8" />
<circle cx="519.5" cy="176.90" r="1.25" fill="#000"/><line x1="519.50" y1="176.90" x2="501.60" y2="183.00" stroke="#000" stroke-width="0.8" /><polygon points="501.6,183.0 500.8,175.4 504.8,181.9" fill="#000" stroke="#000" stroke-width="0.5"/><line x1="507.14" y1="181.11" x2="503.14" y2="174.66" stroke="#000" stroke-width="0.8" /><line x1="509.46" y1="180.32" x2="505.46" y2="173.87" stroke="#000" stroke-width="0.8" /><line x1="511.78" y1="179.53" x2="507.78" y2="173.08" stroke="#000" stroke-width="0.8" /><line x1="514.09" y1="178.74" x2="510.10" y2="172.29" stroke="#000" stroke-width="0.8" /><line x1="516.41" y1="177.95" x2="514.42" y2="174.72" stroke="#000" stroke-width="0.8" />
<circle cx="519.5" cy="186.25" r="1.25" fill="#000"/><line x1="519.50" y1="186.25" x2="502.25" y2="193.10" stroke="#000" stroke-width="0.8" /><polygon points="502.2,193.1 501.1,185.6 505.4,191.8" fill="#000" stroke="#000" stroke-width="0.5"/><polygon points="506.5,191.4 505.4,183.9 509.7,190.1" fill="#000" stroke="#000" stroke-width="0.5"/>
<circle cx="519.5" cy="210.60" r="1.25" fill="#000"/><line x1="519.50" y1="210.60" x2="501.60" y2="216.60" stroke="#000" stroke-width="0.8" /><polygon points="501.6,216.6 500.9,209.0 504.8,215.5" fill="#000" stroke="#000" stroke-width="0.5"/><line x1="507.15" y1="214.74" x2="503.18" y2="208.26" stroke="#000" stroke-width="0.8" /><line x1="509.47" y1="213.96" x2="505.51" y2="207.49" stroke="#000" stroke-width="0.8" /><line x1="511.79" y1="213.18" x2="507.83" y2="206.71" stroke="#000" stroke-width="0.8" /><line x1="514.12" y1="212.40" x2="510.15" y2="205.93" stroke="#000" stroke-width="0.8" /><line x1="516.44" y1="211.63" x2="514.46" y2="208.39" stroke="#000" stroke-width="0.8" />
<circle cx="519.5" cy="217.50" r="1.25" fill="#000"/><line x1="519.50" y1="217.50" x2="501.60" y2="223.50" stroke="#000" stroke-width="0.8" /><polygon points="501.6,223.5 500.9,215.9 504.8,222.4" fill="#000" stroke="#000" stroke-width="0.5"/><line x1="507.15" y1="221.64" x2="503.18" y2="215.16" stroke="#000" stroke-width="0.8" /><line x1="509.47" y1="220.86" x2="505.51" y2="214.39" stroke="#000" stroke-width="0.8" /><line x1="511.79" y1="220.08" x2="507.83" y2="213.61" stroke="#000" stroke-width="0.8" /><line x1="514.12" y1="219.30" x2="512.13" y2="216.07" stroke="#000" stroke-width="0.8" />
<circle cx="519.5" cy="236.40" r="1.25" fill="#000"/><line x1="519.50" y1="236.40" x2="501.60" y2="242.40" stroke="#000" stroke-width="0.8" /><polygon points="501.6,242.4 500.9,234.8 504.8,241.3" fill="#000" stroke="#000" stroke-width="0.5"/><line x1="507.15" y1="240.54" x2="503.18" y2="234.06" stroke="#000" stroke-width="0.8" /><line x1="509.47" y1="239.76" x2="505.51" y2="233.29" stroke="#000" stroke-width="0.8" /><line x1="511.79" y1="238.98" x2="507.83" y2="232.51" stroke="#000" stroke-width="0.8" /><line x1="514.12" y1="238.20" x2="510.15" y2="231.73" stroke="#000" stroke-width="0.8" /><line x1="516.44" y1="237.43" x2="514.46" y2="234.19" stroke="#000" stroke-width="0.8" />
<circle cx="519.5" cy="248.10" r="1.25" fill="#000"/><line x1="519.50" y1="248.10" x2="501.60" y2="253.60" stroke="#000" stroke-width="0.8" /><polygon points="501.6,253.6 501.1,246.0 504.9,252.6" fill="#000" stroke="#000" stroke-width="0.5"/><line x1="507.19" y1="251.88" x2="503.39" y2="245.31" stroke="#000" stroke-width="0.8" /><line x1="509.53" y1="251.16" x2="505.74" y2="244.59" stroke="#000" stroke-width="0.8" /><line x1="511.88" y1="250.44" x2="508.08" y2="243.87" stroke="#000" stroke-width="0.8" /><line x1="514.22" y1="249.72" x2="512.32" y2="246.44" stroke="#000" stroke-width="0.8" />
<circle cx="519.5" cy="257.25" r="1.25" fill="#000"/><line x1="519.50" y1="257.25" x2="501.60" y2="261.50" stroke="#000" stroke-width="0.8" /><polygon points="501.6,261.5 501.5,253.9 504.9,260.7" fill="#000" stroke="#000" stroke-width="0.5"/><line x1="507.29" y1="260.15" x2="503.93" y2="253.34" stroke="#000" stroke-width="0.8" /><line x1="509.68" y1="259.58" x2="506.31" y2="252.78" stroke="#000" stroke-width="0.8" /><line x1="512.06" y1="259.02" x2="508.70" y2="252.21" stroke="#000" stroke-width="0.8" />
<circle cx="519.5" cy="271.60" r="1.25" fill="#000"/><line x1="519.50" y1="271.60" x2="501.60" y2="276.60" stroke="#000" stroke-width="0.8" /><polygon points="501.6,276.6 501.2,269.0 504.9,275.7" fill="#000" stroke="#000" stroke-width="0.5"/>
<circle cx="519.5" cy="285.00" r="1.25" fill="#000"/><line x1="519.50" y1="285.00" x2="500.60" y2="288.75" stroke="#000" stroke-width="0.8" /><line x1="500.60" y1="288.75" x2="497.49" y2="281.82" stroke="#000" stroke-width="0.8" /><line x1="503.00" y1="288.27" x2="499.90" y2="281.35" stroke="#000" stroke-width="0.8" /><line x1="505.41" y1="287.80" x2="502.30" y2="280.87" stroke="#000" stroke-width="0.8" /><line x1="507.81" y1="287.32" x2="504.70" y2="280.39" stroke="#000" stroke-width="0.8" /><line x1="510.21" y1="286.84" x2="508.66" y2="283.38" stroke="#000" stroke-width="0.8" />
<circle cx="519.5" cy="298.50" r="1.25" fill="#000"/><line x1="519.50" y1="298.50" x2="500.60" y2="301.00" stroke="#000" stroke-width="0.8" /><line x1="500.60" y1="301.00" x2="497.94" y2="293.89" stroke="#000" stroke-width="0.8" /><line x1="503.03" y1="300.68" x2="500.37" y2="293.57" stroke="#000" stroke-width="0.8" /><line x1="505.46" y1="300.36" x2="502.80" y2="293.24" stroke="#000" stroke-width="0.8" /><line x1="507.89" y1="300.04" x2="505.23" y2="292.92" stroke="#000" stroke-width="0.8" />
<circle cx="519.5" cy="312.75" r="1.25" fill="#000"/><line x1="519.50" y1="312.75" x2="500.60" y2="316.00" stroke="#000" stroke-width="0.8" /><line x1="500.60" y1="316.00" x2="497.67" y2="309.00" stroke="#000" stroke-width="0.8" /><line x1="503.01" y1="315.58" x2="500.09" y2="308.58" stroke="#000" stroke-width="0.8" /><line x1="505.43" y1="315.17" x2="502.50" y2="308.16" stroke="#000" stroke-width="0.8" /><line x1="507.84" y1="314.75" x2="504.91" y2="307.75" stroke="#000" stroke-width="0.8" /><line x1="510.26" y1="314.34" x2="508.79" y2="310.84" stroke="#000" stroke-width="0.8" />
<circle cx="519.5" cy="326.60" r="1.25" fill="#000"/><line x1="519.50" y1="326.60" x2="501.60" y2="330.30" stroke="#000" stroke-width="0.8" /><polygon points="501.6,330.3 501.8,322.7 504.9,329.6" fill="#000" stroke="#000" stroke-width="0.5"/>
<circle cx="519.5" cy="340.40" r="1.25" fill="#000"/><line x1="519.50" y1="340.40" x2="500.60" y2="344.00" stroke="#000" stroke-width="0.8" /><line x1="500.60" y1="344.00" x2="497.55" y2="337.05" stroke="#000" stroke-width="0.8" /><line x1="503.01" y1="343.54" x2="499.95" y2="336.59" stroke="#000" stroke-width="0.8" /><line x1="505.41" y1="343.08" x2="502.36" y2="336.13" stroke="#000" stroke-width="0.8" /><line x1="507.82" y1="342.62" x2="504.77" y2="335.67" stroke="#000" stroke-width="0.8" /><line x1="510.23" y1="342.17" x2="508.70" y2="338.69" stroke="#000" stroke-width="0.8" />
<circle cx="519.5" cy="354.75" r="1.25" fill="#000"/><line x1="519.50" y1="354.75" x2="500.60" y2="355.60" stroke="#000" stroke-width="0.8" /><line x1="500.60" y1="355.60" x2="498.57" y2="348.28" stroke="#000" stroke-width="0.8" /><line x1="503.05" y1="355.49" x2="501.02" y2="348.17" stroke="#000" stroke-width="0.8" /><line x1="505.50" y1="355.38" x2="503.46" y2="348.06" stroke="#000" stroke-width="0.8" /><line x1="507.94" y1="355.27" x2="505.91" y2="347.95" stroke="#000" stroke-width="0.8" /><line x1="510.39" y1="355.16" x2="509.37" y2="351.50" stroke="#000" stroke-width="0.8" />
<circle cx="519.5" cy="370.40" r="1.25" fill="#000"/><line x1="519.50" y1="370.40" x2="500.60" y2="375.00" stroke="#000" stroke-width="0.8" /><line x1="500.60" y1="375.00" x2="497.20" y2="368.21" stroke="#000" stroke-width="0.8" /><line x1="502.98" y1="374.42" x2="499.58" y2="367.63" stroke="#000" stroke-width="0.8" /><line x1="505.36" y1="373.84" x2="501.96" y2="367.05" stroke="#000" stroke-width="0.8" /><line x1="507.74" y1="373.26" x2="504.34" y2="366.47" stroke="#000" stroke-width="0.8" />
<circle cx="519.5" cy="379.00" r="1.25" fill="#000"/><line x1="519.50" y1="379.00" x2="501.50" y2="385.00" stroke="#000" stroke-width="0.8" /><line x1="501.50" y1="385.00" x2="497.55" y2="378.52" stroke="#000" stroke-width="0.8" /><line x1="503.82" y1="384.23" x2="499.87" y2="377.74" stroke="#000" stroke-width="0.8" /><line x1="506.15" y1="383.45" x2="502.20" y2="376.97" stroke="#000" stroke-width="0.8" /><line x1="508.47" y1="382.68" x2="504.52" y2="376.19" stroke="#000" stroke-width="0.8" />
<circle cx="519.5" cy="396.90" r="1.25" fill="#000"/><line x1="519.50" y1="396.90" x2="501.25" y2="402.50" stroke="#000" stroke-width="0.8" /><line x1="501.25" y1="402.50" x2="497.45" y2="395.92" stroke="#000" stroke-width="0.8" /><line x1="503.59" y1="401.78" x2="499.80" y2="395.21" stroke="#000" stroke-width="0.8" /><line x1="505.93" y1="401.06" x2="502.14" y2="394.49" stroke="#000" stroke-width="0.8" /><line x1="508.28" y1="400.34" x2="506.38" y2="397.06" stroke="#000" stroke-width="0.8" />
<circle cx="519.5" cy="409.40" r="1.25" fill="#000"/><line x1="519.50" y1="409.40" x2="501.25" y2="415.00" stroke="#000" stroke-width="0.8" /><line x1="501.25" y1="415.00" x2="497.45" y2="408.42" stroke="#000" stroke-width="0.8" /><line x1="503.59" y1="414.28" x2="499.80" y2="407.71" stroke="#000" stroke-width="0.8" /><line x1="505.93" y1="413.56" x2="502.14" y2="406.99" stroke="#000" stroke-width="0.8" /><line x1="508.28" y1="412.84" x2="506.38" y2="409.56" stroke="#000" stroke-width="0.8" />
<circle cx="519.5" cy="424.00" r="1.25" fill="#000"/><line x1="519.50" y1="424.00" x2="500.25" y2="425.25" stroke="#000" stroke-width="0.8" /><line x1="500.25" y1="425.25" x2="498.07" y2="417.98" stroke="#000" stroke-width="0.8" /><line x1="502.69" y1="425.09" x2="501.61" y2="421.45" stroke="#000" stroke-width="0.8" />
<circle cx="519.5" cy="438.50" r="1.25" fill="#000"/><line x1="519.50" y1="438.50" x2="500.60" y2="440.00" stroke="#000" stroke-width="0.8" /><line x1="500.60" y1="440.00" x2="498.32" y2="432.76" stroke="#000" stroke-width="0.8" />
<circle cx="519.5" cy="452.90" r="1.25" fill="#000"/><line x1="519.50" y1="452.90" x2="501.00" y2="449.40" stroke="#000" stroke-width="0.8" /><line x1="501.00" y1="449.40" x2="500.71" y2="441.81" stroke="#000" stroke-width="0.8" />
<circle cx="519.5" cy="466.25" r="1.25" fill="#000"/><line x1="519.50" y1="466.25" x2="537.75" y2="466.00" stroke="#000" stroke-width="0.8" /><line x1="534.08" y1="466.05" x2="534.98" y2="469.74" stroke="#000" stroke-width="0.8" />
<circle cx="519.5" cy="477.50" r="1.25" fill="#000"/><line x1="519.50" y1="477.50" x2="536.90" y2="472.25" stroke="#000" stroke-width="0.8" /><line x1="533.38" y1="473.31" x2="535.26" y2="476.61" stroke="#000" stroke-width="0.8" />
<circle cx="519.5" cy="488.75" r="1.25" fill="#000"/><line x1="519.50" y1="488.75" x2="534.20" y2="478.80" stroke="#000" stroke-width="0.8" /><line x1="531.16" y1="480.86" x2="533.93" y2="483.45" stroke="#000" stroke-width="0.8" />
</g>
<rect x="15.5" y="44" width="74.9" height="54.2" rx="1.5" fill="#fff" fill-opacity="0.55" stroke="#ddd" stroke-width="0.4"/>
<text transform="translate(34.30,50.70) scale(1.06,1)" font-size="5.44" font-weight="normal" font-style="normal" fill="#222" >WETBULB TEMP</text>
<text transform="translate(34.30,59.46) scale(1.06,1)" font-size="5.48" font-weight="normal" font-style="normal" fill="#222" >VIRTUAL TEMP</text>
<text transform="translate(34.30,68.22) scale(1.06,1)" font-size="5.28" font-weight="normal" font-style="normal" fill="#222" >DEWPOINT</text>
<text transform="translate(34.30,76.98) scale(1.06,1)" font-size="5.44" font-weight="normal" font-style="normal" fill="#222" >TEMPERATURE</text>
<text transform="translate(34.30,85.74) scale(1.06,1)" font-size="5.45" font-weight="normal" font-style="normal" fill="#222" >MUCAPE PARCEL</text>
<text transform="translate(34.30,94.50) scale(1.06,1)" font-size="5.47" font-weight="normal" font-style="normal" fill="#222" >DWNDRFT PARCEL</text>
<line x1="17.10" y1="48.70" x2="30.80" y2="48.70" stroke="#7fb0f7" stroke-width="0.6" />
<line x1="19.30" y1="57.50" x2="30.80" y2="57.50" stroke="#a03030" stroke-width="1.9" stroke-dasharray="0.1,4.4" stroke-linecap="round"/>
<line x1="17.10" y1="66.20" x2="30.80" y2="66.20" stroke="#5f94ec" stroke-width="2.6" />
<line x1="17.10" y1="75.00" x2="30.80" y2="75.00" stroke="#fb0505" stroke-width="2.6" />
<line x1="18.50" y1="83.70" x2="30.00" y2="83.70" stroke="#a8a8a8" stroke-width="0.8" stroke-dasharray="3,2"/>
<line x1="17.10" y1="92.50" x2="30.80" y2="92.50" stroke="#9a4fb5" stroke-width="0.6" stroke-dasharray="1,0.7"/>
<rect x="13.50" y="41.25" width="530.10" height="461.15" fill="none" stroke="#505050" stroke-width="0.9" />
<line x1="543.60" y1="177.19" x2="580.60" y2="177.19" stroke="#9a9a9a" stroke-width="0.6" />
<line x1="543.60" y1="256.82" x2="580.60" y2="256.82" stroke="#9a9a9a" stroke-width="0.6" />
<line x1="543.60" y1="313.32" x2="580.60" y2="313.32" stroke="#9a9a9a" stroke-width="0.6" />
<line x1="543.60" y1="357.15" x2="580.60" y2="357.15" stroke="#9a9a9a" stroke-width="0.6" />
<line x1="543.60" y1="392.96" x2="580.60" y2="392.96" stroke="#9a9a9a" stroke-width="0.6" />
<line x1="543.60" y1="423.23" x2="580.60" y2="423.23" stroke="#9a9a9a" stroke-width="0.6" />
<line x1="543.60" y1="449.46" x2="580.60" y2="449.46" stroke="#9a9a9a" stroke-width="0.6" />
<line x1="543.60" y1="472.59" x2="580.60" y2="472.59" stroke="#9a9a9a" stroke-width="0.6" />
<line x1="543.60" y1="493.28" x2="580.60" y2="493.28" stroke="#9a9a9a" stroke-width="0.6" />
<rect x="556.30" y="91.00" width="5.20" height="112.30" fill="#c9d8f5" stroke="#a9bfee" stroke-width="0.5" />
<rect x="555.20" y="203.30" width="6.30" height="71.50" fill="#c9d8f5" stroke="#a9bfee" stroke-width="0.5" />
<rect x="561.50" y="326.90" width="6.50" height="41.20" fill="#f9b4b4" stroke="#f09a9a" stroke-width="0.5" />
<rect x="558.20" y="368.10" width="3.30" height="33.60" fill="#c9d8f5" stroke="#a9bfee" stroke-width="0.5" />
<rect x="561.50" y="431.00" width="1.50" height="47.60" fill="#f9b4b4" stroke="#f09a9a" stroke-width="0.4" />
<line x1="561.50" y1="41.25" x2="561.50" y2="502.40" stroke="#111" stroke-width="0.7" stroke-dasharray="2,1"/>
<text transform="translate(559.90,166.40) scale(1.06,1)" font-size="5.30" text-anchor="end" font-weight="bold" font-style="normal" fill="#111" >-1.6</text>
<text transform="translate(559.90,249.30) scale(1.06,1)" font-size="5.30" text-anchor="end" font-weight="bold" font-style="normal" fill="#111" >-1.9</text>
<text transform="translate(559.90,308.10) scale(1.06,1)" font-size="5.30" text-anchor="end" font-weight="bold" font-style="normal" fill="#111" >-0.1</text>
<text transform="translate(559.90,389.20) scale(1.06,1)" font-size="5.30" text-anchor="end" font-weight="bold" font-style="normal" fill="#111" >-1.0</text>
<text transform="translate(559.90,420.10) scale(1.06,1)" font-size="5.30" text-anchor="end" font-weight="bold" font-style="normal" fill="#111" >-0.2</text>
<text transform="translate(562.80,353.00) scale(1.06,1)" font-size="5.30" text-anchor="start" font-weight="bold" font-style="normal" fill="#111" >2.1</text>
<text transform="translate(563.20,446.50) scale(1.06,1)" font-size="5.30" text-anchor="start" font-weight="bold" font-style="normal" fill="#111" >0.4</text>
<text transform="translate(563.20,469.70) scale(1.06,1)" font-size="5.30" text-anchor="start" font-weight="bold" font-style="normal" fill="#111" >0.4</text>
<line x1="543.60" y1="41.25" x2="580.60" y2="41.25" stroke="#505050" stroke-width="0.9" />
<line x1="543.60" y1="502.40" x2="580.60" y2="502.40" stroke="#505050" stroke-width="0.9" />
<defs><clipPath id="hc"><rect x="580.6" y="41.25" width="427.19999999999993" height="461.15"/></clipPath></defs>
<g clip-path="url(#hc)">
<circle cx="700.7" cy="272.7" r="29.3" fill="none" stroke="#c0c0c0" stroke-width="0.6" stroke-dasharray="2.2,1.1"/>
<circle cx="700.7" cy="272.7" r="58.6" fill="none" stroke="#8c8c8c" stroke-width="0.6"/>
<circle cx="700.7" cy="272.7" r="87.9" fill="none" stroke="#c0c0c0" stroke-width="0.6" stroke-dasharray="2.2,1.1"/>
<circle cx="700.7" cy="272.7" r="117.2" fill="none" stroke="#8c8c8c" stroke-width="0.6"/>
<circle cx="700.7" cy="272.7" r="146.5" fill="none" stroke="#c0c0c0" stroke-width="0.6" stroke-dasharray="2.2,1.1"/>
<circle cx="700.7" cy="272.7" r="175.8" fill="none" stroke="#8c8c8c" stroke-width="0.6"/>
<circle cx="700.7" cy="272.7" r="205.1" fill="none" stroke="#c0c0c0" stroke-width="0.6" stroke-dasharray="2.2,1.1"/>
<circle cx="700.7" cy="272.7" r="234.4" fill="none" stroke="#8c8c8c" stroke-width="0.6"/>
<circle cx="700.7" cy="272.7" r="263.7" fill="none" stroke="#c0c0c0" stroke-width="0.6" stroke-dasharray="2.2,1.1"/>
<circle cx="700.7" cy="272.7" r="293.0" fill="none" stroke="#8c8c8c" stroke-width="0.6"/>
<circle cx="700.7" cy="272.7" r="322.3" fill="none" stroke="#c0c0c0" stroke-width="0.6" stroke-dasharray="2.2,1.1"/>
<circle cx="700.7" cy="272.7" r="351.6" fill="none" stroke="#8c8c8c" stroke-width="0.6"/>
<circle cx="700.7" cy="272.7" r="380.9" fill="none" stroke="#c0c0c0" stroke-width="0.6" stroke-dasharray="2.2,1.1"/>
<circle cx="700.7" cy="272.7" r="410.2" fill="none" stroke="#8c8c8c" stroke-width="0.6"/>
<circle cx="700.7" cy="272.7" r="439.5" fill="none" stroke="#c0c0c0" stroke-width="0.6" stroke-dasharray="2.2,1.1"/>
<circle cx="700.7" cy="272.7" r="468.8" fill="none" stroke="#8c8c8c" stroke-width="0.6"/>
<circle cx="700.7" cy="272.7" r="498.1" fill="none" stroke="#c0c0c0" stroke-width="0.6" stroke-dasharray="2.2,1.1"/>
<circle cx="700.7" cy="272.7" r="527.4" fill="none" stroke="#8c8c8c" stroke-width="0.6"/>
<line x1="580.60" y1="272.70" x2="1007.80" y2="272.70" stroke="#a8a8a8" stroke-width="0.6" stroke-dasharray="2.2,0.9"/>
<line x1="700.70" y1="41.25" x2="700.70" y2="502.40" stroke="#a8a8a8" stroke-width="0.6" stroke-dasharray="2.2,0.9"/>
<text transform="translate(730.20,271.80) scale(1.06,1)" font-size="6.80" text-anchor="start" font-weight="normal" font-style="normal" fill="#b6b6b6" >10</text>
<text transform="translate(671.60,271.80) scale(1.06,1)" font-size="6.80" text-anchor="start" font-weight="normal" font-style="normal" fill="#b6b6b6" >10</text>
<text transform="translate(700.90,242.90) scale(1.06,1)" font-size="6.80" text-anchor="start" font-weight="normal" font-style="normal" fill="#b6b6b6" >10</text>
<text transform="translate(700.90,301.50) scale(1.06,1)" font-size="6.80" text-anchor="start" font-weight="normal" font-style="normal" fill="#b6b6b6" >10</text>
<text transform="translate(788.80,271.80) scale(1.06,1)" font-size="6.80" text-anchor="start" font-weight="normal" font-style="normal" fill="#b6b6b6" >30</text>
<text transform="translate(613.00,271.80) scale(1.06,1)" font-size="6.80" text-anchor="start" font-weight="normal" font-style="normal" fill="#b6b6b6" >30</text>
<text transform="translate(700.90,184.30) scale(1.06,1)" font-size="6.80" text-anchor="start" font-weight="normal" font-style="normal" fill="#b6b6b6" >30</text>
<text transform="translate(700.90,360.10) scale(1.06,1)" font-size="6.80" text-anchor="start" font-weight="normal" font-style="normal" fill="#b6b6b6" >30</text>
<text transform="translate(847.40,271.80) scale(1.06,1)" font-size="6.80" text-anchor="start" font-weight="normal" font-style="normal" fill="#b6b6b6" >50</text>
<text transform="translate(700.90,125.70) scale(1.06,1)" font-size="6.80" text-anchor="start" font-weight="normal" font-style="normal" fill="#b6b6b6" >50</text>
<text transform="translate(700.90,418.70) scale(1.06,1)" font-size="6.80" text-anchor="start" font-weight="normal" font-style="normal" fill="#b6b6b6" >50</text>
<text transform="translate(906.00,271.80) scale(1.06,1)" font-size="6.80" text-anchor="start" font-weight="normal" font-style="normal" fill="#b6b6b6" >70</text>
<text transform="translate(700.90,67.10) scale(1.06,1)" font-size="6.80" text-anchor="start" font-weight="normal" font-style="normal" fill="#b6b6b6" >70</text>
<text transform="translate(700.90,477.30) scale(1.06,1)" font-size="6.80" text-anchor="start" font-weight="normal" font-style="normal" fill="#b6b6b6" >70</text>
<text transform="translate(964.60,271.80) scale(1.06,1)" font-size="6.80" text-anchor="start" font-weight="normal" font-style="normal" fill="#b6b6b6" >90</text>
<polygon points="824.0,280.6 677.6,271.6 681.3,269.6 683.2,276.0 685.2,284.0 687.5,277.5 687.5,277.5 691.6,285.1 695.2,288.0 695.7,285.7 694.6,280.4 702.0,285.1 735.0,269.9 740.3,261.7 743.8,266.4 749.1,265.8 770.5,256.4" fill="#a9c7e8" fill-opacity="0.06"/>
<polygon points="700.7,272.7 824.0,280.6 770.5,256.4 735.0,269.9" fill="#a9c7e8" fill-opacity="0.06"/>
<line x1="700.70" y1="272.70" x2="821.50" y2="280.45" stroke="#a9a9a9" stroke-width="1.1" />
<polygon points="825.0,280.7 820.3,278.6 820.1,282.3" fill="#a0a0a0"/>
<polyline points="879.5,217.0 890.0,217.6 910.0,215.2 935.0,200.3 962.3,177.9 956.9,177.0 928.8,189.4 946.7,170.3 966.2,148.8 964.9,166.0 961.6,177.2" fill="none" stroke="#ffeb9c" stroke-width="4.4" stroke-linejoin="round" stroke-linecap="round"/>
<polyline points="832.9,246.9 845.2,234.0 825.6,244.8 813.9,251.6 833.0,241.0 844.4,226.4 852.6,219.3 859.6,216.2 879.5,217.0" fill="none" stroke="#ffd20a" stroke-width="4.4" stroke-linejoin="round" stroke-linecap="round"/>
<polyline points="770.5,256.4 776.4,252.7 796.3,236.3 805.1,234.6 811.6,231.1 813.9,231.4 817.4,235.7 819.8,239.8 825.6,244.8 826.8,251.6 827.4,258.6 830.3,252.2 832.9,246.9" fill="none" stroke="#ff8c0f" stroke-width="4.4" stroke-linejoin="round" stroke-linecap="round"/>
<polyline points="687.5,277.5 691.6,285.1 695.2,288.0 695.7,285.7 694.6,280.4 702.0,285.1 735.0,269.9 740.3,261.7 743.8,266.4 749.1,265.8 770.5,256.4" fill="none" stroke="#fa0505" stroke-width="4.4" stroke-linejoin="round" stroke-linecap="round"/>
<polyline points="677.6,271.6 681.3,269.6 683.2,276.0 685.2,284.0 687.5,277.5" fill="none" stroke="#8a169a" stroke-width="4.4" stroke-linejoin="round" stroke-linecap="round"/>
<line x1="829.50" y1="242.50" x2="837.50" y2="238.00" stroke="#fff" stroke-width="0.5" stroke-dasharray="1.5,1"/>
<text transform="translate(809.20,242.40) scale(1.06,1)" font-size="5.20" text-anchor="middle" font-weight="normal" font-style="normal" fill="#ffb347" opacity="0.8">US</text>
<text transform="translate(904.50,218.40) scale(1.06,1)" font-size="5.20" text-anchor="middle" font-weight="normal" font-style="normal" fill="#f7c860" opacity="0.9">DN</text>
<circle cx="683.7" cy="278.5" r="4.3" fill="#fff" stroke="#111" stroke-width="0.6"/>
<text transform="translate(683.70,280.60) scale(1.0,1)" font-size="5.80" text-anchor="middle" font-weight="bold" font-style="normal" fill="#111" >.5</text>
<circle cx="684.3" cy="274.2" r="4.3" fill="#fff" stroke="#111" stroke-width="0.6"/>
<text transform="translate(684.30,276.30) scale(1.0,1)" font-size="5.80" text-anchor="middle" font-weight="bold" font-style="normal" fill="#111" >1</text>
<circle cx="739.5" cy="267.5" r="4.3" fill="#fff" stroke="#111" stroke-width="0.6"/>
<text transform="translate(739.50,269.60) scale(1.0,1)" font-size="5.80" text-anchor="middle" font-weight="bold" font-style="normal" fill="#111" >2</text>
<circle cx="770.5" cy="256.4" r="4.3" fill="#fff" stroke="#111" stroke-width="0.6"/>
<text transform="translate(770.50,258.50) scale(1.0,1)" font-size="5.80" text-anchor="middle" font-weight="bold" font-style="normal" fill="#111" >3</text>
<circle cx="805.5" cy="234.6" r="4.3" fill="#fff" stroke="#111" stroke-width="0.6"/>
<text transform="translate(805.50,236.70) scale(1.0,1)" font-size="5.80" text-anchor="middle" font-weight="bold" font-style="normal" fill="#111" >4</text>
<circle cx="820" cy="239.8" r="4.3" fill="#fff" stroke="#111" stroke-width="0.6"/>
<text transform="translate(820.00,241.90) scale(1.0,1)" font-size="5.80" text-anchor="middle" font-weight="bold" font-style="normal" fill="#111" >5</text>
<circle cx="832.9" cy="246.9" r="4.3" fill="#fff" stroke="#111" stroke-width="0.6"/>
<text transform="translate(832.90,249.00) scale(1.0,1)" font-size="5.80" text-anchor="middle" font-weight="bold" font-style="normal" fill="#111" >6</text>
<circle cx="845.2" cy="234" r="4.3" fill="#fff" stroke="#111" stroke-width="0.6"/>
<text transform="translate(845.20,236.10) scale(1.0,1)" font-size="5.80" text-anchor="middle" font-weight="bold" font-style="normal" fill="#111" >7</text>
<circle cx="825.6" cy="244.8" r="4.3" fill="#fff" stroke="#111" stroke-width="0.6"/>
<text transform="translate(825.60,246.90) scale(1.0,1)" font-size="5.80" text-anchor="middle" font-weight="bold" font-style="normal" fill="#111" >8</text>
<circle cx="879.5" cy="217" r="4.3" fill="#fff" stroke="#111" stroke-width="0.6"/>
<text transform="translate(879.50,219.10) scale(1.0,1)" font-size="5.80" text-anchor="middle" font-weight="bold" font-style="normal" fill="#111" >9</text>
<circle cx="946.7" cy="170.3" r="4.3" fill="#fff" stroke="#111" stroke-width="0.6"/>
<text transform="translate(946.70,172.40) scale(1.0,1)" font-size="5.80" text-anchor="middle" font-weight="bold" font-style="normal" fill="#111" >11</text>
<text transform="translate(755.90,277.00) scale(1.06,1)" font-size="5.30" text-anchor="middle" font-weight="bold" font-style="normal" fill="#b53a3a" >DTM</text>
<polygon points="753.6,280.2 758.4,280.2 756.0,284.6" fill="#d06a6a" stroke="#b53a3a" stroke-width="0.5"/>
<text transform="translate(826.70,283.40) scale(1.06,1)" font-size="7.11" font-weight="bold" font-style="normal" fill="#111" >RM</text>
<text transform="translate(810.00,199.90) scale(1.06,1)" font-size="7.51" font-weight="bold" font-style="normal" fill="#111" >LM</text>
<text transform="translate(793.40,251.00) scale(1.06,1)" font-size="6.83" font-weight="bold" font-style="normal" fill="#111" >MW</text>
<text transform="translate(589.30,52.20) scale(1.06,1)" font-size="8.18" font-weight="bold" font-style="normal" fill="#555" >SM: RIGHT MOVING | E @ 42 kts</text>
<text transform="translate(589.30,64.90) scale(1.06,1)" font-size="8.13" font-weight="normal" font-style="normal" fill="#6a6a6a" >RM: E @ 42 kts</text>
<text transform="translate(589.30,81.30) scale(1.06,1)" font-size="8.16" font-weight="normal" font-style="normal" fill="#6a6a6a" >LM: NE @ 44 kts</text>
<text transform="translate(589.30,97.70) scale(1.06,1)" font-size="8.13" font-weight="normal" font-style="normal" fill="#6a6a6a" >MW: ENE @ 31 kts</text>
<text transform="translate(586.40,113.70) scale(1.06,1)" font-size="8.14" font-weight="normal" font-style="normal" fill="#6a6a6a" >DTM: E @ 19 kts</text>
<text transform="translate(589.30,130.10) scale(1.06,1)" font-size="8.15" font-weight="normal" font-style="normal" fill="#6a6a6a" >US: ENE @ 38 kts</text>
<text transform="translate(589.30,146.50) scale(1.06,1)" font-size="8.12" font-weight="normal" font-style="normal" fill="#6a6a6a" >DS: ENE @ 72 kts</text>
</g>
<defs><clipPath id="mc"><rect x="580.7" y="394.0" width="108.19999999999993" height="108.39999999999998"/></clipPath></defs>
<rect x="580.70" y="394.00" width="108.20" height="108.40" fill="#fff" stroke="none" stroke-width="1" />
<g clip-path="url(#mc)">
<line x1="589.50" y1="394.00" x2="588.97" y2="502.40" stroke="#d9d9d9" stroke-width="0.45" />
<line x1="600.50" y1="394.00" x2="599.71" y2="502.40" stroke="#d9d9d9" stroke-width="0.45" />
<line x1="611.00" y1="394.00" x2="610.79" y2="502.40" stroke="#d9d9d9" stroke-width="0.45" />
<line x1="621.50" y1="394.00" x2="620.81" y2="502.40" stroke="#d9d9d9" stroke-width="0.45" />
<line x1="632.00" y1="394.00" x2="631.13" y2="502.40" stroke="#d9d9d9" stroke-width="0.45" />
<line x1="642.50" y1="394.00" x2="642.30" y2="502.40" stroke="#d9d9d9" stroke-width="0.45" />
<line x1="653.00" y1="394.00" x2="653.84" y2="502.40" stroke="#d9d9d9" stroke-width="0.45" />
<line x1="663.50" y1="394.00" x2="664.10" y2="502.40" stroke="#d9d9d9" stroke-width="0.45" />
<line x1="674.00" y1="394.00" x2="674.53" y2="502.40" stroke="#d9d9d9" stroke-width="0.45" />
<line x1="684.50" y1="394.00" x2="683.94" y2="502.40" stroke="#d9d9d9" stroke-width="0.45" />
<line x1="580.70" y1="402.50" x2="688.90" y2="402.57" stroke="#d9d9d9" stroke-width="0.45" />
<line x1="580.70" y1="412.00" x2="688.90" y2="411.55" stroke="#d9d9d9" stroke-width="0.45" />
<line x1="580.70" y1="421.00" x2="688.90" y2="420.35" stroke="#d9d9d9" stroke-width="0.45" />
<line x1="580.70" y1="430.50" x2="688.90" y2="429.71" stroke="#d9d9d9" stroke-width="0.45" />
<line x1="580.70" y1="439.50" x2="688.90" y2="438.93" stroke="#d9d9d9" stroke-width="0.45" />
<line x1="580.70" y1="449.00" x2="688.90" y2="449.85" stroke="#d9d9d9" stroke-width="0.45" />
<line x1="580.70" y1="458.50" x2="688.90" y2="459.16" stroke="#d9d9d9" stroke-width="0.45" />
<line x1="580.70" y1="468.00" x2="688.90" y2="468.61" stroke="#d9d9d9" stroke-width="0.45" />
<line x1="580.70" y1="477.50" x2="688.90" y2="478.10" stroke="#d9d9d9" stroke-width="0.45" />
<line x1="580.70" y1="487.00" x2="688.90" y2="486.39" stroke="#d9d9d9" stroke-width="0.45" />
<line x1="580.70" y1="496.00" x2="688.90" y2="495.62" stroke="#d9d9d9" stroke-width="0.45" />
<rect x="588.9" y="444.2" width="1.1" height="1.1" fill="#9fc5e8" opacity="0.7"/>
<rect x="584.9" y="442.8" width="1.1" height="1.1" fill="#4a86c8" opacity="0.7"/>
<rect x="582.1" y="437.8" width="1.1" height="1.1" fill="#6fa8dc" opacity="0.7"/>
<rect x="585.6" y="437.7" width="1.1" height="1.1" fill="#4a86c8" opacity="0.7"/>
<rect x="580.4" y="440.5" width="1.1" height="1.1" fill="#9fc5e8" opacity="0.7"/>
<rect x="584.2" y="433.3" width="1.1" height="1.1" fill="#6fa8dc" opacity="0.7"/>
<rect x="583.8" y="435.7" width="1.1" height="1.1" fill="#b7d3ee" opacity="0.7"/>
<rect x="585.7" y="437.2" width="1.1" height="1.1" fill="#9fc5e8" opacity="0.7"/>
<rect x="587.7" y="435.2" width="1.1" height="1.1" fill="#6fa8dc" opacity="0.7"/>
<rect x="589.7" y="435.4" width="1.1" height="1.1" fill="#6fa8dc" opacity="0.7"/>
<rect x="585.6" y="425.2" width="1.1" height="1.1" fill="#6fa8dc" opacity="0.7"/>
<rect x="582.4" y="443.2" width="1.1" height="1.1" fill="#4a86c8" opacity="0.7"/>
<rect x="591.5" y="433.6" width="1.1" height="1.1" fill="#4a86c8" opacity="0.7"/>
<rect x="587.0" y="431.6" width="1.1" height="1.1" fill="#9fc5e8" opacity="0.7"/>
<rect x="588.7" y="451.4" width="1.1" height="1.1" fill="#b7d3ee" opacity="0.7"/>
<rect x="587.0" y="440.1" width="1.1" height="1.1" fill="#4a86c8" opacity="0.7"/>
<rect x="578.4" y="436.5" width="1.1" height="1.1" fill="#6fa8dc" opacity="0.7"/>
<rect x="583.7" y="443.3" width="1.1" height="1.1" fill="#4a86c8" opacity="0.7"/>
<rect x="587.0" y="432.1" width="1.1" height="1.1" fill="#9fc5e8" opacity="0.7"/>
<rect x="580.1" y="438.0" width="1.1" height="1.1" fill="#4a86c8" opacity="0.7"/>
<rect x="583.4" y="438.6" width="1.1" height="1.1" fill="#b7d3ee" opacity="0.7"/>
<rect x="588.8" y="440.8" width="1.1" height="1.1" fill="#9fc5e8" opacity="0.7"/>
<rect x="585.6" y="431.0" width="1.1" height="1.1" fill="#4a86c8" opacity="0.7"/>
<rect x="581.7" y="442.9" width="1.1" height="1.1" fill="#4a86c8" opacity="0.7"/>
<rect x="589.5" y="439.1" width="1.1" height="1.1" fill="#4a86c8" opacity="0.7"/>
<rect x="583.9" y="434.6" width="1.1" height="1.1" fill="#6fa8dc" opacity="0.7"/>
<rect x="590.1" y="436.0" width="1.1" height="1.1" fill="#6fa8dc" opacity="0.7"/>
<rect x="582.7" y="439.6" width="1.1" height="1.1" fill="#b7d3ee" opacity="0.7"/>
<rect x="582.7" y="438.0" width="1.1" height="1.1" fill="#9fc5e8" opacity="0.7"/>
<rect x="580.6" y="443.6" width="1.1" height="1.1" fill="#6fa8dc" opacity="0.7"/>
<rect x="581.2" y="436.2" width="1.1" height="1.1" fill="#4a86c8" opacity="0.7"/>
<rect x="588.3" y="435.2" width="1.1" height="1.1" fill="#b7d3ee" opacity="0.7"/>
<rect x="583.2" y="435.6" width="1.1" height="1.1" fill="#4a86c8" opacity="0.7"/>
<rect x="582.2" y="437.4" width="1.1" height="1.1" fill="#b7d3ee" opacity="0.7"/>
<rect x="588.7" y="437.1" width="1.1" height="1.1" fill="#b7d3ee" opacity="0.7"/>
<rect x="584.3" y="437.3" width="1.1" height="1.1" fill="#6fa8dc" opacity="0.7"/>
<rect x="582.5" y="432.2" width="1.1" height="1.1" fill="#6fa8dc" opacity="0.7"/>
<rect x="588.4" y="430.1" width="1.1" height="1.1" fill="#b7d3ee" opacity="0.7"/>
<rect x="592.0" y="439.4" width="1.1" height="1.1" fill="#9fc5e8" opacity="0.7"/>
<rect x="585.5" y="437.5" width="1.1" height="1.1" fill="#9fc5e8" opacity="0.7"/>
<rect x="585.1" y="432.9" width="1.1" height="1.1" fill="#b7d3ee" opacity="0.7"/>
<rect x="588.2" y="441.4" width="1.1" height="1.1" fill="#b7d3ee" opacity="0.7"/>
<rect x="584.5" y="439.9" width="1.1" height="1.1" fill="#b7d3ee" opacity="0.7"/>
<rect x="583.2" y="436.5" width="1.1" height="1.1" fill="#b7d3ee" opacity="0.7"/>
<rect x="583.5" y="433.6" width="1.1" height="1.1" fill="#b7d3ee" opacity="0.7"/>
<rect x="629.0" y="408.0" width="1.1" height="1.1" fill="#9fc5e8" opacity="0.7"/>
<rect x="624.4" y="411.5" width="1.1" height="1.1" fill="#6fa8dc" opacity="0.7"/>
<rect x="621.6" y="405.6" width="1.1" height="1.1" fill="#b7d3ee" opacity="0.7"/>
<rect x="622.0" y="412.1" width="1.1" height="1.1" fill="#9fc5e8" opacity="0.7"/>
<rect x="620.5" y="409.1" width="1.1" height="1.1" fill="#4a86c8" opacity="0.7"/>
<rect x="618.5" y="405.9" width="1.1" height="1.1" fill="#b7d3ee" opacity="0.7"/>
<rect x="618.9" y="409.1" width="1.1" height="1.1" fill="#b7d3ee" opacity="0.7"/>
<rect x="626.9" y="406.5" width="1.1" height="1.1" fill="#b7d3ee" opacity="0.7"/>
<rect x="619.4" y="410.6" width="1.1" height="1.1" fill="#4a86c8" opacity="0.7"/>
<rect x="616.5" y="412.9" width="1.1" height="1.1" fill="#6fa8dc" opacity="0.7"/>
<rect x="620.0" y="409.2" width="1.1" height="1.1" fill="#9fc5e8" opacity="0.7"/>
<rect x="622.8" y="411.7" width="1.1" height="1.1" fill="#b7d3ee" opacity="0.7"/>
<rect x="626.5" y="410.0" width="1.1" height="1.1" fill="#6fa8dc" opacity="0.7"/>
<rect x="625.3" y="409.9" width="1.1" height="1.1" fill="#4a86c8" opacity="0.7"/>
<rect x="608.6" y="487.8" width="1.1" height="1.1" fill="#b7d3ee" opacity="0.7"/>
<rect x="613.9" y="482.3" width="1.1" height="1.1" fill="#9fc5e8" opacity="0.7"/>
<rect x="597.7" y="480.0" width="1.1" height="1.1" fill="#4a86c8" opacity="0.7"/>
<rect x="607.7" y="486.2" width="1.1" height="1.1" fill="#4a86c8" opacity="0.7"/>
<rect x="600.7" y="483.0" width="1.1" height="1.1" fill="#4a86c8" opacity="0.7"/>
<rect x="605.8" y="482.7" width="1.1" height="1.1" fill="#6fa8dc" opacity="0.7"/>
<rect x="612.9" y="481.3" width="1.1" height="1.1" fill="#9fc5e8" opacity="0.7"/>
<rect x="607.0" y="483.0" width="1.1" height="1.1" fill="#9fc5e8" opacity="0.7"/>
<rect x="607.5" y="484.7" width="1.1" height="1.1" fill="#b7d3ee" opacity="0.7"/>
<rect x="598.6" y="484.8" width="1.1" height="1.1" fill="#4a86c8" opacity="0.7"/>
<rect x="605.0" y="477.4" width="1.1" height="1.1" fill="#4a86c8" opacity="0.7"/>
<rect x="606.9" y="480.1" width="1.1" height="1.1" fill="#6fa8dc" opacity="0.7"/>
<rect x="610.0" y="483.1" width="1.1" height="1.1" fill="#6fa8dc" opacity="0.7"/>
<rect x="603.4" y="484.1" width="1.1" height="1.1" fill="#4a86c8" opacity="0.7"/>
<rect x="610.1" y="478.2" width="1.1" height="1.1" fill="#4a86c8" opacity="0.7"/>
<rect x="602.1" y="483.9" width="1.1" height="1.1" fill="#b7d3ee" opacity="0.7"/>
<rect x="602.0" y="483.3" width="1.1" height="1.1" fill="#6fa8dc" opacity="0.7"/>
<rect x="615.5" y="481.4" width="1.1" height="1.1" fill="#9fc5e8" opacity="0.7"/>
<rect x="619.4" y="476.8" width="1.1" height="1.1" fill="#6fa8dc" opacity="0.7"/>
<rect x="606.3" y="481.5" width="1.1" height="1.1" fill="#9fc5e8" opacity="0.7"/>
<rect x="607.1" y="482.0" width="1.1" height="1.1" fill="#b7d3ee" opacity="0.7"/>
<rect x="607.5" y="485.1" width="1.1" height="1.1" fill="#4a86c8" opacity="0.7"/>
<rect x="617.2" y="486.8" width="1.1" height="1.1" fill="#4a86c8" opacity="0.7"/>
<rect x="609.0" y="483.6" width="1.1" height="1.1" fill="#4a86c8" opacity="0.7"/>
<rect x="609.4" y="478.0" width="1.1" height="1.1" fill="#9fc5e8" opacity="0.7"/>
<rect x="600.0" y="480.9" width="1.1" height="1.1" fill="#4a86c8" opacity="0.7"/>
<rect x="606.9" y="481.4" width="1.1" height="1.1" fill="#b7d3ee" opacity="0.7"/>
<rect x="586.4" y="483.6" width="1.1" height="1.1" fill="#b7d3ee" opacity="0.7"/>
<rect x="610.9" y="484.1" width="1.1" height="1.1" fill="#9fc5e8" opacity="0.7"/>
<rect x="623.2" y="481.5" width="1.1" height="1.1" fill="#b7d3ee" opacity="0.7"/>
<rect x="654.1" y="462.6" width="1.1" height="1.1" fill="#9fc5e8" opacity="0.7"/>
<rect x="664.7" y="461.6" width="1.1" height="1.1" fill="#6fa8dc" opacity="0.7"/>
<rect x="653.6" y="460.8" width="1.1" height="1.1" fill="#9fc5e8" opacity="0.7"/>
<rect x="653.0" y="470.4" width="1.1" height="1.1" fill="#4a86c8" opacity="0.7"/>
<rect x="653.7" y="464.9" width="1.1" height="1.1" fill="#9fc5e8" opacity="0.7"/>
<rect x="659.4" y="462.9" width="1.1" height="1.1" fill="#6fa8dc" opacity="0.7"/>
<rect x="667.4" y="463.4" width="1.1" height="1.1" fill="#6fa8dc" opacity="0.7"/>
<rect x="660.1" y="464.8" width="1.1" height="1.1" fill="#4a86c8" opacity="0.7"/>
<rect x="660.2" y="466.1" width="1.1" height="1.1" fill="#9fc5e8" opacity="0.7"/>
<rect x="660.9" y="468.0" width="1.1" height="1.1" fill="#6fa8dc" opacity="0.7"/>
<rect x="662.9" y="464.2" width="1.1" height="1.1" fill="#6fa8dc" opacity="0.7"/>
<rect x="652.7" y="464.9" width="1.1" height="1.1" fill="#6fa8dc" opacity="0.7"/>
<rect x="665.5" y="473.2" width="1.1" height="1.1" fill="#6fa8dc" opacity="0.7"/>
<rect x="670.4" y="464.7" width="1.1" height="1.1" fill="#b7d3ee" opacity="0.7"/>
<rect x="665.1" y="466.4" width="1.1" height="1.1" fill="#6fa8dc" opacity="0.7"/>
<rect x="659.6" y="468.7" width="1.1" height="1.1" fill="#9fc5e8" opacity="0.7"/>
<rect x="653.5" y="463.3" width="1.1" height="1.1" fill="#9fc5e8" opacity="0.7"/>
<rect x="656.6" y="471.2" width="1.1" height="1.1" fill="#4a86c8" opacity="0.7"/>
<rect x="590.5" y="494.4" width="1.1" height="1.1" fill="#4a86c8" opacity="0.7"/>
<rect x="588.1" y="497.5" width="1.1" height="1.1" fill="#6fa8dc" opacity="0.7"/>
<rect x="585.1" y="496.1" width="1.1" height="1.1" fill="#b7d3ee" opacity="0.7"/>
<rect x="587.6" y="498.4" width="1.1" height="1.1" fill="#4a86c8" opacity="0.7"/>
<rect x="590.6" y="494.9" width="1.1" height="1.1" fill="#4a86c8" opacity="0.7"/>
<rect x="593.3" y="496.7" width="1.1" height="1.1" fill="#9fc5e8" opacity="0.7"/>
<rect x="590.2" y="500.4" width="1.1" height="1.1" fill="#b7d3ee" opacity="0.7"/>
<rect x="584.4" y="495.7" width="1.1" height="1.1" fill="#9fc5e8" opacity="0.7"/>
<rect x="590.5" y="496.5" width="1.1" height="1.1" fill="#9fc5e8" opacity="0.7"/>
<rect x="584.7" y="499.6" width="1.1" height="1.1" fill="#b7d3ee" opacity="0.7"/>
<rect x="585.9" y="498.3" width="1.1" height="1.1" fill="#6fa8dc" opacity="0.7"/>
<rect x="585.3" y="494.6" width="1.1" height="1.1" fill="#9fc5e8" opacity="0.7"/>
<rect x="594.4" y="497.2" width="1.1" height="1.1" fill="#6fa8dc" opacity="0.7"/>
<rect x="593.2" y="494.1" width="1.1" height="1.1" fill="#4a86c8" opacity="0.7"/>
<rect x="598.0" y="496.2" width="1.1" height="1.1" fill="#9fc5e8" opacity="0.7"/>
<rect x="585.5" y="496.9" width="1.1" height="1.1" fill="#4a86c8" opacity="0.7"/>
<rect x="585.8" y="500.5" width="1.1" height="1.1" fill="#9fc5e8" opacity="0.7"/>
<rect x="580.5" y="498.0" width="1.1" height="1.1" fill="#6fa8dc" opacity="0.7"/>
<rect x="593.5" y="500.0" width="1.1" height="1.1" fill="#b7d3ee" opacity="0.7"/>
<rect x="587.1" y="496.1" width="1.1" height="1.1" fill="#6fa8dc" opacity="0.7"/>
<rect x="590.2" y="499.0" width="1.1" height="1.1" fill="#9fc5e8" opacity="0.7"/>
<rect x="589.1" y="499.1" width="1.1" height="1.1" fill="#b7d3ee" opacity="0.7"/>
<rect x="683.2" y="500.0" width="1.1" height="1.1" fill="#9fc5e8" opacity="0.7"/>
<rect x="687.3" y="500.1" width="1.1" height="1.1" fill="#b7d3ee" opacity="0.7"/>
<rect x="678.3" y="496.8" width="1.1" height="1.1" fill="#6fa8dc" opacity="0.7"/>
<rect x="687.1" y="499.5" width="1.1" height="1.1" fill="#9fc5e8" opacity="0.7"/>
<rect x="684.2" y="501.5" width="1.1" height="1.1" fill="#9fc5e8" opacity="0.7"/>
<rect x="684.7" y="498.1" width="1.1" height="1.1" fill="#6fa8dc" opacity="0.7"/>
<rect x="681.3" y="497.1" width="1.1" height="1.1" fill="#9fc5e8" opacity="0.7"/>
<rect x="681.3" y="498.1" width="1.1" height="1.1" fill="#6fa8dc" opacity="0.7"/>
<rect x="689.7" y="500.1" width="1.1" height="1.1" fill="#b7d3ee" opacity="0.7"/>
<rect x="680.7" y="500.2" width="1.1" height="1.1" fill="#b7d3ee" opacity="0.7"/>
<rect x="679.8" y="497.9" width="1.1" height="1.1" fill="#9fc5e8" opacity="0.7"/>
<rect x="680.3" y="497.6" width="1.1" height="1.1" fill="#b7d3ee" opacity="0.7"/>
<rect x="687.9" y="500.8" width="1.1" height="1.1" fill="#9fc5e8" opacity="0.7"/>
<rect x="681.4" y="497.4" width="1.1" height="1.1" fill="#4a86c8" opacity="0.7"/>
<rect x="648.0" y="503.8" width="1.1" height="1.1" fill="#6fa8dc" opacity="0.7"/>
<rect x="645.8" y="500.4" width="1.1" height="1.1" fill="#6fa8dc" opacity="0.7"/>
<rect x="645.5" y="505.6" width="1.1" height="1.1" fill="#6fa8dc" opacity="0.7"/>
<rect x="643.4" y="500.2" width="1.1" height="1.1" fill="#4a86c8" opacity="0.7"/>
<rect x="636.1" y="500.5" width="1.1" height="1.1" fill="#6fa8dc" opacity="0.7"/>
<rect x="651.5" y="499.1" width="1.1" height="1.1" fill="#4a86c8" opacity="0.7"/>
<rect x="645.2" y="500.3" width="1.1" height="1.1" fill="#b7d3ee" opacity="0.7"/>
<rect x="636.0" y="499.8" width="1.1" height="1.1" fill="#4a86c8" opacity="0.7"/>
<rect x="643.2" y="497.8" width="1.1" height="1.1" fill="#9fc5e8" opacity="0.7"/>
<rect x="647.9" y="500.0" width="1.1" height="1.1" fill="#4a86c8" opacity="0.7"/>
<rect x="647.2" y="500.3" width="1.1" height="1.1" fill="#6fa8dc" opacity="0.7"/>
<rect x="641.6" y="498.4" width="1.1" height="1.1" fill="#6fa8dc" opacity="0.7"/>
<rect x="641.1" y="499.6" width="1.1" height="1.1" fill="#9fc5e8" opacity="0.7"/>
<rect x="642.9" y="499.9" width="1.1" height="1.1" fill="#6fa8dc" opacity="0.7"/>
<rect x="610.8" y="465.0" width="1.1" height="1.1" fill="#6fa8dc" opacity="0.7"/>
<rect x="619.2" y="467.8" width="1.1" height="1.1" fill="#b7d3ee" opacity="0.7"/>
<rect x="604.2" y="464.4" width="1.1" height="1.1" fill="#9fc5e8" opacity="0.7"/>
<rect x="609.5" y="469.4" width="1.1" height="1.1" fill="#7fc97f" opacity="0.7"/>
<rect x="621.2" y="465.1" width="1.1" height="1.1" fill="#7fc97f" opacity="0.7"/>
<rect x="628.8" y="462.5" width="1.1" height="1.1" fill="#4a86c8" opacity="0.7"/>
<rect x="618.2" y="466.0" width="1.1" height="1.1" fill="#9fc5e8" opacity="0.7"/>
<rect x="623.5" y="468.1" width="1.1" height="1.1" fill="#5aa85a" opacity="0.7"/>
<rect x="623.7" y="465.9" width="1.1" height="1.1" fill="#5aa85a" opacity="0.7"/>
<rect x="615.9" y="463.4" width="1.1" height="1.1" fill="#b7d3ee" opacity="0.7"/>
<rect x="617.1" y="466.1" width="1.1" height="1.1" fill="#5aa85a" opacity="0.7"/>
<rect x="613.9" y="465.0" width="1.1" height="1.1" fill="#b7d3ee" opacity="0.7"/>
<rect x="620.7" y="463.2" width="1.1" height="1.1" fill="#b7d3ee" opacity="0.7"/>
<rect x="617.3" y="463.0" width="1.1" height="1.1" fill="#9fc5e8" opacity="0.7"/>
<rect x="617.3" y="463.9" width="1.1" height="1.1" fill="#4a86c8" opacity="0.7"/>
<rect x="617.7" y="463.4" width="1.1" height="1.1" fill="#6fa8dc" opacity="0.7"/>
<rect x="605.3" y="466.9" width="1.1" height="1.1" fill="#9fc5e8" opacity="0.7"/>
<rect x="616.5" y="464.5" width="1.1" height="1.1" fill="#5aa85a" opacity="0.7"/>
<rect x="605.7" y="462.1" width="1.1" height="1.1" fill="#6fa8dc" opacity="0.7"/>
<rect x="610.4" y="468.9" width="1.1" height="1.1" fill="#6fa8dc" opacity="0.7"/>
<rect x="615.0" y="464.4" width="1.1" height="1.1" fill="#9fc5e8" opacity="0.7"/>
<rect x="609.9" y="463.2" width="1.1" height="1.1" fill="#6fa8dc" opacity="0.7"/>
<rect x="611.1" y="465.7" width="1.1" height="1.1" fill="#7fc97f" opacity="0.7"/>
<rect x="616.8" y="460.8" width="1.1" height="1.1" fill="#6fa8dc" opacity="0.7"/>
<rect x="619.5" y="467.4" width="1.1" height="1.1" fill="#9fc5e8" opacity="0.7"/>
<rect x="622.6" y="465.5" width="1.1" height="1.1" fill="#5aa85a" opacity="0.7"/>
<rect x="621.4" y="461.3" width="1.1" height="1.1" fill="#7fc97f" opacity="0.7"/>
<rect x="635.4" y="464.2" width="1.1" height="1.1" fill="#9fc5e8" opacity="0.7"/>
<rect x="619.8" y="462.7" width="1.1" height="1.1" fill="#6fa8dc" opacity="0.7"/>
<rect x="619.4" y="466.9" width="1.1" height="1.1" fill="#7fc97f" opacity="0.7"/>
<rect x="610.5" y="467.2" width="1.1" height="1.1" fill="#5aa85a" opacity="0.7"/>
<rect x="608.3" y="463.0" width="1.1" height="1.1" fill="#5aa85a" opacity="0.7"/>
<rect x="609.7" y="468.4" width="1.1" height="1.1" fill="#5aa85a" opacity="0.7"/>
<rect x="613.5" y="465.7" width="1.1" height="1.1" fill="#6fa8dc" opacity="0.7"/>
<rect x="623.2" y="464.2" width="1.1" height="1.1" fill="#9fc5e8" opacity="0.7"/>
<rect x="610.5" y="466.8" width="1.1" height="1.1" fill="#9fc5e8" opacity="0.7"/>
<rect x="612.5" y="465.2" width="1.1" height="1.1" fill="#4a86c8" opacity="0.7"/>
<rect x="614.8" y="468.9" width="1.1" height="1.1" fill="#b7d3ee" opacity="0.7"/>
<rect x="614.2" y="463.7" width="1.1" height="1.1" fill="#5aa85a" opacity="0.7"/>
<rect x="621.1" y="465.3" width="1.1" height="1.1" fill="#5aa85a" opacity="0.7"/>
<rect x="618.3" y="461.9" width="1.1" height="1.1" fill="#7fc97f" opacity="0.7"/>
<rect x="617.2" y="461.4" width="1.1" height="1.1" fill="#9fc5e8" opacity="0.7"/>
<rect x="612.4" y="465.3" width="1.1" height="1.1" fill="#5aa85a" opacity="0.7"/>
<rect x="611.7" y="465.9" width="1.1" height="1.1" fill="#5aa85a" opacity="0.7"/>
<rect x="613.2" y="464.0" width="1.1" height="1.1" fill="#b7d3ee" opacity="0.7"/>
<rect x="621.0" y="468.6" width="1.1" height="1.1" fill="#b7d3ee" opacity="0.7"/>
<rect x="628.8" y="465.5" width="1.1" height="1.1" fill="#5aa85a" opacity="0.7"/>
<rect x="622.2" y="469.6" width="1.1" height="1.1" fill="#9fc5e8" opacity="0.7"/>
<rect x="615.3" y="464.3" width="1.1" height="1.1" fill="#9fc5e8" opacity="0.7"/>
<rect x="606.8" y="465.8" width="1.1" height="1.1" fill="#b7d3ee" opacity="0.7"/>
<rect x="605.0" y="460.5" width="1.1" height="1.1" fill="#b7d3ee" opacity="0.7"/>
<rect x="614.6" y="467.2" width="1.1" height="1.1" fill="#b7d3ee" opacity="0.7"/>
<rect x="617.5" y="465.3" width="1.1" height="1.1" fill="#5aa85a" opacity="0.7"/>
<rect x="615.2" y="465.7" width="1.1" height="1.1" fill="#4a86c8" opacity="0.7"/>
<rect x="607.8" y="465.6" width="1.1" height="1.1" fill="#5aa85a" opacity="0.7"/>
<rect x="618.0" y="461.4" width="1.1" height="1.1" fill="#5aa85a" opacity="0.7"/>
<rect x="620.2" y="467.8" width="1.1" height="1.1" fill="#5aa85a" opacity="0.7"/>
<rect x="609.8" y="462.6" width="1.1" height="1.1" fill="#b7d3ee" opacity="0.7"/>
<rect x="617.4" y="464.9" width="1.1" height="1.1" fill="#5aa85a" opacity="0.7"/>
<rect x="622.8" y="467.6" width="1.1" height="1.1" fill="#5aa85a" opacity="0.7"/>
<rect x="624.3" y="466.6" width="1.1" height="1.1" fill="#6fa8dc" opacity="0.7"/>
<rect x="618.3" y="463.2" width="1.1" height="1.1" fill="#4a86c8" opacity="0.7"/>
<rect x="609.2" y="465.3" width="1.1" height="1.1" fill="#4a86c8" opacity="0.7"/>
<rect x="622.0" y="466.0" width="1.1" height="1.1" fill="#5aa85a" opacity="0.7"/>
<rect x="622.4" y="463.5" width="1.1" height="1.1" fill="#7fc97f" opacity="0.7"/>
<rect x="633.1" y="465.9" width="1.1" height="1.1" fill="#4a86c8" opacity="0.7"/>
<rect x="609.6" y="463.7" width="1.1" height="1.1" fill="#5aa85a" opacity="0.7"/>
<rect x="609.8" y="461.2" width="1.1" height="1.1" fill="#7fc97f" opacity="0.7"/>
<rect x="603.7" y="461.8" width="1.1" height="1.1" fill="#9fc5e8" opacity="0.7"/>
<rect x="614.6" y="460.7" width="1.1" height="1.1" fill="#9fc5e8" opacity="0.7"/>
<rect x="621.2" y="466.1" width="1.1" height="1.1" fill="#9fc5e8" opacity="0.7"/>
<rect x="608.2" y="464.7" width="1.1" height="1.1" fill="#9fc5e8" opacity="0.7"/>
<rect x="615.4" y="464.0" width="1.1" height="1.1" fill="#6fa8dc" opacity="0.7"/>
<rect x="618.9" y="463.3" width="1.1" height="1.1" fill="#5aa85a" opacity="0.7"/>
<rect x="623.0" y="463.8" width="1.1" height="1.1" fill="#4a86c8" opacity="0.7"/>
<rect x="617.1" y="464.0" width="1.1" height="1.1" fill="#5aa85a" opacity="0.7"/>
<rect x="617.5" y="464.9" width="1.1" height="1.1" fill="#4a86c8" opacity="0.7"/>
<rect x="614.3" y="465.0" width="1.1" height="1.1" fill="#6fa8dc" opacity="0.7"/>
<rect x="625.0" y="465.4" width="1.1" height="1.1" fill="#9fc5e8" opacity="0.7"/>
<rect x="620.7" y="465.4" width="1.1" height="1.1" fill="#4a86c8" opacity="0.7"/>
<rect x="614.7" y="465.8" width="1.1" height="1.1" fill="#e8e337" opacity="0.7"/>
<rect x="620.5" y="468.2" width="1.1" height="1.1" fill="#f2d024" opacity="0.7"/>
<rect x="617.2" y="465.8" width="1.1" height="1.1" fill="#e8e337" opacity="0.7"/>
<rect x="617.1" y="467.0" width="1.1" height="1.1" fill="#f2d024" opacity="0.7"/>
<rect x="626.1" y="466.9" width="1.1" height="1.1" fill="#f2d024" opacity="0.7"/>
<rect x="616.1" y="466.9" width="1.1" height="1.1" fill="#f2d024" opacity="0.7"/>
<rect x="612.6" y="466.7" width="1.1" height="1.1" fill="#f2d024" opacity="0.7"/>
<rect x="623.1" y="467.7" width="1.1" height="1.1" fill="#5aa85a" opacity="0.7"/>
<rect x="623.9" y="466.0" width="1.1" height="1.1" fill="#e8e337" opacity="0.7"/>
<rect x="616.0" y="465.9" width="1.1" height="1.1" fill="#5aa85a" opacity="0.7"/>
<rect x="621.7" y="466.0" width="1.1" height="1.1" fill="#f2d024" opacity="0.7"/>
<rect x="618.9" y="465.5" width="1.1" height="1.1" fill="#e8e337" opacity="0.7"/>
<rect x="617.2" y="466.5" width="1.1" height="1.1" fill="#f2d024" opacity="0.7"/>
<rect x="619.8" y="465.8" width="1.1" height="1.1" fill="#5aa85a" opacity="0.7"/>
<rect x="621.4" y="466.1" width="1.1" height="1.1" fill="#e8e337" opacity="0.7"/>
<rect x="611.1" y="466.3" width="1.1" height="1.1" fill="#e8e337" opacity="0.7"/>
<rect x="610.8" y="465.8" width="1.1" height="1.1" fill="#5aa85a" opacity="0.7"/>
<rect x="611.3" y="468.1" width="1.1" height="1.1" fill="#5aa85a" opacity="0.7"/>
<rect x="623.7" y="467.5" width="1.1" height="1.1" fill="#e8e337" opacity="0.7"/>
<rect x="607.9" y="467.4" width="1.1" height="1.1" fill="#5aa85a" opacity="0.7"/>
<rect x="622.5" y="465.9" width="1.1" height="1.1" fill="#e8e337" opacity="0.7"/>
<rect x="612.8" y="466.9" width="1.1" height="1.1" fill="#5aa85a" opacity="0.7"/>
<rect x="616.6" y="465.8" width="1.1" height="1.1" fill="#e8e337" opacity="0.7"/>
<rect x="618.1" y="467.2" width="1.1" height="1.1" fill="#5aa85a" opacity="0.7"/>
<rect x="619.3" y="465.1" width="1.1" height="1.1" fill="#f2d024" opacity="0.7"/>
<rect x="617.2" y="467.0" width="1.1" height="1.1" fill="#e8e337" opacity="0.7"/>
<rect x="616.8" y="467.1" width="1.1" height="1.1" fill="#e8e337" opacity="0.7"/>
<rect x="618.2" y="467.4" width="1.1" height="1.1" fill="#5aa85a" opacity="0.7"/>
<rect x="612.3" y="467.7" width="1.1" height="1.1" fill="#5aa85a" opacity="0.7"/>
<rect x="617.4" y="462.9" width="1.1" height="1.1" fill="#f2d024" opacity="0.7"/>
<rect x="613.1" y="466.1" width="1.1" height="1.1" fill="#e8e337" opacity="0.7"/>
<rect x="621.5" y="467.7" width="1.1" height="1.1" fill="#e8e337" opacity="0.7"/>
<rect x="621.8" y="467.3" width="1.1" height="1.1" fill="#f2d024" opacity="0.7"/>
<rect x="614.0" y="466.0" width="1.1" height="1.1" fill="#5aa85a" opacity="0.7"/>
<rect x="616.8" y="466.1" width="1.1" height="1.1" fill="#e8e337" opacity="0.7"/>
<rect x="622.4" y="464.3" width="1.1" height="1.1" fill="#e8e337" opacity="0.7"/>
<rect x="662.6" y="403.4" width="1.1" height="1.1" fill="#f2a024" opacity="0.7"/>
<rect x="661.2" y="403.6" width="1.1" height="1.1" fill="#7fc97f" opacity="0.7"/>
<rect x="666.0" y="404.1" width="1.1" height="1.1" fill="#7fc97f" opacity="0.7"/>
<rect x="666.4" y="403.5" width="1.1" height="1.1" fill="#7fc97f" opacity="0.7"/>
<polyline points="619.5,394.0 621.5,399.0 623.5,402.0 624.6,406.0 625.7,408.5 626.6,413.0 628.2,417.5 629.2,421.0 630.4,423.5 631.2,427.0 632.2,429.1 634.0,433.0 636.5,437.0 638.8,440.4 641.0,442.6 644.5,443.4 648.2,445.0 647.8,447.8 645.4,450.7 647.5,454.0 650.0,456.6 652.0,458.2 655.7,460.0" fill="none" stroke="#111" stroke-width="1.5" stroke-linejoin="round"/>
<line x1="655.70" y1="460.00" x2="655.70" y2="502.40" stroke="#111" stroke-width="1.5" />
<line x1="632.25" y1="429.20" x2="688.90" y2="429.30" stroke="#111" stroke-width="1.5" />
<line x1="580.70" y1="441.30" x2="638.80" y2="441.30" stroke="#111" stroke-width="1.5" />
<circle cx="634.7" cy="461" r="3.3" fill="none" stroke="#111" stroke-width="1.1"/>
<line x1="629.50" y1="461.00" x2="639.90" y2="461.00" stroke="#111" stroke-width="1.0" />
<line x1="634.70" y1="455.80" x2="634.70" y2="466.20" stroke="#111" stroke-width="1.0" />
</g>
<rect x="591.00" y="490.00" width="86.30" height="10.00" fill="#fff" stroke="#888" stroke-width="0.6" fill-opacity="0.92"/>
<text transform="translate(593.00,497.60) scale(1.06,1)" font-size="7.04" font-weight="bold" font-style="normal" fill="#222" >Valid: 05-18 | 00:00</text>
<rect x="580.70" y="394.00" width="108.20" height="108.40" fill="none" stroke="#505050" stroke-width="0.9" />
<rect x="915.60" y="426.60" width="92.20" height="75.80" fill="#fff" stroke="#505050" stroke-width="0.85" />
<text transform="translate(923.10,438.30) scale(1.06,1)" font-size="6.97" font-weight="bold" font-style="normal" fill="#111" >0-3ₖₘ SRH,</text>
<text transform="translate(976.90,438.30) scale(1.06,1)" font-size="6.57" font-weight="bold" font-style="normal" fill="#111" >BWD</text>
<text transform="translate(925.80,450.80) scale(1.06,1)" font-size="7.03" font-weight="bold" font-style="normal" fill="#4a72e6" >90 m²/s²</text>
<text transform="translate(975.50,450.80) scale(1.06,1)" font-size="7.00" font-weight="bold" font-style="normal" fill="#4a72e6" >29 kt</text>
<text transform="translate(923.10,463.00) scale(1.06,1)" font-size="6.97" font-weight="bold" font-style="normal" fill="#111" >0-6ₖₘ SRH,</text>
<text transform="translate(976.90,463.00) scale(1.06,1)" font-size="6.57" font-weight="bold" font-style="normal" fill="#111" >BWD</text>
<text transform="translate(923.40,474.70) scale(1.06,1)" font-size="6.99" font-weight="bold" font-style="normal" fill="#4a72e6" >187 m²/s²</text>
<text transform="translate(975.50,474.70) scale(1.06,1)" font-size="7.00" font-weight="bold" font-style="normal" fill="#4a72e6" >50 kt</text>
<text transform="translate(920.30,487.50) scale(1.06,1)" font-size="6.73" font-weight="bold" font-style="normal" fill="#111" >SCP</text>
<text transform="translate(943.40,487.50) scale(1.06,1)" font-size="6.72" font-weight="bold" font-style="normal" fill="#111" >STP</text>
<text transform="translate(967.50,486.60) scale(1.06,1)" font-size="6.68" font-weight="bold" font-style="normal" fill="#111" >EHI</text>
<text transform="translate(990.60,486.60) scale(1.06,1)" font-size="6.68" font-weight="bold" font-style="normal" fill="#111" >EHI</text>
<text transform="translate(974.20,491.40) scale(1.06,1)" font-size="3.70" text-anchor="middle" font-weight="bold" font-style="normal" fill="#222" >0–1km</text>
<text transform="translate(997.30,491.40) scale(1.06,1)" font-size="3.70" text-anchor="middle" font-weight="bold" font-style="normal" fill="#222" >0–3km</text>
<text transform="translate(928.10,497.60) scale(1.06,1)" font-size="6.50" text-anchor="middle" font-weight="bold" font-style="normal" fill="#d9534f" >---</text>
<text transform="translate(951.30,497.60) scale(1.06,1)" font-size="6.50" text-anchor="middle" font-weight="bold" font-style="normal" fill="#d9534f" >---</text>
<text transform="translate(974.70,498.60) scale(1.06,1)" font-size="6.60" text-anchor="middle" font-weight="bold" font-style="normal" fill="#ff7f2a" >0</text>
<text transform="translate(997.20,498.60) scale(1.06,1)" font-size="6.60" text-anchor="middle" font-weight="bold" font-style="normal" fill="#ff7f2a" >0</text>
<rect x="580.60" y="41.25" width="427.20" height="461.15" fill="none" stroke="#505050" stroke-width="0.9" />
<rect x="13.50" y="502.40" width="373.10" height="97.90" fill="none" stroke="#505050" stroke-width="0.9" />
<text transform="translate(55.50,518.75) scale(1.06,1)" font-size="8.00" text-anchor="start" font-weight="bold" font-style="normal" fill="#111" >SR-ECAPE</text>
<text transform="translate(124.20,518.75) scale(1.06,1)" font-size="8.00" text-anchor="start" font-weight="bold" font-style="normal" fill="#111" >CAPE</text>
<text transform="translate(177.70,518.75) scale(1.06,1)" font-size="8.00" text-anchor="start" font-weight="bold" font-style="normal" fill="#111" >6CAPE</text>
<text transform="translate(236.30,518.75) scale(1.06,1)" font-size="8.00" text-anchor="start" font-weight="bold" font-style="normal" fill="#111" >3CAPE</text>
<text transform="translate(297.70,518.75) scale(1.06,1)" font-size="8.00" text-anchor="start" font-weight="bold" font-style="normal" fill="#111" >CIN</text>
<text transform="translate(350.80,518.75) scale(1.06,1)" font-size="8.00" text-anchor="start" font-weight="bold" font-style="normal" fill="#111" >LCL</text>
<text transform="translate(19.20,535.10) scale(1.06,1)" font-size="8.00" text-anchor="start" font-weight="bold" font-style="normal" fill="#111" >SB:</text>
<text transform="translate(55.40,535.10) scale(1.06,1)" font-size="8.00" text-anchor="start" font-weight="bold" font-style="normal" fill="#b22a2a" >--- J/kg</text>
<text transform="translate(115.20,535.10) scale(1.06,1)" font-size="8.00" text-anchor="start" font-weight="bold" font-style="normal" fill="#ff4a0c" >0 J/kg</text>
<text transform="translate(175.00,535.10) scale(1.06,1)" font-size="8.00" text-anchor="start" font-weight="bold" font-style="normal" fill="#ff4a0c" >0 J/kg</text>
<text transform="translate(233.60,535.10) scale(1.06,1)" font-size="8.00" text-anchor="start" font-weight="bold" font-style="normal" fill="#ff4a0c" >0 J/kg</text>
<text transform="translate(289.80,535.10) scale(1.06,1)" font-size="8.00" text-anchor="start" font-weight="bold" font-style="normal" fill="#ff4a0c" >0 J/kg</text>
<text transform="translate(344.90,535.10) scale(1.06,1)" font-size="8.00" text-anchor="start" font-weight="bold" font-style="normal" fill="#ff4a0c" >2382 m</text>
<text transform="translate(19.20,551.60) scale(1.06,1)" font-size="8.00" text-anchor="start" font-weight="bold" font-style="normal" fill="#111" >MU:</text>
<text transform="translate(55.40,551.60) scale(1.06,1)" font-size="8.00" text-anchor="start" font-weight="bold" font-style="normal" fill="#b22a2a" >--- J/kg</text>
<text transform="translate(115.20,551.60) scale(1.06,1)" font-size="8.00" text-anchor="start" font-weight="bold" font-style="normal" fill="#ff4a0c" >0 J/kg</text>
<text transform="translate(175.00,551.60) scale(1.06,1)" font-size="8.00" text-anchor="start" font-weight="bold" font-style="normal" fill="#ff4a0c" >0 J/kg</text>
<text transform="translate(233.60,551.60) scale(1.06,1)" font-size="8.00" text-anchor="start" font-weight="bold" font-style="normal" fill="#ff4a0c" >0 J/kg</text>
<text transform="translate(289.80,551.60) scale(1.06,1)" font-size="8.00" text-anchor="start" font-weight="bold" font-style="normal" fill="#ff4a0c" >0 J/kg</text>
<text transform="translate(344.90,551.60) scale(1.06,1)" font-size="8.00" text-anchor="start" font-weight="bold" font-style="normal" fill="#ff4a0c" >3986 m</text>
<text transform="translate(19.20,567.50) scale(1.06,1)" font-size="8.00" text-anchor="start" font-weight="bold" font-style="normal" fill="#111" >ML:</text>
<text transform="translate(55.40,567.50) scale(1.06,1)" font-size="8.00" text-anchor="start" font-weight="bold" font-style="normal" fill="#b22a2a" >--- J/kg</text>
<text transform="translate(115.20,567.50) scale(1.06,1)" font-size="8.00" text-anchor="start" font-weight="bold" font-style="normal" fill="#ff4a0c" >0 J/kg</text>
<text transform="translate(175.00,567.50) scale(1.06,1)" font-size="8.00" text-anchor="start" font-weight="bold" font-style="normal" fill="#ff4a0c" >0 J/kg</text>
<text transform="translate(233.60,567.50) scale(1.06,1)" font-size="8.00" text-anchor="start" font-weight="bold" font-style="normal" fill="#ff4a0c" >0 J/kg</text>
<text transform="translate(289.80,567.50) scale(1.06,1)" font-size="8.00" text-anchor="start" font-weight="bold" font-style="normal" fill="#ff4a0c" >0 J/kg</text>
<text transform="translate(344.90,567.50) scale(1.06,1)" font-size="8.00" text-anchor="start" font-weight="bold" font-style="normal" fill="#ff4a0c" >2663 m</text>
<text transform="translate(19.20,581.60) scale(1.06,1)" font-size="8.00" text-anchor="start" font-weight="bold" font-style="normal" fill="#111" >DCAPE:</text>
<text transform="translate(60.00,581.60) scale(1.06,1)" font-size="8.00" text-anchor="start" font-weight="bold" font-style="normal" fill="#94b4f2" >790 J/kg</text>
<text transform="translate(19.20,592.80) scale(1.06,1)" font-size="8.00" text-anchor="start" font-weight="bold" font-style="normal" fill="#111" >DCIN:</text>
<text transform="translate(60.00,592.80) scale(1.06,1)" font-size="8.00" text-anchor="start" font-weight="bold" font-style="normal" fill="#94b4f2" >0 J/kg</text>
<text transform="translate(120.00,589.20) scale(1.06,1)" font-size="8.00" text-anchor="start" font-weight="bold" font-style="normal" fill="#111" >MUNCAPE:</text>
<text transform="translate(173.80,589.20) scale(1.06,1)" font-size="8.00" text-anchor="start" font-weight="bold" font-style="normal" fill="#e07a7a" >0.0</text>
<text transform="translate(207.00,589.20) scale(1.06,1)" font-size="8.00" text-anchor="start" font-weight="bold" font-style="normal" fill="#111" >Γ₀₋₃:</text>
<text transform="translate(234.40,589.20) scale(1.06,1)" font-size="8.00" text-anchor="start" font-weight="bold" font-style="normal" fill="#9a5a22" >7 Δ°C/km</text>
<text transform="translate(289.80,589.20) scale(1.06,1)" font-size="8.00" text-anchor="start" font-weight="bold" font-style="normal" fill="#111" >Γ₃₋₆:</text>
<text transform="translate(320.30,589.20) scale(1.06,1)" font-size="8.00" text-anchor="start" font-weight="bold" font-style="normal" fill="#9a5a22" >7 Δ°C/km</text>
<circle cx="32.2" cy="616.6" r="13.5" fill="#e7ecf6" stroke="#85889a" stroke-width="0.8"/>
<text transform="translate(19.40,615.80) scale(0.84,1)" font-size="5.50" text-anchor="start" font-weight="bold" font-style="normal" fill="#111" >SOUNDER</text>
<text transform="translate(32.60,621.70) scale(1.0,1)" font-size="8.10" text-anchor="start" font-weight="normal" font-style="normal" fill="#55a855" opacity="0.85">P</text>
<text transform="translate(38.60,621.80) scale(1.0,1)" font-size="8.60" text-anchor="start" font-weight="bold" font-style="normal" fill="#e03535" >Y</text>
<text transform="translate(33.50,627.60) scale(1.0,1)" font-size="3.00" text-anchor="middle" font-weight="normal" font-style="normal" fill="#7a7a8a" >VERTICAL</text>
<text transform="translate(56.25,613.90) scale(1.06,1)" font-size="10.88" font-weight="bold" font-style="normal" fill="#a9c2f5" >SOUNDERPY VERTICAL PROFILE ANALYSIS TOOL</text>
<text transform="translate(86.50,624.80) scale(1.06,1)" font-size="8.17" font-weight="bold" font-style="normal" fill="#a9c2f5" >(C) KYLE J GILLETT | sounderpysoundings.anvil.app</text>
<rect x="386.60" y="502.40" width="137.20" height="124.90" fill="none" stroke="#505050" stroke-width="0.9" />
<text transform="translate(434.90,519.20) scale(1.06,1)" font-size="8.00" text-anchor="start" font-weight="bold" font-style="normal" fill="#111" >RH(%)</text>
<text transform="translate(486.70,519.20) scale(1.06,1)" font-size="8.00" text-anchor="start" font-weight="bold" font-style="normal" fill="#111" >ω</text>
<text transform="translate(395.80,535.40) scale(1.06,1)" font-size="8.00" text-anchor="start" font-weight="bold" font-style="normal" fill="#111" >0-.5ₖₘ:</text>
<line x1="395.80" y1="525.80" x2="409.20" y2="525.80" stroke="#111" stroke-width="0.7" />
<text transform="translate(436.70,535.40) scale(1.06,1)" font-size="8.00" text-anchor="start" font-weight="bold" font-style="normal" fill="#2f8f2f" >28 %</text>
<text transform="translate(468.90,535.40) scale(1.06,1)" font-size="8.00" text-anchor="start" font-weight="bold" font-style="normal" fill="#2f8f2f" >5.2 g/kg</text>
<text transform="translate(395.80,551.60) scale(1.06,1)" font-size="8.00" text-anchor="start" font-weight="bold" font-style="normal" fill="#111" >0-1ₖₘ:</text>
<line x1="395.80" y1="542.00" x2="409.20" y2="542.00" stroke="#111" stroke-width="0.7" />
<text transform="translate(436.70,551.60) scale(1.06,1)" font-size="8.00" text-anchor="start" font-weight="bold" font-style="normal" fill="#3f9c3f" >31 %</text>
<text transform="translate(468.90,551.60) scale(1.06,1)" font-size="8.00" text-anchor="start" font-weight="bold" font-style="normal" fill="#3f9c3f" >5.1 g/kg</text>
<text transform="translate(395.80,568.00) scale(1.06,1)" font-size="8.00" text-anchor="start" font-weight="bold" font-style="normal" fill="#111" >1-3ₖₘ:</text>
<line x1="395.80" y1="558.40" x2="409.20" y2="558.40" stroke="#111" stroke-width="0.7" />
<text transform="translate(436.70,568.00) scale(1.06,1)" font-size="8.00" text-anchor="start" font-weight="bold" font-style="normal" fill="#55a955" >37 %</text>
<text transform="translate(468.90,568.00) scale(1.06,1)" font-size="8.00" text-anchor="start" font-weight="bold" font-style="normal" fill="#55a955" >3.7 g/kg</text>
<text transform="translate(395.80,584.20) scale(1.06,1)" font-size="8.00" text-anchor="start" font-weight="bold" font-style="normal" fill="#111" >3-6ₖₘ:</text>
<line x1="395.80" y1="574.60" x2="409.20" y2="574.60" stroke="#111" stroke-width="0.7" />
<text transform="translate(436.70,584.20) scale(1.06,1)" font-size="8.00" text-anchor="start" font-weight="bold" font-style="normal" fill="#6eb86e" >52 %</text>
<text transform="translate(468.90,584.20) scale(1.06,1)" font-size="8.00" text-anchor="start" font-weight="bold" font-style="normal" fill="#6eb86e" >2.3 g/kg</text>
<text transform="translate(395.80,600.60) scale(1.06,1)" font-size="8.00" text-anchor="start" font-weight="bold" font-style="normal" fill="#111" >6-9ₖₘ:</text>
<line x1="395.80" y1="591.00" x2="409.20" y2="591.00" stroke="#111" stroke-width="0.7" />
<text transform="translate(436.70,600.60) scale(1.06,1)" font-size="8.00" text-anchor="start" font-weight="bold" font-style="normal" fill="#8cc88c" >21 %</text>
<text transform="translate(468.90,600.60) scale(1.06,1)" font-size="8.00" text-anchor="start" font-weight="bold" font-style="normal" fill="#8cc88c" >0.2 g/kg</text>
<text transform="translate(395.80,612.50) scale(1.06,1)" font-size="6.00" text-anchor="start" font-weight="bold" font-style="normal" fill="#111" >PWAT:</text>
<text transform="translate(425.00,612.50) scale(1.06,1)" font-size="6.00" text-anchor="start" font-weight="bold" font-style="normal" fill="#2f8f2f" >0.714 in</text>
<text transform="translate(466.00,612.50) scale(1.06,1)" font-size="6.00" text-anchor="start" font-weight="bold" font-style="normal" fill="#111" >WB:</text>
<text transform="translate(491.20,612.50) scale(1.06,1)" font-size="6.00" text-anchor="start" font-weight="bold" font-style="normal" fill="#2f8f2f" >14 °C</text>
<text transform="translate(395.80,623.10) scale(1.06,1)" font-size="6.00" text-anchor="start" font-weight="bold" font-style="normal" fill="#111" >FRZ:</text>
<text transform="translate(428.20,623.10) scale(1.06,1)" font-size="6.00" text-anchor="start" font-weight="bold" font-style="normal" fill="#7aa3f0" >3400m</text>
<text transform="translate(463.30,623.10) scale(1.06,1)" font-size="6.00" text-anchor="start" font-weight="bold" font-style="normal" fill="#111" >WB0:</text>
<text transform="translate(488.50,623.10) scale(1.06,1)" font-size="6.00" text-anchor="start" font-weight="bold" font-style="normal" fill="#7aa3f0" >2900m</text>
<rect x="523.80" y="502.40" width="243.70" height="124.90" fill="none" stroke="#505050" stroke-width="0.9" />
<text transform="translate(574.60,518.90) scale(1.06,1)" font-size="8.00" text-anchor="start" font-weight="bold" font-style="normal" fill="#333" >BWD</text>
<text transform="translate(618.50,518.90) scale(1.06,1)" font-size="8.00" text-anchor="start" font-weight="bold" font-style="normal" fill="#333" >SRH</text>
<text transform="translate(660.20,518.90) scale(1.06,1)" font-size="8.00" text-anchor="start" font-weight="bold" font-style="normal" fill="#333" >SRW</text>
<text transform="translate(691.90,518.90) scale(1.06,1)" font-size="8.00" text-anchor="start" font-weight="bold" font-style="normal" fill="#333" >SWζ%</text>
<text transform="translate(733.80,518.90) scale(1.06,1)" font-size="8.00" text-anchor="start" font-weight="bold" font-style="normal" fill="#333" >SWζ</text>
<text transform="translate(532.20,535.90) scale(1.06,1)" font-size="8.00" text-anchor="start" font-weight="bold" font-style="normal" fill="#111" >0-.5ₖₘ:</text>
<text transform="translate(572.00,535.90) scale(1.06,1)" font-size="7.90" text-anchor="start" font-weight="bold" font-style="normal" fill="#6d9df0" >2 kt</text>
<text transform="translate(605.80,535.90) scale(1.06,1)" font-size="7.90" text-anchor="start" font-weight="bold" font-style="normal" fill="#6d9df0" >21 m²/s²</text>
<text transform="translate(660.20,535.90) scale(1.06,1)" font-size="7.90" text-anchor="start" font-weight="bold" font-style="normal" fill="#6d9df0" >47 kt</text>
<text transform="translate(699.00,535.90) scale(1.06,1)" font-size="7.90" text-anchor="start" font-weight="bold" font-style="normal" fill="#6d9df0" >57</text>
<text transform="translate(730.80,535.90) scale(1.06,1)" font-size="7.90" text-anchor="start" font-weight="bold" font-style="normal" fill="#6d9df0" >0.002</text>
<text transform="translate(532.20,551.90) scale(1.06,1)" font-size="8.00" text-anchor="start" font-weight="bold" font-style="normal" fill="#111" >0-1ₖₘ:</text>
<text transform="translate(572.00,551.90) scale(1.06,1)" font-size="7.90" text-anchor="start" font-weight="bold" font-style="normal" fill="#8572ea" >3 kt</text>
<text transform="translate(605.80,551.90) scale(1.06,1)" font-size="7.90" text-anchor="start" font-weight="bold" font-style="normal" fill="#8572ea" >36 m²/s²</text>
<text transform="translate(660.20,551.90) scale(1.06,1)" font-size="7.90" text-anchor="start" font-weight="bold" font-style="normal" fill="#8572ea" >47 kt</text>
<text transform="translate(699.00,551.90) scale(1.06,1)" font-size="7.90" text-anchor="start" font-weight="bold" font-style="normal" fill="#8572ea" >64</text>
<text transform="translate(730.80,551.90) scale(1.06,1)" font-size="7.90" text-anchor="start" font-weight="bold" font-style="normal" fill="#8572ea" >0.003</text>
<text transform="translate(532.20,568.40) scale(1.06,1)" font-size="8.00" text-anchor="start" font-weight="bold" font-style="normal" fill="#111" >1-3ₖₘ:</text>
<text transform="translate(572.00,568.40) scale(1.06,1)" font-size="7.90" text-anchor="start" font-weight="bold" font-style="normal" fill="#4a78e8" >30 kt</text>
<text transform="translate(605.80,568.40) scale(1.06,1)" font-size="7.90" text-anchor="start" font-weight="bold" font-style="normal" fill="#4a78e8" >54 m²/s²</text>
<text transform="translate(660.20,568.40) scale(1.06,1)" font-size="7.90" text-anchor="start" font-weight="bold" font-style="normal" fill="#4a78e8" >34 kt</text>
<text transform="translate(699.00,568.40) scale(1.06,1)" font-size="7.90" text-anchor="start" font-weight="bold" font-style="normal" fill="#4a78e8" >51</text>
<text transform="translate(730.80,568.40) scale(1.06,1)" font-size="7.90" text-anchor="start" font-weight="bold" font-style="normal" fill="#4a78e8" >0.005</text>
<text transform="translate(532.20,584.40) scale(1.06,1)" font-size="8.00" text-anchor="start" font-weight="bold" font-style="normal" fill="#111" >3-6ₖₘ:</text>
<text transform="translate(572.00,584.40) scale(1.06,1)" font-size="7.90" text-anchor="start" font-weight="bold" font-style="normal" fill="#0808c8" >21 kt</text>
<text transform="translate(605.80,584.40) scale(1.06,1)" font-size="7.90" text-anchor="start" font-weight="bold" font-style="normal" fill="#0808c8" >96 m²/s²</text>
<text transform="translate(660.20,584.40) scale(1.06,1)" font-size="7.90" text-anchor="start" font-weight="bold" font-style="normal" fill="#0808c8" >16 kt</text>
<text transform="translate(699.00,584.40) scale(1.06,1)" font-size="7.90" text-anchor="start" font-weight="bold" font-style="normal" fill="#0808c8" >73</text>
<text transform="translate(730.80,584.40) scale(1.06,1)" font-size="7.90" text-anchor="start" font-weight="bold" font-style="normal" fill="#0808c8" >0.005</text>
<text transform="translate(532.20,600.60) scale(1.06,1)" font-size="8.00" text-anchor="start" font-weight="bold" font-style="normal" fill="#111" >6-9ₖₘ:</text>
<text transform="translate(572.00,600.60) scale(1.06,1)" font-size="7.90" text-anchor="start" font-weight="bold" font-style="normal" fill="#06068c" >18 kt</text>
<text transform="translate(605.80,600.60) scale(1.06,1)" font-size="7.90" text-anchor="start" font-weight="bold" font-style="normal" fill="#06068c" >76 m²/s²</text>
<text transform="translate(660.20,600.60) scale(1.06,1)" font-size="7.90" text-anchor="start" font-weight="bold" font-style="normal" fill="#06068c" >20 kt</text>
<text transform="translate(699.00,600.60) scale(1.06,1)" font-size="7.90" text-anchor="start" font-weight="bold" font-style="normal" fill="#06068c" >59</text>
<text transform="translate(730.80,600.60) scale(1.06,1)" font-size="7.90" text-anchor="start" font-weight="bold" font-style="normal" fill="#06068c" >0.004</text>
<text transform="translate(532.20,616.60) scale(1.06,1)" font-size="8.00" text-anchor="start" font-weight="bold" font-style="normal" fill="#111" >EIL:</text>
<text transform="translate(572.00,616.60) scale(1.06,1)" font-size="7.90" text-anchor="start" font-weight="bold" font-style="normal" fill="#06068c" >--- kt</text>
<text transform="translate(605.80,616.60) scale(1.06,1)" font-size="7.90" text-anchor="start" font-weight="bold" font-style="normal" fill="#06068c" >--- m²/s²</text>
<text transform="translate(660.20,616.60) scale(1.06,1)" font-size="7.90" text-anchor="start" font-weight="bold" font-style="normal" fill="#06068c" >--- kt</text>
<text transform="translate(699.00,616.60) scale(1.06,1)" font-size="7.90" text-anchor="start" font-weight="bold" font-style="normal" fill="#06068c" >nan</text>
<text transform="translate(730.80,616.60) scale(1.06,1)" font-size="7.90" text-anchor="start" font-weight="bold" font-style="normal" fill="#06068c" >nan</text>
<defs><clipPath id="p1"><rect x="767.5" y="502.4" width="59.700000000000045" height="125.0"/></clipPath><clipPath id="p2"><rect x="827.2" y="502.4" width="60.09999999999991" height="125.0"/></clipPath><clipPath id="p3"><rect x="887.3" y="502.4" width="60.200000000000045" height="125.0"/></clipPath></defs>
<g clip-path="url(#p1)">
<polygon points="767.5,502.4 804.9,503.0 790.6,508.0 767.5,512.2 740.0,514.5 767.5,516.8 799.1,519.7 767.5,521.8 740.0,523.5 767.5,525.3 803.8,527.4 807.6,531.3 824.0,535.9 772.5,540.2 784.7,548.3 797.2,552.3 778.9,557.4 767.5,564.3 740.0,572.0 767.5,579.7 804.4,581.5 807.0,586.0 807.0,586.0 782.6,590.0 777.8,594.0 820.3,598.2 791.6,602.5 824.6,610.5 767.5,618.2 750.0,620.0 767.5,622.0 770.0,623.5 770.4,627.4 767.5,627.4" fill="#dfe7f9"/>
<line x1="767.50" y1="606.90" x2="827.20" y2="606.90" stroke="#b8b8b8" stroke-width="0.7" />
<line x1="767.50" y1="586.20" x2="827.20" y2="586.20" stroke="#b8b8b8" stroke-width="0.7" />
<line x1="767.50" y1="565.50" x2="827.20" y2="565.50" stroke="#b8b8b8" stroke-width="0.7" />
<line x1="767.50" y1="544.80" x2="827.20" y2="544.80" stroke="#b8b8b8" stroke-width="0.7" />
<line x1="767.50" y1="524.10" x2="827.20" y2="524.10" stroke="#b8b8b8" stroke-width="0.7" />
<polyline points="804.9,503.0 790.6,508.0 767.5,512.2 740.0,514.5 767.5,516.8 799.1,519.7 767.5,521.8 740.0,523.5 767.5,525.3 803.8,527.4 807.6,531.3 824.0,535.9 772.5,540.2 784.7,548.3 797.2,552.3 778.9,557.4 767.5,564.3 740.0,572.0 767.5,579.7 804.4,581.5 807.0,586.0" fill="none" stroke="#fb1010" stroke-width="1.9" stroke-linejoin="round"/>
<polyline points="807.0,586.0 782.6,590.0 777.8,594.0 820.3,598.2 791.6,602.5 824.6,610.5 767.5,618.2 750.0,620.0 767.5,622.0 770.0,623.5 770.4,627.4" fill="none" stroke="#8b0d93" stroke-width="1.9" stroke-linejoin="round"/>
</g>
<text transform="translate(771.20,512.20) scale(1.06,1)" font-size="5.41" font-weight="bold" font-style="normal" fill="#111" >Streamwiseness</text>
<text transform="translate(786.10,519.10) scale(1.06,1)" font-size="5.38" font-weight="bold" font-style="normal" fill="#111" >of ζ (%)</text>
<text transform="translate(774.10,544.20) scale(1.06,1)" font-size="5.28" font-weight="bold" font-style="normal" fill="#111" >2 km</text>
<text transform="translate(774.10,564.90) scale(1.06,1)" font-size="5.33" font-weight="bold" font-style="normal" fill="#111" >1.5 km</text>
<text transform="translate(774.10,585.60) scale(1.06,1)" font-size="5.28" font-weight="bold" font-style="normal" fill="#111" >1 km</text>
<text transform="translate(774.10,606.30) scale(1.06,1)" font-size="5.27" font-weight="bold" font-style="normal" fill="#111" >.5 km</text>
<text transform="translate(776.80,625.40) scale(1.06,1)" font-size="5.60" text-anchor="middle" font-weight="normal" font-style="italic" fill="#8a8a8a" >50</text>
<line x1="776.80" y1="627.40" x2="776.80" y2="626.00" stroke="#333" stroke-width="0.5" />
<text transform="translate(796.20,625.40) scale(1.06,1)" font-size="5.60" text-anchor="middle" font-weight="normal" font-style="italic" fill="#8a8a8a" >70</text>
<line x1="796.20" y1="627.40" x2="796.20" y2="626.00" stroke="#333" stroke-width="0.5" />
<text transform="translate(815.60,625.40) scale(1.06,1)" font-size="5.60" text-anchor="middle" font-weight="normal" font-style="italic" fill="#8a8a8a" >90</text>
<line x1="815.60" y1="627.40" x2="815.60" y2="626.00" stroke="#333" stroke-width="0.5" />
<g clip-path="url(#p2)">
<polygon points="827.2,502.4 843.2,503.0 847.5,506.9 837.9,511.2 831.6,515.9 830.0,522.8 832.6,530.8 829.4,536.1 834.2,544.1 827.8,548.3 837.9,552.1 850.2,564.8 845.4,568.8 833.7,573.6 832.1,577.3 843.2,581.8 839.0,586.3 831.0,590.6 830.0,598.0 834.8,607.0 832.6,612.3 828.9,615.5 828.9,627.4 827.2,627.4" fill="#e9e9e9"/>
<polygon points="827.2,502.4 840.6,503.0 841.1,506.9 828.4,513.8 829.4,522.8 832.1,530.8 828.4,536.1 830.5,544.6 827.5,548.3 834.8,552.1 833.2,559.5 835.8,564.8 828.4,568.3 828.9,577.3 839.5,581.8 836.9,586.3 829.4,590.0 828.9,598.0 833.7,607.0 831.6,612.3 827.8,615.5 827.8,627.4 827.2,627.4" fill="#f4dfbd"/>
<line x1="827.20" y1="606.90" x2="887.30" y2="606.90" stroke="#b8b8b8" stroke-width="0.7" />
<line x1="827.20" y1="586.20" x2="887.30" y2="586.20" stroke="#b8b8b8" stroke-width="0.7" />
<line x1="827.20" y1="565.50" x2="887.30" y2="565.50" stroke="#b8b8b8" stroke-width="0.7" />
<line x1="827.20" y1="544.80" x2="887.30" y2="544.80" stroke="#b8b8b8" stroke-width="0.7" />
<line x1="827.20" y1="524.10" x2="887.30" y2="524.10" stroke="#b8b8b8" stroke-width="0.7" />
<polyline points="843.2,503.0 847.5,506.9 837.9,511.2 831.6,515.9 830.0,522.8 832.6,530.8 829.4,536.1 834.2,544.1 827.8,548.3 837.9,552.1 850.2,564.8 845.4,568.8 833.7,573.6 832.1,577.3 843.2,581.8 839.0,586.3 831.0,590.6 830.0,598.0 834.8,607.0 832.6,612.3 828.9,615.5 828.9,627.4" fill="none" stroke="#8e8e8e" stroke-width="1.9" stroke-linejoin="round"/>
<polyline points="840.6,503.0 841.1,506.9 828.4,513.8 829.4,522.8 832.1,530.8 828.4,536.1 830.5,544.6 827.5,548.3 834.8,552.1 833.2,559.5 835.8,564.8 828.4,568.3 828.9,577.3 839.5,581.8 836.9,586.3 829.4,590.0 828.9,598.0 833.7,607.0 831.6,612.3 827.8,615.5 827.8,627.4" fill="none" stroke="#f5a81c" stroke-width="1.4" stroke-linejoin="round"/>
</g>
<text transform="translate(857.60,515.20) scale(1.06,1)" font-size="6.20" text-anchor="middle" font-weight="bold" font-style="normal" fill="#111" >Total ζ &amp;</text>
<text transform="translate(831.30,522.60) scale(1.06,1)" font-size="6.52" font-weight="bold" font-style="normal" fill="#111" >Streamwise ζ</text>
<text transform="translate(847.00,529.50) scale(1.06,1)" font-size="6.15" font-weight="bold" font-style="normal" fill="#111" >(/sec)</text>
<text transform="translate(837.60,625.40) scale(1.06,1)" font-size="5.60" text-anchor="middle" font-weight="normal" font-style="italic" fill="#8a8a8a" >.01</text>
<line x1="838.60" y1="627.40" x2="838.60" y2="626.00" stroke="#333" stroke-width="0.5" />
<text transform="translate(857.60,625.40) scale(1.06,1)" font-size="5.60" text-anchor="middle" font-weight="normal" font-style="italic" fill="#8a8a8a" >.03</text>
<line x1="858.60" y1="627.40" x2="858.60" y2="626.00" stroke="#333" stroke-width="0.5" />
<text transform="translate(877.80,625.40) scale(1.06,1)" font-size="5.60" text-anchor="middle" font-weight="normal" font-style="italic" fill="#8a8a8a" >.05</text>
<line x1="878.80" y1="627.40" x2="878.80" y2="626.00" stroke="#333" stroke-width="0.5" />
<g clip-path="url(#p3)">
<polygon points="887.3,502.4 903.2,503.0 907.0,506.9 914.4,513.3 917.1,526.6 919.4,536.1 916.0,546.8 916.0,551.5 924.5,561.1 933.0,567.5 935.1,568.8 939.4,573.0 939.4,577.3 945.5,586.3 945.5,586.3 947.0,592.2 947.4,598.0 947.0,603.3 944.9,607.0 944.7,613.9 942.0,627.4 887.3,627.4" fill="#dfe7f9"/>
<line x1="887.30" y1="606.90" x2="947.50" y2="606.90" stroke="#b8b8b8" stroke-width="0.7" />
<line x1="887.30" y1="586.20" x2="947.50" y2="586.20" stroke="#b8b8b8" stroke-width="0.7" />
<line x1="887.30" y1="565.50" x2="947.50" y2="565.50" stroke="#b8b8b8" stroke-width="0.7" />
<line x1="887.30" y1="544.80" x2="947.50" y2="544.80" stroke="#b8b8b8" stroke-width="0.7" />
<line x1="887.30" y1="524.10" x2="947.50" y2="524.10" stroke="#b8b8b8" stroke-width="0.7" />
<polyline points="903.2,503.0 907.0,506.9 914.4,513.3 917.1,526.6 919.4,536.1 916.0,546.8 916.0,551.5 924.5,561.1 933.0,567.5 935.1,568.8 939.4,573.0 939.4,577.3 945.5,586.3" fill="none" stroke="#fb2a2a" stroke-width="1.95" stroke-linejoin="round"/>
<polyline points="945.5,586.3 947.0,592.2 947.4,598.0 947.0,603.3 944.9,607.0 944.7,613.9 942.0,627.4" fill="none" stroke="#8b1d9b" stroke-width="2.0" stroke-linejoin="round"/>
</g>
<text transform="translate(888.40,517.30) scale(1.06,1)" font-size="6.45" font-weight="bold" font-style="normal" fill="#111" >Storm Relative</text>
<text transform="translate(896.90,524.20) scale(1.06,1)" font-size="6.48" font-weight="bold" font-style="normal" fill="#111" >Wind (kts)</text>
<text transform="translate(947.60,528.90) scale(1.06,1)" font-size="5.00" text-anchor="end" font-weight="bold" font-style="normal" fill="#222" >-LCL-</text>
<text transform="translate(902.20,625.40) scale(1.06,1)" font-size="5.60" text-anchor="middle" font-weight="normal" font-style="italic" fill="#8a8a8a" >20</text>
<line x1="902.20" y1="627.40" x2="902.20" y2="626.00" stroke="#333" stroke-width="0.5" />
<text transform="translate(917.60,625.40) scale(1.06,1)" font-size="5.60" text-anchor="middle" font-weight="normal" font-style="italic" fill="#8a8a8a" >30</text>
<line x1="917.60" y1="627.40" x2="917.60" y2="626.00" stroke="#333" stroke-width="0.5" />
<text transform="translate(932.80,625.40) scale(1.06,1)" font-size="5.60" text-anchor="middle" font-weight="normal" font-style="italic" fill="#8a8a8a" >40</text>
<line x1="932.80" y1="627.40" x2="932.80" y2="626.00" stroke="#333" stroke-width="0.5" />
<line x1="947.50" y1="606.90" x2="1007.90" y2="606.90" stroke="#b8b8b8" stroke-width="0.7" />
<line x1="947.50" y1="586.20" x2="1007.90" y2="586.20" stroke="#b8b8b8" stroke-width="0.7" />
<line x1="947.50" y1="565.50" x2="1007.90" y2="565.50" stroke="#b8b8b8" stroke-width="0.7" />
<line x1="947.50" y1="544.80" x2="1007.90" y2="544.80" stroke="#b8b8b8" stroke-width="0.7" />
<line x1="947.50" y1="524.10" x2="1007.90" y2="524.10" stroke="#b8b8b8" stroke-width="0.7" />
<line x1="977.20" y1="502.40" x2="977.20" y2="627.40" stroke="#6a9cf0" stroke-width="0.8" stroke-dasharray="0.9,1.3"/>
<text transform="translate(959.30,515.40) scale(1.06,1)" font-size="6.36" font-weight="bold" font-style="normal" fill="#111" >Stepwise</text>
<text transform="translate(955.80,523.10) scale(1.06,1)" font-size="6.52" font-weight="bold" font-style="normal" fill="#111" >CIN &amp; CAPE</text>
<text transform="translate(968.00,530.10) scale(1.06,1)" font-size="6.19" font-weight="bold" font-style="normal" fill="#111" >(J/kg)</text>
<text transform="translate(957.4,620.8) rotate(-45) scale(1.04,1)" font-size="6.2" font-style="italic" fill="#6e6e6e" text-anchor="middle" dy="2.2">-200</text>
<line x1="957.40" y1="627.40" x2="957.40" y2="626.00" stroke="#333" stroke-width="0.5" />
<text transform="translate(967.5,620.8) rotate(-45) scale(1.04,1)" font-size="6.2" font-style="italic" fill="#6e6e6e" text-anchor="middle" dy="2.2">-100</text>
<line x1="967.50" y1="627.40" x2="967.50" y2="626.00" stroke="#333" stroke-width="0.5" />
<text transform="translate(977.3,620.8) rotate(-45) scale(1.04,1)" font-size="6.2" font-style="italic" fill="#6e6e6e" text-anchor="middle" dy="2.2">0</text>
<line x1="977.30" y1="627.40" x2="977.30" y2="626.00" stroke="#333" stroke-width="0.5" />
<text transform="translate(987.4,620.8) rotate(-45) scale(1.04,1)" font-size="6.2" font-style="italic" fill="#6e6e6e" text-anchor="middle" dy="2.2">1k</text>
<line x1="987.40" y1="627.40" x2="987.40" y2="626.00" stroke="#333" stroke-width="0.5" />
<text transform="translate(997.5,620.8) rotate(-45) scale(1.04,1)" font-size="6.2" font-style="italic" fill="#6e6e6e" text-anchor="middle" dy="2.2">2k</text>
<line x1="997.50" y1="627.40" x2="997.50" y2="626.00" stroke="#333" stroke-width="0.5" />
<rect x="767.50" y="502.40" width="59.70" height="125.00" fill="none" stroke="#686868" stroke-width="1.0" />
<rect x="827.20" y="502.40" width="60.10" height="125.00" fill="none" stroke="#686868" stroke-width="1.0" />
<rect x="887.30" y="502.40" width="60.20" height="125.00" fill="none" stroke="#686868" stroke-width="1.0" />
<rect x="947.50" y="502.40" width="60.40" height="125.00" fill="none" stroke="#686868" stroke-width="1.0" />
<line x1="14.00" y1="41.25" x2="1007.30" y2="41.25" stroke="#fff" stroke-width="1.3" />
<line x1="13.10" y1="41.25" x2="1008.20" y2="41.25" stroke="#9a9a9a" stroke-width="0.95" />
</svg>
</body></html>
